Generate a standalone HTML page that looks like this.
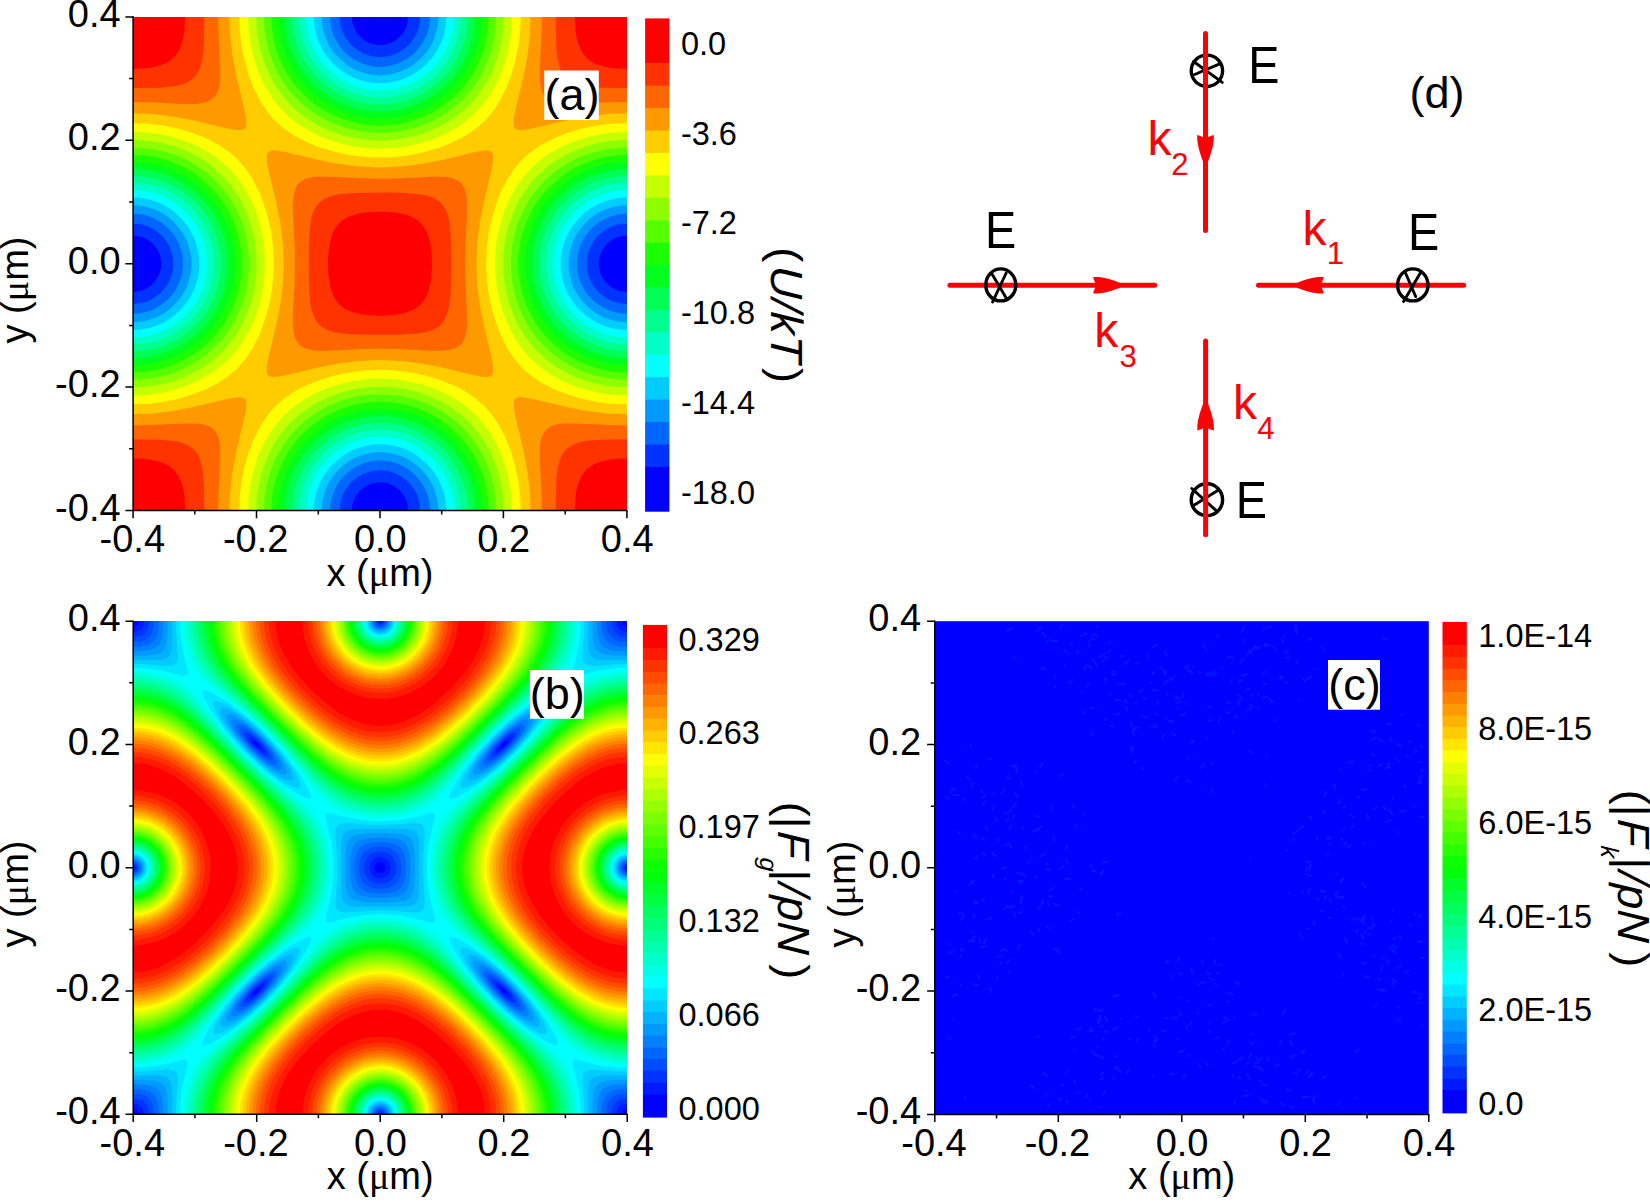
<!DOCTYPE html>
<html lang="en"><head><meta charset="utf-8"><title>Optical lattice potential and forces</title>
<style>html,body{margin:0;padding:0;background:#fff;overflow:hidden}svg{display:block}</style></head>
<body>
<svg width="1650" height="1204" viewBox="0 0 1650 1204" font-family="'Liberation Sans',sans-serif" fill="#000">
<rect width="1650" height="1204" fill="#fff"/>
<defs>
<clipPath id="ca"><rect x="133.0" y="17.0" width="494.0" height="494.0"/></clipPath>
<clipPath id="cb"><rect x="133.0" y="621.0" width="494.0" height="494.0"/></clipPath>
</defs>
<g clip-path="url(#ca)"><rect x="133" y="17" width="494" height="494" fill="#0000ff"/>
<path fill="#0033ff" d="M132.1 15.9l219.8 0 0.4 6.2 1.1 4.1 3.1 6.2 3.4 4.2 5 4.1 4.8 2.4 6.2 1.7 4.1 0.3 4.1-0.3 6.2-1.7 4.8-2.4 5-4.1 3.4-4.2 3.1-6.2 1.1-4.1 0.4-6.2 219.8 0 0 219.7 -6.2 0.4 -4.1 1.1 -6.2 3.1 -4.2 3.4 -4.1 5.1 -2.4 4.7 -1.7 6.2 -0.3 4.1 0.3 4.1 1.7 6.2 2.4 4.7 4.1 5.1 4.2 3.4 6.2 3.1 4.1 1.1 6.2 0.4 0 219.7 -219.8 0 -0.4-6.2 -1.1-4.1 -3.1-6.2 -3.4-4.2 -5-4.1 -4.8-2.4 -6.2-1.7 -4.1-0.3 -4.1 0.3 -6.2 1.7 -4.8 2.4 -5 4.1 -3.4 4.2 -3.1 6.2 -1.1 4.1 -0.4 6.2 -219.8 0 0-219.7 6.2-0.4 4.1-1.1 6.2-3.1 4.2-3.4 4.1-5.1 2.4-4.7 1.7-6.2 0.3-4.1 -0.3-4.1 -1.7-6.2 -2.4-4.7 -4.1-5.1 -4.2-3.4 -6.2-3.1 -4.1-1.1 -6.2-0.4z"/>
<path fill="#0066ff" d="M132.1 15.9l207.6 0 0.6 8.3 2.5 8.2 3.3 6.2 5 6.3 6.2 5.2 6.2 3.5 8.2 2.7 8.3 0.9 8.3-0.9 8.2-2.7 6.2-3.5 6.2-5.2 5-6.3 3.3-6.2 2.5-8.2 0.6-8.3 207.6 0 0 207.5 -8.3 0.7 -8.2 2.4 -6.2 3.3 -6.3 5 -5.3 6.2 -3.4 6.2 -2.8 8.2 -0.8 8.3 0.8 8.3 2.8 8.2 3.4 6.2 5.3 6.2 6.3 5 6.2 3.3 8.2 2.4 8.3 0.7 0 207.5 -207.6 0 -0.6-8.3 -2.5-8.2 -3.3-6.2 -5-6.3 -6.2-5.2 -6.2-3.5 -8.2-2.7 -8.3-0.9 -8.3 0.9 -8.2 2.7 -6.2 3.5 -6.2 5.2 -5 6.3 -3.3 6.2 -2.5 8.2 -0.6 8.3 -207.6 0 0-207.5 8.3-0.7 8.2-2.4 6.2-3.3 6.3-5 5.3-6.2 3.4-6.2 2.8-8.2 0.8-8.3 -0.8-8.3 -2.8-8.2 -3.4-6.2 -5.3-6.2 -6.3-5 -6.2-3.3 -8.2-2.4 -8.3-0.7z"/>
<path fill="#0099ff" d="M132.1 15.9l197.9 0 0.3 6.2 0.6 4.1 1.6 6.2 1.6 4.2 4.5 8.2 6.3 7.6 4.1 3.6 4.1 3 8.3 4.3 8.3 2.5 4.1 0.7 6.2 0.4 6.2-0.4 4.1-0.7 8.3-2.5 8.3-4.3 4.1-3 4.1-3.6 6.3-7.6 4.5-8.2 1.6-4.2 1.6-6.2 0.6-4.1 0.3-6.2 197.9 0 0 197.8 -6.2 0.3 -4.1 0.6 -6.2 1.6 -4.2 1.6 -8.2 4.5 -7.6 6.3 -3.6 4.1 -3 4.2 -4.3 8.2 -2.5 8.3 -0.7 4.1 -0.4 6.2 0.4 6.2 0.7 4.1 2.5 8.3 4.3 8.2 3 4.2 3.6 4.1 7.6 6.3 8.2 4.5 4.2 1.6 6.2 1.6 4.1 0.6 6.2 0.3 0 197.8 -197.9 0 -0.3-6.2 -0.6-4.1 -1.6-6.2 -1.6-4.2 -4.5-8.2 -6.3-7.6 -4.1-3.6 -4.1-3 -8.3-4.3 -8.3-2.5 -4.1-0.7 -6.2-0.4 -6.2 0.4 -4.1 0.7 -8.3 2.5 -8.3 4.3 -4.1 3 -4.1 3.6 -6.3 7.6 -4.5 8.2 -1.6 4.2 -1.6 6.2 -0.6 4.1 -0.3 6.2 -197.9 0 0-197.8 6.2-0.3 4.1-0.6 6.2-1.6 4.2-1.6 8.2-4.5 7.6-6.3 3.6-4.1 3-4.2 4.3-8.2 2.5-8.3 0.7-4.1 0.4-6.2 -0.4-6.2 -0.7-4.1 -2.5-8.3 -4.3-8.2 -3-4.2 -3.6-4.1 -7.6-6.3 -8.2-4.5 -4.2-1.6 -6.2-1.6 -4.1-0.6 -6.2-0.3z"/>
<path fill="#00ccff" d="M132.1 15.9l189.4 0 0.3 6.2 0.9 6.2 3.1 10.3 2.6 5.6 2.8 4.7 3.4 4.6 4.1 4.6 8.2 6.9 4.2 2.6 6.2 3.1 10.3 3.3 6.2 1 6.2 0.4 6.2-0.4 6.2-1 10.3-3.3 6.2-3.1 4.2-2.6 8.2-6.9 4.1-4.6 3.4-4.6 2.8-4.7 2.6-5.6 3.1-10.3 0.9-6.2 0.3-6.2 189.4 0 0 189.3 -6.2 0.3 -6.2 0.9 -10.3 3.1 -5.6 2.6 -4.8 2.8 -4.5 3.4 -4.6 4.1 -6.9 8.3 -2.6 4.1 -3.1 6.2 -3.3 10.3 -1 6.2 -0.4 6.2 0.4 6.2 1 6.2 3.3 10.3 3.1 6.2 2.6 4.1 6.9 8.3 4.6 4.1 4.5 3.4 4.8 2.8 5.6 2.6 10.3 3.1 6.2 0.9 6.2 0.3 0 189.3 -189.4 0 -0.3-6.2 -0.9-6.2 -3.1-10.3 -2.6-5.6 -2.8-4.7 -3.4-4.6 -4.1-4.6 -8.2-6.9 -4.2-2.6 -6.2-3.1 -10.3-3.3 -6.2-1 -6.2-0.4 -6.2 0.4 -6.2 1 -10.3 3.3 -6.2 3.1 -4.2 2.6 -8.2 6.9 -4.1 4.6 -3.4 4.6 -2.8 4.7 -2.6 5.6 -3.1 10.3 -0.9 6.2 -0.3 6.2 -189.4 0 0-189.3 6.2-0.3 6.2-0.9 10.3-3.1 5.6-2.6 4.8-2.8 4.5-3.4 4.6-4.1 6.9-8.3 2.6-4.1 3.1-6.2 3.3-10.3 1-6.2 0.4-6.2 -0.4-6.2 -1-6.2 -3.3-10.3 -3.1-6.2 -2.6-4.1 -6.9-8.3 -4.6-4.1 -4.5-3.4 -4.8-2.8 -5.6-2.6 -10.3-3.1 -6.2-0.9 -6.2-0.3z"/>
<path fill="#00ffff" d="M132.1 15.9l181.6 0 0.2 6.2 0.8 6.2 1.4 6.2 2.1 6.2 2.8 6.2 3.6 6.2 3.8 5.1 4.6 5.2 4.5 4.1 5.4 4.2 6.1 3.7 6.2 2.9 6.2 2.2 6.2 1.5 6.2 0.9 6.2 0.3 6.2-0.3 6.2-0.9 6.2-1.5 6.2-2.2 6.2-2.9 6.1-3.7 5.4-4.2 4.5-4.1 4.6-5.2 3.8-5.1 3.6-6.2 2.8-6.2 2.1-6.2 1.4-6.2 0.8-6.2 0.2-6.2 181.6 0 0 181.5 -6.2 0.2 -6.2 0.8 -6.2 1.5 -6.2 2 -6.2 2.8 -6.2 3.6 -5.1 3.8 -5.2 4.6 -4.1 4.5 -4.2 5.4 -3.7 6.1 -2.9 6.2 -2.2 6.2 -1.5 6.2 -0.9 6.2 -0.3 6.2 0.3 6.2 0.9 6.2 1.5 6.2 2.2 6.2 2.9 6.2 3.7 6.1 4.2 5.4 4.1 4.5 5.2 4.6 5.1 3.8 6.2 3.6 6.2 2.8 6.2 2 6.2 1.5 6.2 0.8 6.2 0.2 0 181.5 -181.6 0 -0.2-6.2 -0.8-6.2 -1.4-6.2 -2.1-6.2 -2.8-6.2 -3.6-6.2 -3.8-5.1 -4.6-5.2 -4.5-4.1 -5.4-4.2 -6.1-3.7 -6.2-2.9 -6.2-2.2 -6.2-1.5 -6.2-0.9 -6.2-0.3 -6.2 0.3 -6.2 0.9 -6.2 1.5 -6.2 2.2 -6.2 2.9 -6.1 3.7 -5.4 4.2 -4.5 4.1 -4.6 5.2 -3.8 5.1 -3.6 6.2 -2.8 6.2 -2.1 6.2 -1.4 6.2 -0.8 6.2 -0.2 6.2 -181.6 0 0-181.5 6.2-0.2 6.2-0.8 6.2-1.5 6.2-2 6.2-2.8 6.2-3.6 5.1-3.8 5.2-4.6 4.1-4.5 4.2-5.4 3.7-6.1 2.9-6.2 2.2-6.2 1.5-6.2 0.9-6.2 0.3-6.2 -0.3-6.2 -0.9-6.2 -1.5-6.2 -2.2-6.2 -2.9-6.2 -3.7-6.1 -4.2-5.4 -4.1-4.5 -5.2-4.6 -5.1-3.8 -6.2-3.6 -6.2-2.8 -6.2-2 -6.2-1.5 -6.2-0.8 -6.2-0.2z"/>
<path fill="#00ffc6" d="M132.1 15.9l174.2 0 0.4 8.3 0.9 6.2 2.1 8.2 2.2 6.2 3 6.2 3.6 6.2 4.6 6.2 5.3 5.8 6.2 5.4 6.1 4.4 6.2 3.6 6.2 2.8 6.2 2.1 6.2 1.6 6.2 1 8.3 0.4 8.3-0.4 6.2-1 6.2-1.6 6.2-2.1 6.2-2.8 6.2-3.6 6.1-4.4 6.2-5.4 5.3-5.8 4.6-6.2 3.6-6.2 3-6.2 2.2-6.2 2.1-8.2 0.9-6.2 0.4-8.3 174.2 0 0 174.2 -8.3 0.3 -6.2 0.9 -8.2 2.1 -6.2 2.3 -6.2 2.9 -6.2 3.7 -6.2 4.5 -5.8 5.3 -5.5 6.2 -4.4 6.2 -3.5 6.2 -2.8 6.2 -2.1 6.1 -1.6 6.2 -1 6.2 -0.5 8.3 0.5 8.3 1 6.2 1.6 6.2 2.1 6.1 2.8 6.2 3.5 6.2 4.4 6.2 5.5 6.2 5.8 5.3 6.2 4.5 6.2 3.7 6.2 2.9 6.2 2.3 8.2 2.1 6.2 0.9 8.3 0.3 0 174.2 -174.2 0 -0.4-8.3 -0.9-6.2 -2.1-8.2 -2.2-6.2 -3-6.2 -3.6-6.2 -4.6-6.2 -5.3-5.8 -6.2-5.4 -6.1-4.4 -6.2-3.6 -6.2-2.8 -6.2-2.1 -6.2-1.6 -6.2-1 -8.3-0.4 -8.3 0.4 -6.2 1 -6.2 1.6 -6.2 2.1 -6.2 2.8 -6.2 3.6 -6.1 4.4 -6.2 5.4 -5.3 5.8 -4.6 6.2 -3.6 6.2 -3 6.2 -2.2 6.2 -2.1 8.2 -0.9 6.2 -0.4 8.3 -174.2 0 0-174.2 8.3-0.3 6.2-0.9 8.2-2.1 6.2-2.3 6.2-2.9 6.2-3.7 6.2-4.5 5.8-5.3 5.5-6.2 4.4-6.2 3.5-6.2 2.8-6.2 2.1-6.1 1.6-6.2 1-6.2 0.5-8.3 -0.5-8.3 -1-6.2 -1.6-6.2 -2.1-6.1 -2.8-6.2 -3.5-6.2 -4.4-6.2 -5.5-6.2 -5.8-5.3 -6.2-4.5 -6.2-3.7 -6.2-2.9 -6.2-2.3 -8.2-2.1 -6.2-0.9 -8.3-0.3z"/>
<path fill="#00ff8e" d="M132.1 15.9l167.1 0 0.4 8.3 1.2 8.2 2.1 8.3 2.2 6.2 3.9 8.2 3.7 6.2 4.6 6.2 5.6 6.2 5.5 5.1 6.2 4.7 7.7 4.7 6.7 3.2 6.2 2.3 8.3 2.2 8.2 1.3 8.3 0.4 8.3-0.4 8.2-1.3 8.3-2.2 6.2-2.3 6.7-3.2 7.7-4.7 6.2-4.7 5.5-5.1 5.6-6.2 4.6-6.2 3.7-6.2 3.9-8.2 2.2-6.2 2.1-8.3 1.2-8.2 0.4-8.3 167.1 0 0 167.1 -8.3 0.3 -8.2 1.2 -8.3 2.1 -6.2 2.2 -8.3 3.9 -6.1 3.8 -6.2 4.5 -6.2 5.6 -5.1 5.5 -4.7 6.2 -4.7 7.7 -3.2 6.7 -2.3 6.2 -2.2 8.3 -1.3 8.2 -0.5 8.3 0.5 8.3 1.3 8.2 2.2 8.3 2.3 6.2 3.2 6.7 4.7 7.7 4.7 6.2 5.1 5.5 6.2 5.6 6.2 4.5 6.1 3.8 8.3 3.9 6.2 2.2 8.3 2.1 8.2 1.2 8.3 0.3 0 167.1 -167.1 0 -0.4-8.3 -1.2-8.2 -2.1-8.3 -2.2-6.2 -3.9-8.2 -3.7-6.2 -4.6-6.2 -5.6-6.2 -5.5-5.1 -6.2-4.7 -7.7-4.7 -6.7-3.2 -6.2-2.3 -8.3-2.2 -8.2-1.3 -8.3-0.4 -8.3 0.4 -8.2 1.3 -8.3 2.2 -6.2 2.3 -6.7 3.2 -7.7 4.7 -6.2 4.7 -5.5 5.1 -5.6 6.2 -4.6 6.2 -3.7 6.2 -3.9 8.2 -2.2 6.2 -2.1 8.3 -1.2 8.2 -0.4 8.3 -167.1 0 0-167.1 8.3-0.3 8.2-1.2 8.3-2.1 6.2-2.2 8.3-3.9 6.1-3.8 6.2-4.5 6.2-5.6 5.1-5.5 4.7-6.2 3.8-6.2 4.1-8.2 2.3-6.2 2.2-8.3 1.3-8.2 0.5-8.3 -0.5-8.3 -1.3-8.2 -2.2-8.3 -2.3-6.2 -4.1-8.2 -3.8-6.2 -4.7-6.2 -5.1-5.5 -6.2-5.6 -6.2-4.5 -6.1-3.8 -8.3-3.9 -6.2-2.2 -8.3-2.1 -8.2-1.2 -8.3-0.3z"/>
<path fill="#00ff55" d="M132.1 15.9l160.1 0 0.3 8.3 1.1 8.2 2 8.3 2.8 8.2 3.8 8.3 4.9 8.3 4.7 6.4 6.2 6.9 6.2 5.6 7.9 5.8 7 4.2 7.8 3.7 8.3 2.9 8.3 2 8.2 1.2 8.3 0.4 8.3-0.4 8.2-1.2 8.3-2 8.3-2.9 7.8-3.7 7-4.2 7.9-5.8 6.2-5.6 6.2-6.9 4.7-6.4 4.9-8.3 3.8-8.3 2.8-8.2 2-8.3 1.1-8.2 0.3-8.3 160.1 0 0 160.1 -8.3 0.3 -8.2 1.1 -8.3 1.9 -8.3 2.8 -8.2 3.8 -8.3 4.9 -6.4 4.8 -6.9 6.2 -5.7 6.1 -5.8 7.9 -4.1 7 -3.7 7.9 -2.9 8.2 -2.1 8.3 -1.2 8.2 -0.4 8.3 0.4 8.3 1.2 8.2 2.1 8.3 2.9 8.2 3.7 7.9 4.1 7 5.8 7.9 5.7 6.1 6.9 6.2 6.4 4.8 8.3 4.9 8.2 3.8 8.3 2.8 8.3 1.9 8.2 1.1 8.3 0.3 0 160.1 -160.1 0 -0.3-8.3 -1.1-8.2 -2-8.3 -2.8-8.2 -3.8-8.3 -4.9-8.3 -4.7-6.4 -6.2-6.9 -6.2-5.6 -7.9-5.8 -7-4.2 -7.8-3.7 -8.3-2.9 -8.3-2 -8.2-1.2 -8.3-0.4 -8.3 0.4 -8.2 1.2 -8.3 2 -8.3 2.9 -7.8 3.7 -7 4.2 -7.9 5.8 -6.2 5.6 -6.2 6.9 -4.7 6.4 -4.9 8.3 -3.8 8.3 -2.8 8.2 -2 8.3 -1.1 8.2 -0.3 8.3 -160.1 0 0-160.1 8.3-0.3 8.2-1.1 8.3-1.9 8.3-2.8 8.2-3.8 8.3-4.9 6.4-4.8 6.9-6.2 5.7-6.1 5.8-7.9 4.1-7 3.7-7.9 2.9-8.2 2.1-8.3 1.2-8.2 0.4-8.3 -0.4-8.3 -1.2-8.2 -2.1-8.3 -2.9-8.2 -3.7-7.9 -4.1-7 -5.8-7.9 -5.7-6.1 -6.9-6.2 -6.4-4.8 -8.3-4.9 -8.2-3.8 -8.3-2.8 -8.3-1.9 -8.2-1.1 -8.3-0.3z"/>
<path fill="#00ff1c" d="M132.1 15.9l153.2 0 0.5 10.3 1.2 8.3 2.5 10.3 3 8.3 4 8.2 4.9 8.3 6.3 8.2 5.7 6.2 6.9 6.2 8.1 5.9 8.2 4.9 8.1 3.7 8.4 2.9 8.3 2.1 8.3 1.3 10.3 0.6 10.3-0.6 8.3-1.3 8.3-2.1 8.4-2.9 8.1-3.7 8.2-4.9 8.1-5.9 6.9-6.2 5.7-6.2 6.3-8.2 4.9-8.3 4-8.2 3-8.3 2.5-10.3 1.2-8.3 0.5-10.3 153.2 0 0 153.1 -10.3 0.5 -8.3 1.2 -10.3 2.6 -8.3 3 -8.2 3.9 -8.3 5 -8.3 6.2 -6.2 5.7 -6.2 6.9 -5.9 8.1 -4.8 8.2 -3.7 8.2 -3 8.4 -2 8.2 -1.3 8.3 -0.6 10.3 0.6 10.3 1.3 8.3 2 8.2 3 8.4 3.7 8.2 4.8 8.2 5.9 8.1 6.2 6.9 6.2 5.7 8.3 6.2 8.3 5 8.2 3.9 8.3 3 10.3 2.6 8.3 1.2 10.3 0.5 0 153.1 -153.2 0 -0.5-10.3 -1.2-8.3 -2.5-10.3 -3-8.3 -4-8.2 -4.9-8.3 -6.3-8.2 -5.7-6.2 -6.9-6.2 -8.1-5.9 -8.2-4.9 -8.1-3.7 -8.4-2.9 -8.3-2.1 -8.3-1.3 -10.3-0.6 -10.3 0.6 -8.3 1.3 -8.3 2.1 -8.4 2.9 -8.1 3.7 -8.2 4.9 -8.1 5.9 -6.9 6.2 -5.7 6.2 -6.3 8.2 -4.9 8.3 -4 8.2 -3 8.3 -2.5 10.3 -1.2 8.3 -0.5 10.3 -153.2 0 0-153.1 10.3-0.5 8.3-1.2 10.3-2.6 8.3-3 8.2-3.9 8.3-5 8.3-6.2 6.2-5.7 6.2-6.9 5.9-8.1 4.8-8.2 3.7-8.2 3-8.4 2-8.2 1.3-8.3 0.6-10.3 -0.6-10.3 -1.3-8.3 -2-8.2 -3-8.4 -3.7-8.2 -4.8-8.2 -5.9-8.1 -6.2-6.9 -6.2-5.7 -8.3-6.2 -8.3-5 -8.2-3.9 -8.3-3 -10.3-2.6 -8.3-1.2 -10.3-0.5z"/>
<path fill="#1cff00" d="M132.1 15.9l146.2 0 0.4 10.3 1.5 10.4 2.6 10.3 3 8.2 3.8 8.3 5.7 9.8 6.2 8.4 6.2 6.8 6.4 6 8.1 6.2 8.2 5.1 10.3 5 8.3 3 10.3 2.7 10.4 1.6 10.3 0.5 10.3-0.5 10.4-1.6 10.3-2.7 8.3-3 10.3-5 8.2-5.1 8.1-6.2 6.4-6 6.2-6.8 6.2-8.4 5.7-9.8 3.8-8.3 3-8.2 2.6-10.3 1.5-10.4 0.4-10.3 146.2 0 0 146.2 -10.3 0.4 -10.4 1.5 -10.3 2.6 -8.3 2.9 -8.2 3.8 -9.8 5.7 -8.4 6.2 -6.9 6.2 -5.9 6.4 -6.2 8.1 -5.1 8.2 -5 10.4 -3 8.2 -2.8 10.3 -1.6 10.4 -0.5 10.3 0.5 10.3 1.6 10.4 2.8 10.3 3 8.2 5 10.4 5.1 8.2 6.2 8.1 5.9 6.4 6.9 6.2 8.4 6.2 9.8 5.7 8.2 3.8 8.3 2.9 10.3 2.6 10.4 1.5 10.3 0.4 0 146.2 -146.2 0 -0.4-10.3 -1.5-10.4 -2.6-10.3 -3-8.2 -3.8-8.3 -5.7-9.8 -6.2-8.4 -6.2-6.8 -6.4-6 -8.1-6.2 -8.2-5.1 -10.3-5 -8.3-3 -10.3-2.7 -10.4-1.6 -10.3-0.5 -10.3 0.5 -10.4 1.6 -10.3 2.7 -8.3 3 -10.3 5 -8.2 5.1 -8.1 6.2 -6.4 6 -6.2 6.8 -6.2 8.4 -5.7 9.8 -3.8 8.3 -3 8.2 -2.6 10.3 -1.5 10.4 -0.4 10.3 -146.2 0 0-146.2 10.3-0.4 10.4-1.5 10.3-2.6 8.3-2.9 8.2-3.8 9.8-5.7 8.4-6.2 6.9-6.2 5.9-6.4 6.2-8.1 5.1-8.2 5-10.4 3-8.2 2.8-10.3 1.6-10.4 0.5-10.3 -0.5-10.3 -1.6-10.4 -2.8-10.3 -3-8.2 -5-10.4 -5.1-8.2 -6.2-8.1 -5.9-6.4 -6.9-6.2 -8.4-6.2 -9.8-5.7 -8.2-3.8 -8.3-2.9 -10.3-2.6 -10.4-1.5 -10.3-0.4z"/>
<path fill="#55ff00" d="M132.1 15.9l139.1 0 0.6 12.4 1.6 10.3 2.6 10.3 3.7 10.4 4.9 10.3 5 8.2 6.1 8.3 7.5 8.3 8.6 7.6 8.3 6 8.5 5 10.1 4.6 10.3 3.6 10.3 2.5 10.4 1.5 10.3 0.5 10.3-0.5 10.4-1.5 10.3-2.5 10.3-3.6 10.1-4.6 8.5-5 8.3-6 8.6-7.6 7.5-8.3 6.1-8.3 5-8.2 4.9-10.3 3.7-10.4 2.6-10.3 1.6-10.3 0.6-12.4 139.1 0 0 139.1 -12.4 0.5 -10.3 1.6 -10.4 2.6 -10.3 3.7 -10.3 4.9 -8.3 5 -8.2 6.1 -8.3 7.5 -7.7 8.7 -5.9 8.2 -5 8.5 -4.7 10.1 -3.6 10.3 -2.4 10.3 -1.5 10.4 -0.5 10.3 0.5 10.3 1.5 10.4 2.4 10.3 3.6 10.3 4.7 10.1 5 8.5 5.9 8.2 7.7 8.7 8.3 7.5 8.2 6.1 8.3 5 10.3 4.9 10.3 3.7 10.4 2.6 10.3 1.6 12.4 0.5 0 139.1 -139.1 0 -0.6-12.4 -1.6-10.3 -2.6-10.3 -3.7-10.4 -4.9-10.3 -5-8.2 -6.1-8.3 -7.5-8.3 -8.6-7.6 -8.3-6 -8.5-5 -10.1-4.6 -10.3-3.6 -10.3-2.5 -10.4-1.5 -10.3-0.5 -10.3 0.5 -10.4 1.5 -10.3 2.5 -10.3 3.6 -10.1 4.6 -8.5 5 -8.3 6 -8.6 7.6 -7.5 8.3 -6.1 8.3 -5 8.2 -4.9 10.3 -3.7 10.4 -2.6 10.3 -1.6 10.3 -0.6 12.4 -139.1 0 0-139.1 12.4-0.5 10.3-1.6 10.4-2.6 10.3-3.7 10.3-4.9 8.3-5 8.2-6.1 8.3-7.5 7.7-8.7 5.9-8.2 5-8.5 4.7-10.1 3.6-10.3 2.4-10.3 1.5-10.4 0.5-10.3 -0.5-10.3 -1.5-10.4 -2.4-10.3 -3.6-10.3 -4.7-10.1 -5-8.5 -5.9-8.2 -7.7-8.7 -8.3-7.5 -8.2-6.1 -8.3-5 -10.3-4.9 -10.3-3.7 -10.4-2.6 -10.3-1.6 -12.4-0.5z"/>
<path fill="#8eff00" d="M132.1 15.9l131.8 0 0.5 12.4 1.4 10.3 3 12.4 3.6 10.3 4.6 10.4 6.1 10.3 6 8.3 8.3 9.3 7.9 7.2 8.6 6.3 10.3 6.2 10.4 4.8 10.3 3.7 12.4 3 10.3 1.5 12.4 0.7 12.4-0.7 10.3-1.5 12.4-3 10.3-3.7 10.4-4.8 10.3-6.2 8.6-6.3 7.9-7.2 8.3-9.3 6-8.3 6.1-10.3 4.6-10.4 3.6-10.3 3-12.4 1.4-10.3 0.5-12.4 131.8 0 0 131.7 -12.4 0.6 -10.3 1.4 -12.4 2.9 -10.3 3.6 -10.4 4.7 -10.3 6 -8.4 6 -9.2 8.3 -7.2 7.9 -6.4 8.6 -6.1 10.3 -4.8 10.4 -3.7 10.3 -3.1 12.4 -1.5 10.3 -0.6 12.4 0.6 12.4 1.5 10.3 3.1 12.4 3.7 10.3 4.8 10.4 6.1 10.3 6.4 8.6 7.2 7.9 9.2 8.3 8.4 6 10.3 6 10.4 4.7 10.3 3.6 12.4 2.9 10.3 1.4 12.4 0.6 0 131.7 -131.8 0 -0.5-12.4 -1.4-10.3 -3-12.4 -3.6-10.3 -4.6-10.4 -6.1-10.3 -6-8.3 -8.3-9.3 -7.9-7.2 -8.6-6.3 -10.3-6.2 -10.4-4.8 -10.3-3.7 -12.4-3 -10.3-1.5 -12.4-0.7 -12.4 0.7 -10.3 1.5 -12.4 3 -10.3 3.7 -10.4 4.8 -10.3 6.2 -8.6 6.3 -7.9 7.2 -8.3 9.3 -6 8.3 -6.1 10.3 -4.6 10.4 -3.6 10.3 -3 12.4 -1.4 10.3 -0.5 12.4 -131.8 0 0-131.7 12.4-0.6 10.3-1.4 12.4-2.9 10.3-3.6 10.4-4.7 10.3-6 8.4-6 9.2-8.3 7.2-7.9 6.4-8.6 6.1-10.3 4.8-10.4 3.7-10.3 3.1-12.4 1.5-10.3 0.6-12.4 -0.6-12.4 -1.5-10.3 -3.1-12.4 -3.7-10.3 -4.8-10.4 -6.1-10.3 -6.4-8.6 -7.2-7.9 -9.2-8.3 -8.4-6 -10.3-6 -10.4-4.7 -10.3-3.6 -12.4-2.9 -10.3-1.4 -12.4-0.6z"/>
<path fill="#c6ff00" d="M132.1 15.9l124.1 0 0.5 12.4 1.6 12.4 2.9 12.4 4.2 12.4 5.1 11.4 6.2 10.7 6.4 8.8 8.1 9.1 8.2 7.5 10.4 7.5 10.3 5.9 10.3 4.7 12.4 4.3 12.4 2.9 12.4 1.8 12.4 0.6 12.4-0.6 12.4-1.8 12.4-2.9 12.4-4.3 10.3-4.7 10.3-5.9 10.4-7.5 8.2-7.5 8.1-9.1 6.4-8.8 6.2-10.7 5.1-11.4 4.2-12.4 2.9-12.4 1.6-12.4 0.5-12.4 124.1 0 0 124.1 -12.4 0.4 -12.4 1.7 -12.4 2.8 -12.4 4.2 -11.4 5.2 -10.7 6.1 -8.9 6.4 -9 8.1 -7.5 8.3 -7.5 10.3 -5.9 10.3 -4.7 10.3 -4.3 12.4 -3 12.4 -1.7 12.4 -0.6 12.4 0.6 12.4 1.7 12.4 3 12.4 4.3 12.4 4.7 10.3 5.9 10.3 7.5 10.3 7.5 8.3 9 8.1 8.9 6.4 10.7 6.1 11.4 5.2 12.4 4.2 12.4 2.8 12.4 1.7 12.4 0.4 0 124.1 -124.1 0 -0.5-12.4 -1.6-12.4 -2.9-12.4 -4.2-12.4 -5.1-11.4 -6.2-10.7 -6.4-8.8 -8.1-9.1 -8.2-7.5 -10.4-7.5 -10.3-5.9 -10.3-4.7 -12.4-4.3 -12.4-2.9 -12.4-1.8 -12.4-0.6 -12.4 0.6 -12.4 1.8 -12.4 2.9 -12.4 4.3 -10.3 4.7 -10.3 5.9 -10.4 7.5 -8.2 7.5 -8.1 9.1 -6.4 8.8 -6.2 10.7 -5.1 11.4 -4.2 12.4 -2.9 12.4 -1.6 12.4 -0.5 12.4 -124.1 0 0-124.1 12.4-0.4 12.4-1.7 12.4-2.8 12.4-4.2 11.4-5.2 10.7-6.1 8.9-6.4 9-8.1 7.5-8.3 7.5-10.3 5.9-10.3 4.7-10.3 4.3-12.4 3-12.4 1.7-12.4 0.6-12.4 -0.6-12.4 -1.7-12.4 -3-12.4 -4.3-12.4 -4.7-10.3 -5.9-10.3 -7.5-10.3 -7.5-8.3 -9-8.1 -8.9-6.4 -10.7-6.1 -11.4-5.2 -12.4-4.2 -12.4-2.8 -12.4-1.7 -12.4-0.4z"/>
<path fill="#ffff00" d="M132.1 15.9l116 0 0.5 14.5 1.7 12.3 3.2 14.5 4 12.4 5.3 12.4 7 12.4 6.9 9.6 8.1 9 8.4 7.4 10.4 7.3 10.5 5.9 12.2 5.4 12.4 4.1 14.4 3.3 14.5 1.9 12.4 0.5 12.4-0.5 14.5-1.9 14.4-3.3 12.4-4.1 12.2-5.4 10.5-5.9 10.4-7.3 8.4-7.4 8.1-9 6.9-9.6 7-12.4 5.3-12.4 4-12.4 3.2-14.5 1.7-12.3 0.5-14.5 116 0 0 115.9 -14.5 0.6 -12.4 1.6 -14.4 3.3 -12.4 4 -12.4 5.3 -12.4 7 -9.6 6.8 -9 8.2 -7.5 8.4 -7.3 10.3 -5.9 10.5 -5.3 12.2 -4.1 12.4 -3.4 14.5 -1.8 14.4 -0.5 12.4 0.5 12.4 1.8 14.4 3.4 14.5 4.1 12.4 5.3 12.2 5.9 10.5 7.3 10.3 7.5 8.4 9 8.2 9.6 6.8 12.4 7 12.4 5.3 12.4 4 14.4 3.3 12.4 1.6 14.5 0.6 0 115.9 -116 0 -0.5-14.5 -1.7-12.3 -3.2-14.5 -4-12.4 -5.3-12.4 -7-12.4 -6.9-9.6 -8.1-9 -8.4-7.4 -10.4-7.3 -10.5-5.9 -12.2-5.4 -12.4-4.1 -14.4-3.3 -14.5-1.9 -12.4-0.5 -12.4 0.5 -14.5 1.9 -14.4 3.3 -12.4 4.1 -12.2 5.4 -10.5 5.9 -10.4 7.3 -8.4 7.4 -8.1 9 -6.9 9.6 -7 12.4 -5.3 12.4 -4 12.4 -3.2 14.5 -1.7 12.3 -0.5 14.5 -116 0 0-115.9 14.5-0.6 12.4-1.6 14.4-3.3 12.4-4 12.4-5.3 12.4-7 9.6-6.8 9-8.2 7.5-8.4 7.3-10.3 5.9-10.5 5.3-12.2 4.1-12.4 3.4-14.5 1.8-14.4 0.5-12.4 -0.5-12.4 -1.8-14.4 -3.4-14.5 -4.1-12.4 -5.3-12.2 -5.9-10.5 -7.3-10.3 -7.5-8.4 -9-8.2 -9.6-6.8 -12.4-7 -12.4-5.3 -12.4-4 -14.4-3.3 -12.4-1.6 -14.5-0.6z"/>
<path fill="#ffcc00" d="M132.1 15.9l107.1 0 0.7 16.5 1.8 14.5 3.1 14.4 4.2 14.5 5.7 14.4 6.5 12.4 7 10.4 7.2 8.2 9.6 8.3 10.3 6.8 12.4 6.3 12.4 4.9 14.5 4.3 14.4 3.1 16.5 2.1 14.5 0.6 14.5-0.6 16.5-2.1 14.4-3.1 14.5-4.3 12.4-4.9 12.4-6.3 10.3-6.8 9.6-8.3 7.2-8.2 7-10.4 6.5-12.4 5.7-14.4 4.2-14.5 3.1-14.4 1.8-14.5 0.7-16.5 107.1 0 0 107.1 -16.5 0.7 -14.5 1.8 -14.4 3 -14.5 4.3 -14.5 5.7 -12.4 6.4 -10.3 7 -8.3 7.3 -8.2 9.5 -6.8 10.3 -6.3 12.4 -4.9 12.4 -4.4 14.5 -3.1 14.4 -2.1 16.5 -0.6 14.5 0.6 14.5 2.1 16.5 3.1 14.4 4.4 14.5 4.9 12.4 6.3 12.4 6.8 10.3 8.2 9.5 8.3 7.3 10.3 7 12.4 6.4 14.5 5.7 14.5 4.3 14.4 3 14.5 1.8 16.5 0.7 0 107.1 -107.1 0 -0.7-16.5 -1.8-14.5 -3.1-14.4 -4.2-14.5 -5.7-14.4 -6.5-12.4 -7-10.4 -7.2-8.2 -9.6-8.3 -10.3-6.8 -12.4-6.3 -12.4-4.9 -14.5-4.3 -14.4-3.1 -16.5-2.1 -14.5-0.6 -14.5 0.6 -16.5 2.1 -14.4 3.1 -14.5 4.3 -12.4 4.9 -12.4 6.3 -10.3 6.8 -9.6 8.3 -7.2 8.2 -7 10.4 -6.5 12.4 -5.7 14.4 -4.2 14.5 -3.1 14.4 -1.8 14.5 -0.7 16.5 -107.1 0 0-107.1 16.5-0.7 14.5-1.8 14.4-3 14.5-4.3 14.5-5.7 12.4-6.4 10.3-7 8.3-7.3 8.2-9.5 6.8-10.3 6.3-12.4 4.9-12.4 4.4-14.5 3.1-14.4 2.1-16.5 0.6-14.5 -0.6-14.5 -2.1-16.5 -3.1-14.4 -4.4-14.5 -4.9-12.4 -6.3-12.4 -6.8-10.3 -8.2-9.5 -8.3-7.3 -10.3-7 -12.4-6.4 -14.5-5.7 -14.5-4.3 -14.4-3 -14.5-1.8 -16.5-0.7z"/>
<path fill="#ff9900" d="M132.1 15.9l97.3 0 0.7 18.6 2 18.6 4.2 22.7 9.2 39.2 1 8.3 -0.8 4.3 -1.9 1.9 -2.2 0.6 -6.2-0.1 -10.3-2.1 -33.1-7.8 -18.6-3.6 -20.6-2.5 -20.7-0.8zM530.6 15.9l97.3 0 0 97.3 -18.6 0.6 -18.6 2.1 -22.7 4.2 -39.3 9.2 -8.2 1 -4.3-0.8 -1.9-1.9 -0.7-2.3 0.2-6.1 2-10.4 7.9-33 3.5-18.6 2.6-20.6zM268 152.2l2.5-1.5 2.1-0.3 4.1 0.1 10.3 1.9 35.2 8.4 16.5 3.1 20.6 2.6 20.7 0.9 20.7-0.9 20.6-2.6 20.7-4 31-7.5 8.2-1.6 6.2-0.4 2.1 0.3 2.1 1 1.5 2.6 0.3 2 -0.2 4.1 -1.9 10.4 -8.3 35.1 -3.2 16.5 -2.6 20.6 -0.9 20.7 0.9 20.7 2.6 20.6 4.1 20.6 7.4 31 1.6 8.3 0.5 6.2 -0.3 2 -1.1 2.1 -2.5 1.5 -2.1 0.3 -4.1-0.1 -10.3-1.9 -35.2-8.4 -16.5-3.1 -20.6-2.6 -20.7-0.9 -20.7 0.9 -20.6 2.6 -20.7 4 -31 7.5 -8.2 1.6 -6.2 0.4 -2.1-0.3 -2.1-1 -1.5-2.6 -0.3-2 0.2-4.1 1.9-10.4 8.3-35.1 3.2-16.5 2.6-20.6 0.9-20.7 -0.9-20.7 -2.6-20.6 -4.1-20.6 -7.4-31 -1.6-8.3 -0.5-6.2 0.3-2zM245.7 399.8l0.8 4.3 -1 8.3 -9.2 39.2 -4.2 22.7 -2 18.6 -0.7 18.6 -97.3 0 0-97.3 20.7-0.8 20.6-2.5 18.6-3.6 33.1-7.8 10.3-2.1 6.2-0.1 2.2 0.6zM514.3 399.8l1.9-1.9 2.2-0.6 6.2 0.1 10.3 2.1 33.1 7.8 18.6 3.6 20.6 2.5 20.7 0.8 0 97.3 -97.3 0 -0.7-18.6 -2-18.6 -4.2-22.7 -9.2-39.2 -1-8.3z"/>
<path fill="#ff6600" d="M132.1 15.9l86 0 0.4 18.6 1.7 33 0 10.3 -0.5 6.2 -0.8 4.4 -2.1 5.4 -2.1 3 -4.1 3.5 -4.1 1.8 -4.2 1 -6.2 0.8 -12.4 0.1 -33-1.7 -18.6-0.4zM541.9 15.9l86 0 0 86 -18.6 0.4 -33 1.7 -10.4 0 -6.2-0.5 -4.3-0.9 -5.4-2 -3.1-2.1 -3.4-4.1 -1.8-4.2 -1.1-4.1 -0.7-6.2 -0.1-12.4 1.7-33zM299.4 182.7l4.2-2.9 4.1-1.6 4.1-0.9 6.2-0.6 12.4 0 31 1.6 18.6 0.4 16.5-0.3 41.3-1.9 8.3 0.5 6.2 1.2 4.1 1.6 2.3 1.3 2.4 2.1 2.9 4.1 1.5 4.1 1 4.2 0.6 6.2 0 12.3 -1.7 31 -0.4 18.6 0.3 16.5 1.9 41.3 -0.5 8.3 -1.2 6.2 -1.5 4.1 -1.4 2.3 -2 2.3 -4.2 2.9 -4.1 1.6 -4.1 0.9 -6.2 0.6 -12.4 0 -31-1.6 -18.6-0.4 -16.5 0.3 -41.3 1.9 -8.3-0.5 -6.2-1.2 -4.1-1.6 -2.3-1.3 -2.4-2.1 -2.9-4.1 -1.5-4.1 -1-4.2 -0.6-6.2 0-12.3 1.7-31 0.4-18.6 -0.3-16.5 -1.9-41.3 0.5-8.3 1.2-6.2 1.5-4.1 1.4-2.3zM132.1 425.5l18.6-0.4 33-1.7 10.4 0 6.2 0.5 4.3 0.9 5.4 2 3.1 2.1 3.4 4.1 1.8 4.2 1.1 4.1 0.7 6.2 0.1 12.4 -1.7 33 -0.4 18.6 -86 0zM545.3 430.6l4.1-3.5 4.1-1.8 4.2-1 6.2-0.8 12.4-0.1 33 1.7 18.6 0.4 0 86 -86 0 -0.4-18.6 -1.7-33 0-10.3 0.5-6.2 0.8-4.4 2.1-5.4z"/>
<path fill="#ff3300" d="M132.1 15.9l72.2 0 -0.4 26.8 -0.5 8.3 -1.1 8.1 -1.5 6.4 -1.4 4.1 -2.2 4.1 -3.1 3.9 -4.2 3.4 -4.1 2.1 -4.1 1.5 -6.4 1.5 -8.1 1 -8.2 0.6 -26.9 0.4zM555.7 15.9l72.2 0 0 72.2 -26.9-0.4 -8.2-0.6 -8.1-1 -6.4-1.5 -4.1-1.5 -4.1-2.1 -4.2-3.4 -3.1-3.9 -2.2-4.1 -1.4-4.1 -1.5-6.4 -1.1-8.1 -0.5-8.3zM320.1 202l4.1-3 4.2-2 6.2-1.8 8.2-1.4 18.6-1.1 33.1-0.1 18.6 0.8 12.3 1.8 6.2 1.8 4.2 2 3.9 2.8 2.1 2 2.9 4.1 2 4.2 1.9 6.2 1.4 8.2 1 18.6 0.1 33.1 -0.7 18.5 -1.8 12.4 -1.9 6.2 -2 4.2 -2.7 3.9 -2.1 2 -4.1 3 -4.2 2 -6.2 1.8 -8.2 1.4 -18.6 1.1 -33.1 0.1 -18.6-0.8 -12.3-1.8 -6.2-1.8 -4.2-2 -3.9-2.8 -2.1-2 -2.9-4.1 -2-4.2 -1.9-6.2 -1.4-8.2 -1-18.6 -0.1-33.1 0.7-18.5 1.8-12.4 1.9-6.2 2-4.2 2.7-3.9zM132.1 439.3l26.9 0.4 8.2 0.6 8.1 1 6.4 1.5 4.1 1.5 4.1 2.1 4 3.2 3.3 4.1 2.2 4.1 1.4 4.1 1.5 6.4 1.1 8.1 0.5 8.3 0.4 26.8 -72.2 0zM565.9 449.8l4.2-3.4 4.1-2.1 4.1-1.5 6.4-1.5 8.1-1 8.2-0.6 26.9-0.4 0 72.2 -72.2 0 0.4-26.8 0.5-8.3 1.1-8.1 1.5-6.4 1.4-4.1 2.2-4.1z"/>
<path fill="#ff0000" d="M132.1 15.9l53.1 0 -0.7 14.5 -1.9 10.3 -3 8.5 -2.2 3.9 -3.3 4.1 -2.7 2.5 -4.2 2.7 -8.2 3.4 -6.2 1.5 -6.2 1 -14.5 0.7zM574.8 15.9l53.1 0 0 53.1 -14.5-0.7 -10.3-1.9 -8.5-3 -3.9-2.2 -4.1-3.3 -2.5-2.8 -2.7-4.1 -3.5-8.3 -1.5-6.1 -0.9-6.2zM342.5 220.3l3.2-2 4.3-2.1 9.3-2.7 12.4-1.6 14.5-0.2 10.3 1 10.4 2.4 4.1 1.5 4.1 2.2 2.4 1.5 3.8 3.5 2.3 2.7 2.5 4.2 1.8 4.1 1.7 5.3 1.9 11.2 0.6 14.5 -1.1 14.4 -2.3 10.3 -1.6 4.2 -2.1 4.1 -1.6 2.4 -3.4 3.8 -2.8 2.3 -4.1 2.5 -4.2 1.8 -5.2 1.7 -11.3 1.9 -14.5 0.6 -14.4-1.1 -10.4-2.4 -4.1-1.5 -4.1-2.2 -2.4-1.5 -3.8-3.5 -2.3-2.7 -2.5-4.2 -1.8-4.1 -1.9-6.2 -1.9-12.4 -0.4-8.2 0.1-8.3 1.3-12.4 2.8-10.3 1.8-4.1 2.5-4.2 2.3-2.7zM132.1 458.4l14.5 0.7 10.3 1.9 8.5 3 3.9 2.2 4.1 3.3 2.5 2.8 2.7 4.1 3.5 8.3 1.5 6.1 0.9 6.2 0.7 14.5 -53.1 0zM627.9 458.4l0 53.1 -53.1 0 0.7-14.5 0.9-6.2 1.5-6.1 3.5-8.3 2.7-4.1 2.5-2.8 4.1-3.3 3.9-2.2 8.5-3 10.3-1.9z"/>
</g>
<path d="M133.1 16.1V510.5H627.6" fill="none" stroke="#000" stroke-width="1.5"/>
<path d="M133.1 510.5v7.7M133.1 510.5h-7.7M194.8 510.5v4.0M133.1 448.8h-4.0M256.5 510.5v7.7M133.1 387.1h-7.7M318.3 510.5v4.0M133.1 325.4h-4.0M380.0 510.5v7.7M133.1 263.7h-7.7M441.7 510.5v4.0M133.1 202.0h-4.0M503.4 510.5v7.7M133.1 140.3h-7.7M565.2 510.5v4.0M133.1 78.6h-4.0M626.9 510.5v7.7M133.1 16.9h-7.7" stroke="#000" stroke-width="1.5" fill="none"/>
<text x="132.3" y="552.1" text-anchor="middle" font-size="38">-0.4</text>
<text x="120.6" y="520.5" text-anchor="end" font-size="38">-0.4</text>
<text x="255.7" y="552.1" text-anchor="middle" font-size="38">-0.2</text>
<text x="120.6" y="397.1" text-anchor="end" font-size="38">-0.2</text>
<text x="380.3" y="552.1" text-anchor="middle" font-size="38">0.0</text>
<text x="120.6" y="273.7" text-anchor="end" font-size="38">0.0</text>
<text x="503.7" y="552.1" text-anchor="middle" font-size="38">0.2</text>
<text x="120.6" y="150.3" text-anchor="end" font-size="38">0.2</text>
<text x="627.2" y="552.1" text-anchor="middle" font-size="38">0.4</text>
<text x="120.6" y="26.9" text-anchor="end" font-size="38">0.4</text>
<text x="380.0" y="585.5" text-anchor="middle" font-size="38">x (<tspan font-family="'Liberation Serif','DejaVu Serif',serif">μ</tspan>m)</text>
<text transform="translate(27.7 290.0) rotate(-90)" text-anchor="middle" font-size="38">y (<tspan font-family="'Liberation Serif','DejaVu Serif',serif">μ</tspan>m)</text>
<rect x="645.1" y="18.40" width="24.3" height="45.35" fill="#ff0000"/>
<rect x="645.1" y="63.25" width="24.3" height="22.92" fill="#ff3300"/>
<rect x="645.1" y="85.67" width="24.3" height="22.92" fill="#ff6600"/>
<rect x="645.1" y="108.09" width="24.3" height="22.92" fill="#ff9900"/>
<rect x="645.1" y="130.51" width="24.3" height="22.92" fill="#ffcc00"/>
<rect x="645.1" y="152.94" width="24.3" height="22.92" fill="#ffff00"/>
<rect x="645.1" y="175.36" width="24.3" height="22.92" fill="#c6ff00"/>
<rect x="645.1" y="197.78" width="24.3" height="22.92" fill="#8eff00"/>
<rect x="645.1" y="220.20" width="24.3" height="22.92" fill="#55ff00"/>
<rect x="645.1" y="242.63" width="24.3" height="22.92" fill="#1cff00"/>
<rect x="645.1" y="265.05" width="24.3" height="22.92" fill="#00ff1c"/>
<rect x="645.1" y="287.47" width="24.3" height="22.92" fill="#00ff55"/>
<rect x="645.1" y="309.90" width="24.3" height="22.92" fill="#00ff8e"/>
<rect x="645.1" y="332.32" width="24.3" height="22.92" fill="#00ffc6"/>
<rect x="645.1" y="354.74" width="24.3" height="22.92" fill="#00ffff"/>
<rect x="645.1" y="377.16" width="24.3" height="22.92" fill="#00ccff"/>
<rect x="645.1" y="399.59" width="24.3" height="22.92" fill="#0099ff"/>
<rect x="645.1" y="422.01" width="24.3" height="22.92" fill="#0066ff"/>
<rect x="645.1" y="444.43" width="24.3" height="22.92" fill="#0033ff"/>
<rect x="645.1" y="466.85" width="24.3" height="44.85" fill="#0000ff"/>
<text x="680.9" y="503.5" font-size="32.5">-18.0</text>
<text x="680.9" y="413.8" font-size="32.5">-14.4</text>
<text x="680.9" y="324.1" font-size="32.5">-10.8</text>
<text x="680.9" y="234.4" font-size="32.5">-7.2</text>
<text x="680.9" y="144.7" font-size="32.5">-3.6</text>
<text x="680.9" y="55.0" font-size="32.5">0.0</text>
<g clip-path="url(#cb)"><rect x="133" y="621" width="494" height="494" fill="#0000ff"/>
<path fill="#001aff" d="M138.5 620.2l241 0 0.1 2.1 0.6 0.3 0.5-0.3 0.1-2.1 241 0 0.2 2.4 0.8 1.7 1.3 1.3 2 0.9 2.1 0 0 240.6 -2.1 0.1 -0.3 0.6 0.3 0.5 2.1 0.1 0 240.6 -2.1 0 -2 0.9 -1.3 1.3 -0.8 1.7 -0.2 2.4 -241 0 -0.1-2.1 -0.5-0.3 -0.6 0.3 -0.1 2.1 -241 0 -0.1-2.4 -0.8-1.7 -1.3-1.3 -2.1-0.9 -2 0 0-240.6 2-0.1 0.4-0.5 -0.4-0.6 -2-0.1 0-240.6 2 0 2.1-0.9 1.3-1.3 0.8-1.7zM254.1 741l-1 0.9 1.2 2.1 3.9 3.5 2.1 0.8 -0.6-2.3 -1.6-2 -1.9-1.8zM378.1 862.7l-1.4 0.9 -1.6 2.1 -0.4 2.1 0.4 2 1.6 2.1 1.4 0.9 2.1 0.4 2-0.4 1.5-0.9 1.5-2.1 0.4-2 -0.4-2.1 -1.5-2.1 -1.5-0.9 -2-0.4zM506.3 741l-2.1 1.2 -2 1.8 -1.6 2 -0.5 2.3 2-0.8 3.9-3.5 1.2-2.1zM260.3 987.2l-2.1 0.8 -3.9 3.5 -1.2 2.1 1 0.9 2.1-1.2 1.9-1.8 1.6-2zM500.1 987.2l0.5 2.3 1.6 2 2 1.8 2.1 1.2 0.9-0.9 -1.2-2.1 -3.9-3.5z"/>
<path fill="#0033ff" d="M143.9 620.2l233.7 0 0 2.1 0.5 0.7 2.1 1 2-1 0.6-0.7 0-2.1 233.6 0 0.4 4.1 0.8 2.1 2.3 3 2.1 1.4 2.1 0.8 4.1 0.3 0 233.2 -2.1 0.1 -0.7 0.5 -1 2.1 1 2 0.7 0.5 2.1 0.1 0 233.2 -4.1 0.3 -2.1 0.8 -2.1 1.4 -2.3 3 -0.8 2.1 -0.4 4.1 -233.6 0 0-2.1 -0.6-0.7 -2-1 -2.1 1 -0.5 0.7 0 2.1 -233.7 0 -0.4-4.1 -0.7-2.1 -2.4-3 -2-1.4 -2.1-0.8 -4.1-0.3 0-233.2 2-0.1 0.7-0.5 1.1-2 -1.1-2.1 -0.7-0.5 -2-0.1 0-233.2 4.1-0.3 2.1-0.8 2-1.4 2.4-3 0.7-2.1zM248.9 737.8l0.6 2 1.3 2.1 5.4 6 4.1 3.1 2.1 1.1 2 0.1 -0.1-2 -1.1-2.1 -5.2-6.2 -6-4.6 -2-0.6zM378.1 857.1l-4.1 1.6 -2.8 2.9 -1.7 4.1 0 4.1 1.7 4.1 2.8 2.9 4.1 1.6 4.1 0 4.2-1.6 2.8-2.9 1.6-4.1 0-4.1 -1.6-4.1 -2.8-2.9 -4.2-1.6zM511.5 737.8l-1.1-1.1 -2.1 0.6 -6 4.6 -5.2 6.2 -1.1 2.1 -0.1 2 2.1-0.1 2.1-1.1 4.1-3.1 5.4-6 1.3-2.1zM264.4 983.3l-2 0.1 -2.1 1.1 -4.1 3.1 -5.4 6 -1.3 2.1 -0.6 2 1.1 1.1 2-0.6 6-4.6 5.2-6.2 1.1-2.1zM495.9 983.3l0.1 2 1.1 2.1 5.2 6.2 6 4.6 2.1 0.6 1.1-1.1 -0.6-2 -1.3-2.1 -5.4-6 -4.1-3.1 -2.1-1.1z"/>
<path fill="#004cff" d="M149.1 620.2l227 0 0 2.1 1.3 2 2.8 1.1 2.7-1.1 1.3-2 0.1-2.1 226.9 0 0.6 6.2 1.8 4.1 1.5 2.1 2.5 2 2.3 1.2 4.2 1.1 4.1 0.3 0 226.5 -2.1 0 -2 1.3 -1.1 2.8 1.1 2.7 2 1.3 2.1 0 0 226.5 -4.1 0.3 -4.2 1.1 -2.3 1.2 -2.5 2 -1.5 2.1 -1.8 4.1 -0.6 6.2 -226.9 0 -0.1-2.1 -1.3-2 -2.7-1.1 -2.8 1.1 -1.3 2 0 2.1 -227 0 -0.2-4.1 -1.1-4.2 -1.2-2.3 -2-2.4 -2.1-1.6 -4.1-1.7 -6.2-0.7 0-226.5 2 0 2.1-1.3 1.1-2.7 -1.1-2.8 -2.1-1.3 -2 0 0-226.5 6.2-0.7 4.1-1.7 2.1-1.6 2-2.4 1.2-2.3 1.1-4.2zM245.8 732.6l-1.1 1.1 0.3 2 1 2.1 2.8 4.1 3.5 4.1 8 7.1 4.1 2.6 2.1 0.8 1-0.1 1.1-1.1 0.1-1 -0.8-2.1 -2.5-4.1 -3.4-4.1 -5.8-5.7 -4.2-3.2 -4.1-2.2zM369.8 854.8l-2 1.9 -1.8 2.8 -0.9 2.1 -0.8 4.1 0 4.1 0.8 4.1 0.9 2.1 1.8 2.8 2 1.9 2.1 1.2 2.1 0.9 4.1 0.8 4.1 0 4.2-0.8 2-0.9 2.8-1.8 1.9-2 1.3-2.1 0.8-2.1 0.9-4.1 0-4.1 -0.9-4.1 -0.8-2.1 -1.8-2.8 -2.1-1.9 -2.1-1.2 -2-0.9 -4.2-0.8 -6.2 0.3 -3.5 1.1zM514.5 732.6l-2 0.3 -4.2 2.2 -4.1 3.2 -5.8 5.7 -3.4 4.1 -2.5 4.1 -0.8 2.1 0.1 1 1 1.1 1.1 0.1 2-0.8 4.2-2.6 7.9-7.1 3.6-4.1 2.8-4.1 0.9-2.1 0.3-2zM267.5 979.1l-1-0.1 -2.1 0.8 -4.1 2.6 -8 7.1 -3.5 4.1 -2.8 4.1 -1 2.1 -0.3 2 1.1 1.1 2.1-0.3 4.1-2.2 4.2-3.2 5.8-5.7 3.4-4.1 2.5-4.1 0.8-2.1 -0.1-1zM492.8 979.1l-1 1.1 -0.1 1 0.8 2.1 2.5 4.1 3.4 4.1 5.8 5.7 4.1 3.2 4.2 2.2 2 0.3 1.1-1.1 -0.3-2 -0.9-2.1 -2.8-4.1 -3.6-4.1 -7.9-7.1 -4.2-2.6 -2-0.8z"/>
<path fill="#0066ff" d="M154.1 620.2l220.5 0 0.1 2.1 1.3 2.6 2.1 1.5 2.1 0.4 2-0.4 2.1-1.5 1.4-2.6 0-2.1 220.5 0 0.4 6.2 0.9 4.1 1.9 4.1 2.3 2.7 2 1.6 4.2 1.9 4.1 1 6.2 0.4 0 220 -2.1 0 -2.6 1.4 -1.5 2.1 -0.4 2.1 0.4 2 1.5 2.1 2.6 1.4 2.1 0 0 220 -6.2 0.4 -4.1 1 -4.2 1.9 -2.7 2.2 -1.6 2.1 -1.9 4.1 -0.9 4.1 -0.4 6.2 -220.5 0 0-2.1 -1.4-2.6 -2.1-1.5 -2-0.4 -2.1 0.4 -2.1 1.5 -1.3 2.6 -0.1 2.1 -220.5 0 -0.3-6.2 -1-4.1 -1.9-4.1 -1.6-2.1 -2.7-2.2 -4.1-1.9 -4.1-1 -6.2-0.4 0-220 2 0 2.7-1.4 1.5-2.1 0.4-2 -0.4-2.1 -1.5-2.1 -2.7-1.4 -2 0 0-220 6.2-0.4 4.1-1 4.1-1.9 2.1-1.6 2.2-2.7 1.9-4.1 1-4.1zM241.7 728.4l-1.2 1.1 0.1 2.1 0.8 2.1 3.8 6.1 5.2 6.2 5.8 5.7 6.2 5 6.2 3.5 2 0.5 1.4-0.2 0.7-0.8 0.2-1.3 -1.5-4.1 -4-6.2 -5.4-6.2 -5.8-5.6 -6.2-4.7 -4.2-2.4 -2-0.7zM365.7 850.7l-2.6 2.6 -2.3 4.1 -1.1 4.2 -0.5 4.1 0.2 6.2 0.8 4.1 1.6 4.1 1.8 2.7 2.1 2 4.1 2.2 4.2 1.2 4.1 0.5 6.2-0.2 4.1-0.8 4.2-1.6 2.7-1.8 1.9-2.1 2.3-4.1 1.1-4.2 0.5-4.1 -0.1-6.2 -0.8-4.1 -1.6-4.1 -1.9-2.7 -2.1-2 -4.1-2.2 -4.1-1.2 -4.2-0.5 -6.2 0.2 -4.1 0.8 -3.7 1.4zM518.7 728.4l-2.1 0.1 -2.1 0.7 -4.1 2.4 -6.2 4.7 -5.9 5.6 -5.3 6.2 -4.1 6.2 -1.5 4.1 0.3 1.3 0.7 0.8 1.3 0.2 2.1-0.5 6.2-3.5 6.2-5 5.8-5.7 5.2-6.2 3.8-6.1 0.7-2.1 0.1-2.1zM272 975l-1.4-0.2 -2 0.5 -6.2 3.5 -6.2 5 -5.8 5.7 -5.2 6.2 -3.8 6.1 -0.8 2.1 -0.1 2.1 1.2 1.1 2.1-0.1 2-0.7 4.2-2.4 6.2-4.7 5.8-5.6 5.4-6.2 4-6.2 1.5-4.1 -0.2-1.3zM488.4 975l-0.7 0.8 -0.3 1.3 1.5 4.1 4.1 6.2 5.3 6.2 5.9 5.6 6.2 4.7 4.1 2.4 2.1 0.7 2.1 0.1 1.1-1.1 -0.1-2.1 -0.7-2.1 -3.8-6.1 -5.2-6.2 -5.8-5.7 -6.2-5 -6.2-3.5 -2.1-0.5z"/>
<path fill="#0080ff" d="M158.9 620.2l214.3 0 0 2.1 0.7 2 1.6 2.1 2.6 1.5 2.1 0.3 2-0.3 2.7-1.5 1.6-2.1 0.6-2 0-2.1 214.3 0 0.4 8.3 1.3 6.1 1.9 4.2 2.5 3 4.2 2.6 4.1 1.4 6.2 0.9 6.2 0.2 0 213.9 -2.1 0 -2 0.7 -2.1 1.6 -1.5 2.6 -0.3 2.1 0.3 2 1.5 2.6 2.1 1.6 2 0.7 2.1 0 0 213.9 -6.2 0.2 -6.2 0.9 -4.1 1.4 -4.2 2.6 -2.5 3 -1.9 4.2 -1.3 6.1 -0.4 8.3 -214.3 0 0-2.1 -0.6-2 -1.6-2.1 -2.7-1.5 -2-0.3 -2.1 0.3 -2.6 1.5 -1.6 2.1 -0.7 2 0 2.1 -214.3 0 -0.4-8.3 -1.3-6.1 -1.9-4.2 -2.5-3 -4.1-2.6 -4.1-1.4 -6.2-0.9 -6.2-0.2 0-213.9 2 0 2.1-0.7 2.1-1.6 1.5-2.6 0.3-2 -0.3-2.1 -1.5-2.6 -2.1-1.6 -2.1-0.7 -2 0 0-213.9 6.2-0.2 6.2-0.9 4.1-1.4 4.1-2.6 2.5-3 1.9-4.2 1.3-6.1zM236.1 725.4l0 2.1 0.7 2 3.4 6.2 6.4 8.3 7.5 7.8 8.3 7 6.2 4 4.1 1.9 2.1 0.4 2-0.5 0.5-2.1 -0.3-2 -3.2-6.2 -6.1-8.3 -7.4-7.8 -8.3-7.2 -8.2-5.4 -4.2-1.6 -2-0.1zM360.6 847.1l-1.9 2.1 -2.2 4.1 -1.6 6.2 -0.5 6.2 0.1 6.2 0.9 6.5 2 5.9 2.1 3 2.1 1.9 4.1 2.2 6.2 1.5 6.2 0.6 6.2-0.1 6.5-0.9 5.9-2 3.1-2.1 1.9-2.1 2.2-4.1 1.5-6.2 0.5-6.2 -0.1-6.2 -0.8-6.5 -2-5.9 -2.2-3 -2-1.9 -4.2-2.2 -6.2-1.5 -6.2-0.6 -6.2 0.1 -6.5 0.9 -5.9 2zM524.3 725.4l-1.5-1.5 -2.1 0.1 -4.1 1.6 -8.3 5.4 -8.2 7.2 -7.4 7.8 -6.2 8.3 -3.1 6.2 -0.4 2 0.5 2.1 2.1 0.5 2.1-0.4 4.1-1.9 6.2-4 8.3-7 7.5-7.8 6.4-8.3 3.4-6.2 0.6-2zM276.8 970.9l-2-0.5 -2.1 0.4 -4.1 1.9 -6.2 4 -8.3 7 -7.5 7.8 -6.4 8.3 -3.4 6.2 -0.7 2 0 2.1 1.5 1.5 2-0.1 4.2-1.6 8.2-5.4 8.3-7.2 7.4-7.8 6.1-8.3 3.2-6.2 0.3-2zM483.5 970.9l-0.5 2.1 0.4 2 3.1 6.2 6.2 8.3 7.4 7.8 8.2 7.2 8.3 5.4 4.1 1.6 2.1 0.1 1.5-1.5 -0.1-2.1 -0.6-2 -3.4-6.2 -6.4-8.3 -7.5-7.8 -8.3-7 -6.2-4 -4.1-1.9 -2.1-0.4z"/>
<path fill="#0099ff" d="M163.5 620.2l208.3 0 0 2.1 0.5 2 1.7 2.6 2 1.7 2.1 0.8 2.1 0.2 2-0.2 2.1-0.8 2.1-1.7 1.6-2.6 0.6-2 0-2.1 208.3 0 0.3 10.3 1.4 8.3 1.6 4.1 1.4 2.1 1.8 1.8 4.1 2.3 4.2 1.2 6.2 0.8 10.3 0.4 0 207.9 -2.1 0 -2 0.5 -2.6 1.7 -1.7 2 -0.8 2.1 -0.3 2.1 0.3 2 0.8 2.1 1.7 2 2.6 1.7 2 0.5 2.1 0 0 207.9 -10.3 0.4 -6.2 0.8 -4.2 1.2 -4.1 2.3 -1.8 1.8 -1.4 2.1 -1.6 4.1 -1.4 8.3 -0.3 10.3 -208.3 0 0-2.1 -0.6-2 -1.6-2.6 -2.1-1.7 -2.1-0.8 -2-0.2 -2.1 0.2 -2.1 0.8 -2 1.7 -1.7 2.6 -0.5 2 0 2.1 -208.3 0 -0.4-10.3 -1.3-8.3 -1.7-4.1 -1.3-2.1 -1.8-1.8 -4.1-2.3 -4.2-1.2 -6.3-0.8 -10.2-0.4 0-207.9 2 0 2.1-0.5 2.6-1.7 1.6-2 0.8-2.1 0.3-2 -0.3-2.1 -0.8-2.1 -1.6-2 -2.6-1.7 -2.1-0.5 -2 0 0-207.9 10.2-0.4 6.3-0.8 4.2-1.2 4.1-2.3 1.8-1.8 1.3-2.1 1.7-4.1 1.3-8.3zM233.1 719.2l-1.7 1.8 0 2.3 2.6 6.2 5.5 8.3 8.9 10.3 9.8 9.3 10.4 7.8 4.1 2.4 4.1 1.8 2.1 0.4 2.1-0.4 0.6-0.7 0.4-2 -0.4-2.1 -2.9-6.2 -5.7-8.2 -8.6-9.9 -10.3-9.6 -8.3-6.3 -4.1-2.5 -4.1-2 -2.1-0.6zM355.5 843l-2.8 4.1 -1.4 4.1 -1 6.2 -0.5 10.4 0.5 10.3 1 6.2 1.4 4.1 2.8 4.1 4 2.7 4.2 1.4 6.1 1 10.4 0.4 10.3-0.4 6.2-1 4.1-1.4 4.2-2.8 2.7-4 1.4-4.2 1-6.1 0.4-10.3 -0.4-10.4 -1-6.1 -1.4-4.2 -2.7-4 -4.2-2.8 -4.1-1.4 -6.2-1 -10.3-0.4 -10.4 0.4 -6.1 1 -4.2 1.4zM527.2 719.2l-2.3 0.1 -2.1 0.6 -4.1 2 -4.2 2.5 -8.2 6.3 -10.4 9.6 -8.6 9.9 -5.7 8.2 -2.9 6.2 -0.4 2.1 0.4 2 0.7 0.7 2.1 0.4 2-0.4 4.2-1.8 4.1-2.4 10.3-7.8 9.8-9.3 8.9-10.3 5.5-8.3 2.6-6.2 0.1-2.3zM281 966.1l-2.1-0.4 -2.1 0.4 -4.1 1.8 -4.1 2.4 -10.4 7.8 -9.8 9.3 -8.9 10.3 -5.5 8.3 -2.6 6.2 0 2.3 1.7 1.8 2.4-0.1 2.1-0.6 4.1-2 4.1-2.5 8.3-6.3 10.3-9.6 8.6-9.9 5.7-8.2 2.9-6.2 0.4-2.1 -0.4-2zM479.4 966.1l-0.7 0.7 -0.4 2 0.4 2.1 2.9 6.2 5.7 8.2 8.6 9.9 10.4 9.6 8.2 6.3 4.2 2.5 4.1 2 2.1 0.6 2.3 0.1 1.8-1.8 -0.1-2.3 -2.6-6.2 -5.5-8.3 -8.9-10.3 -9.8-9.3 -10.3-7.8 -4.1-2.4 -4.2-1.8 -2-0.4z"/>
<path fill="#00b2ff" d="M167.8 620.2l202.6 0 0.4 4.1 1 2.1 1.7 2.1 2.5 1.6 4.2 1 4.1-1 2.5-1.6 1.8-2.1 0.9-2.1 0.5-4.1 202.5 0 0.2 12.4 0.6 8.2 1.6 6.2 1.1 2.1 1.7 2 3.6 2.4 6.2 1.5 8.3 0.7 12.4 0.1 0 202.1 -4.1 0.5 -2.1 1 -2.1 1.7 -1.7 2.5 -0.9 4.2 0.9 4.1 1.7 2.5 2.1 1.7 2.1 1 4.1 0.5 0 202.1 -12.4 0.1 -8.3 0.7 -6.2 1.5 -3.6 2.4 -1.7 2 -1.1 2.1 -1.6 6.2 -0.6 8.2 -0.2 12.4 -202.5 0 -0.5-4.1 -0.9-2.1 -1.8-2.1 -2.5-1.6 -4.1-1 -4.2 1 -2.5 1.6 -1.7 2.1 -1 2.1 -0.4 4.1 -202.6 0 -0.1-12.4 -0.7-8.2 -1.5-6.2 -1.1-2.1 -1.7-2 -3.7-2.4 -6.2-1.5 -8.2-0.7 -12.4-0.1 0-202.1 4.1-0.5 2.1-1 2-1.7 1.7-2.5 0.9-4.1 -0.9-4.2 -1.7-2.5 -2-1.7 -2.1-1 -4.1-0.5 0-202.1 12.4-0.1 8.2-0.7 6.2-1.5 3.7-2.4 1.7-2 1.1-2.1 1.5-6.2 0.7-8.2zM227.2 714.6l-0.5 0.5 -0.5 2.1 0.3 2 2.6 6.2 6.8 10.3 10.5 12.4 11.8 11.3 10.4 8.1 6.2 3.9 4.1 2.1 4.1 1.3 2.1 0.1 2-2 0-2.1 -1.3-4.1 -2.1-4.2 -7-10.3 -10.8-12.4 -11.8-11.1 -6.2-5 -6.2-4.3 -8.3-4.4 -4.1-0.9zM351.2 837.3l-2 2.2 -2.1 4.6 -0.9 5.1 -0.6 8.2 0 18.6 0.6 10.3 1.2 6.2 2.3 4.1 2.2 2.1 4.6 2.1 5.1 0.9 8.2 0.5 18.6 0.1 10.4-0.6 6.2-1.3 4.1-2.2 2.1-2.2 2-4.6 1-5.1 0.5-8.2 0.1-18.6 -0.6-10.3 -1.3-6.2 -2.2-4.1 -2.2-2.1 -4.6-2.1 -5.1-0.9 -8.3-0.5 -18.6-0.1 -10.3 0.6 -6.2 1.3zM533.1 714.6l-2-0.5 -4.2 0.9 -8.2 4.4 -6.2 4.3 -6.2 5 -11.9 11.1 -10.7 12.4 -7 10.3 -2.1 4.2 -1.3 4.1 -0.1 2.1 2.1 2 2-0.1 4.2-1.3 4.1-2.1 6.2-3.9 10.3-8.1 11.8-11.3 10.6-12.4 6.8-10.3 2.6-6.2 0.3-2 -0.6-2.1zM285.1 960.6l-2.1 0.1 -4.1 1.3 -4.1 2.1 -6.2 3.9 -10.4 8.1 -11.8 11.3 -10.5 12.4 -6.8 10.3 -2.6 6.2 -0.3 2 0.5 2.1 0.5 0.5 2.1 0.5 4.1-0.9 8.3-4.4 6.2-4.3 6.2-5 11.8-11.1 10.8-12.4 7-10.3 2.1-4.2 1.3-4.1 0-2.1zM475.3 960.6l-2.1 2 0.1 2.1 1.3 4.1 2.1 4.2 7 10.3 10.7 12.4 11.9 11.1 6.2 5 6.2 4.3 8.2 4.4 4.2 0.9 2-0.5 0.5-0.5 0.6-2.1 -0.3-2 -2.6-6.2 -6.8-10.3 -10.6-12.4 -11.8-11.3 -10.3-8.1 -6.2-3.9 -4.1-2.1 -4.2-1.3z"/>
<path fill="#00ccff" d="M171.9 620.2l197 0 0.4 4.1 0.8 2.1 1.8 2.5 2.1 1.7 2 1.1 4.2 0.8 4.1-0.8 2.1-1.1 2-1.7 1.8-2.5 0.8-2.1 0.4-4.1 197 0 -0.2 20.6 0.4 8.3 1 4.1 1 2.1 1.9 2 2.6 1.5 2.1 0.6 4.1 0.6 26.9-0.1 0 196.6 -4.1 0.4 -2.1 0.8 -2.5 1.8 -1.7 2.1 -1.1 2 -0.8 4.2 0.8 4.1 1.1 2 1.7 2.1 2.5 1.8 2.1 0.8 4.1 0.4 0 196.6 -26.9-0.1 -4.1 0.6 -2.1 0.6 -2.6 1.5 -1.9 2 -1 2.1 -1 4.1 -0.4 8.3 0.2 20.6 -197 0 -0.4-4.1 -0.8-2.1 -1.8-2.5 -2-1.7 -2.1-1.1 -4.1-0.8 -4.2 0.8 -2 1.1 -2.1 1.7 -1.8 2.5 -0.8 2.1 -0.4 4.1 -197 0 0.3-20.6 -0.4-8.3 -1-4.1 -1.1-2.1 -1.9-2 -2.6-1.5 -2-0.6 -4.2-0.6 -26.8 0.1 0-196.6 4.1-0.4 2.1-0.8 2.4-1.8 1.8-2.1 1.1-2 0.8-4.1 -0.8-4.2 -1.1-2 -1.8-2.1 -2.4-1.8 -2.1-0.8 -4.1-0.4 0-196.6 26.8 0.1 4.2-0.6 2-0.6 2.6-1.5 1.9-2 1.1-2.1 1-4.1 0.4-8.3zM221.4 708.9l-1 2.1 0.2 2 1.3 4.2 3.2 6.1 8.7 12.4 12.6 14.5 13.9 13 12.4 9.5 6.2 3.9 6.2 3 4.1 1 2.1-0.2 1.3-1.4 0.3-2 -0.4-2.1 -1.5-4.1 -3.4-6.2 -8.8-12.4 -12.9-14.4 -13.9-12.8 -12.4-9.4 -6.2-3.8 -6.2-2.8 -4.1-0.7zM345 832l-2 2.7 -0.8 2.1 -0.8 4.1 -0.3 6.2 0.2 45.4 0.9 6.2 0.8 2.1 1.3 2 2.8 2.1 2.1 0.8 4.1 0.7 6.2 0.3 45.5-0.1 6.2-0.9 2.1-0.8 2-1.4 2.1-2.7 0.8-2.1 0.7-4.1 0.3-6.2 -0.1-45.4 -0.9-6.2 -0.8-2.1 -1.4-2 -2.7-2.1 -2.1-0.8 -4.2-0.7 -6.2-0.3 -45.4 0.1 -6.2 0.9 -2.1 0.8zM538.9 708.9l-1.6-0.6 -4.2 0.7 -6.2 2.8 -6.2 3.8 -12.4 9.4 -13.9 12.8 -12.8 14.4 -8.8 12.4 -3.4 6.2 -1.6 4.1 -0.3 2.1 0.2 2 1.4 1.4 2 0.2 4.2-1 6.2-3 6.2-3.9 12.4-9.5 13.8-13 12.7-14.5 8.6-12.4 3.2-6.1 1.4-4.2 0.1-2zM291.3 955.1l-2.1-0.2 -4.1 1 -6.2 3 -6.2 3.9 -12.4 9.5 -13.9 13 -12.6 14.5 -8.7 12.4 -3.2 6.1 -1.3 4.2 -0.2 2 1 2.1 1.7 0.6 4.1-0.7 6.2-2.8 6.2-3.8 12.4-9.4 13.9-12.8 12.9-14.4 8.8-12.4 3.4-6.2 1.5-4.1 0.4-2.1 -0.3-2zM469.1 955.1l-1.4 1.4 -0.2 2 0.3 2.1 1.6 4.1 3.4 6.2 8.8 12.4 12.8 14.4 13.9 12.8 12.4 9.4 6.2 3.8 6.2 2.8 4.2 0.7 1.6-0.6 1-2.1 -0.1-2 -1.4-4.2 -3.2-6.1 -8.6-12.4 -12.7-14.5 -13.8-13 -12.4-9.5 -6.2-3.9 -6.2-3 -4.2-1z"/>
<path fill="#00e6ff" d="M175.9 620.2l191.6 0 0.3 4.1 0.8 2.1 1.1 2.1 1.8 2 2.5 1.8 2 0.9 4.2 0.7 4.1-0.7 2.1-0.9 2.4-1.8 1.8-2 1.2-2.1 0.7-2.1 0.4-4.1 191.6 0 -0.4 12.4 -1.6 22.7 0.2 4.3 0.5 1.9 1.6 2.3 2.1 1.3 1.8 0.5 4.4 0.3 22.7-1.7 12.4-0.4 0 191.3 -4.1 0.3 -2.1 0.8 -2.1 1.1 -2 1.8 -1.8 2.5 -0.9 2 -0.7 4.2 0.7 4.1 0.9 2 1.8 2.5 2 1.8 2.1 1.1 2.1 0.8 4.1 0.3 0 191.3 -12.4-0.4 -22.7-1.7 -4.4 0.3 -1.8 0.5 -2.1 1.3 -1.6 2.3 -0.5 1.9 -0.2 4.3 1.6 22.7 0.4 12.4 -191.6 0 -0.4-4.1 -0.7-2.1 -1.2-2.1 -1.8-2 -2.4-1.8 -2.1-0.9 -4.1-0.7 -4.2 0.7 -2 0.9 -2.5 1.8 -1.8 2 -1.1 2.1 -0.8 2.1 -0.3 4.1 -191.6 0 0.3-12.4 1.7-22.7 -0.3-4.3 -0.5-1.9 -1.5-2.3 -2.1-1.3 -1.9-0.5 -4.3-0.3 -22.7 1.7 -12.4 0.4 0-191.3 4.1-0.3 2.1-0.8 2-1.1 2.1-1.8 1.8-2.5 0.9-2 0.7-4.1 -0.7-4.2 -0.9-2 -1.8-2.5 -2.1-1.8 -2-1.1 -2.1-0.8 -4.1-0.3 0-191.3 12.4 0.4 22.7 1.7 4.3-0.3 1.9-0.5 2.1-1.3 1.5-2.3 0.5-1.9 0.3-4.3 -1.7-22.7zM214.8 701.6l-1.1 1.1 -0.3 2.1 0.4 2 2.5 6.2 3.5 6.2 5.5 8.3 6.3 8.2 7.1 8.3 7.1 7.6 14.5 13.6 8.3 6.7 8.2 6.1 8.3 5.2 6.2 3 4.1 1.3 2.1 0.2 1.1-0.4 1-1 0.3-1.1 -0.6-4.1 -1.7-4.1 -4.7-8.3 -10.4-14.4 -6.9-8.3 -7.7-8.2 -7.6-7.5 -8.3-7.4 -8.2-6.7 -8.3-5.9 -6.2-3.9 -6.2-3.2 -4.1-1.5 -2.1-0.4zM338.7 824.4l-2 2.1 -0.8 2.1 -0.5 4.1 2 30.9 -0.2 14.5 -1.7 22.7 0.1 4.1 1.2 4.3 2 2 2.1 0.7 4.1 0.5 31-2 14.5 0.3 22.7 1.7 4.2-0.1 4.3-1.2 2-2.1 0.7-2.1 0.5-4.1 -2-30.9 0.3-14.5 1.7-22.7 -0.1-4.1 -1.2-4.3 -2.1-2 -2.1-0.7 -4.1-0.5 -31 2 -14.5-0.3 -22.7-1.7 -4.1 0.1zM545.5 701.6l-2-0.3 -2.1 0.4 -4.1 1.5 -6.2 3.2 -6.2 3.9 -8.3 5.9 -8.3 6.7 -8.2 7.4 -7.7 7.5 -7.7 8.2 -6.9 8.3 -10.4 14.4 -4.6 8.3 -1.7 4.1 -0.7 4.1 0.4 1.1 0.9 1 1.1 0.4 2.1-0.2 4.2-1.3 6.2-3 8.2-5.2 8.3-6.1 8.3-6.7 14.4-13.6 7.2-7.6 7-8.3 6.3-8.2 5.6-8.3 3.5-6.2 2.5-6.2 0.3-2 -0.2-2.1zM298.6 948.2l-1.1-0.4 -2.1 0.2 -4.1 1.3 -6.2 3 -8.3 5.2 -8.2 6.1 -8.3 6.7 -14.5 13.6 -7.1 7.6 -7.1 8.3 -6.3 8.2 -5.5 8.3 -3.5 6.2 -2.5 6.2 -0.4 2 0.3 2.1 1.1 1.1 2.1 0.3 2.1-0.4 4.1-1.5 6.2-3.2 6.2-3.9 8.3-5.9 8.2-6.7 8.3-7.4 7.6-7.5 7.7-8.2 6.9-8.3 10.4-14.4 4.7-8.3 1.7-4.1 0.6-4.1 -0.3-1.1zM461.7 948.2l-0.9 1 -0.4 1.1 0.7 4.1 1.7 4.1 4.6 8.3 10.4 14.4 6.9 8.3 7.7 8.2 7.7 7.5 8.2 7.4 8.3 6.7 8.3 5.9 6.2 3.9 6.2 3.2 4.1 1.5 2.1 0.4 2-0.3 1.2-1.1 0.2-2.1 -0.3-2 -2.5-6.2 -3.5-6.2 -5.6-8.3 -6.3-8.2 -7-8.3 -7.2-7.6 -14.4-13.6 -8.3-6.7 -8.3-6.1 -8.2-5.2 -6.2-3 -4.2-1.3 -2.1-0.2z"/>
<path fill="#00ffff" d="M179.6 620.2l186.4 0 0.3 4.1 0.7 2.1 2.8 4.5 4.2 3 2 0.8 4.2 0.7 4.1-0.7 2.1-0.8 4.1-3 2.9-4.5 0.6-2.1 0.3-4.1 186.4 0 -0.5 12.4 -1.2 10.3 -2 10.3 -4.5 18.6 -0.1 2.1 2 2 4.2-0.5 16.5-4.1 10.4-2 10.3-1.2 12.4-0.5 0 186 -4.1 0.3 -2.1 0.7 -4.5 2.8 -3 4.2 -0.9 2 -0.6 4.2 0.6 4.1 0.9 2 3 4.2 4.5 2.8 2.1 0.7 4.1 0.3 0 186 -12.4-0.5 -10.3-1.2 -10.4-2 -16.5-4.1 -4.2-0.5 -2 2 0.1 2.1 4.5 18.6 2 10.3 1.2 10.3 0.5 12.4 -186.4 0 -0.3-4.1 -0.6-2.1 -2.9-4.5 -4.1-3 -2.1-0.8 -4.1-0.7 -4.2 0.7 -2 0.8 -4.2 3 -2.8 4.5 -0.7 2.1 -0.3 4.1 -186.4 0 0.5-12.4 1.3-10.3 2-10.3 4.5-18.6 0.1-2.1 -2.1-2 -4.1 0.5 -16.6 4.1 -10.3 2 -10.3 1.2 -12.4 0.5 0-186 4.1-0.3 2.1-0.7 4.4-2.8 3.1-4.2 0.8-2 0.6-4.1 -0.6-4.2 -0.8-2 -3.1-4.2 -4.4-2.8 -2.1-0.7 -4.1-0.3 0-186 12.4 0.5 10.3 1.2 10.3 2 16.6 4.1 4.1 0.5 2.1-2 -0.1-2.1 -4.5-18.6 -2-10.3 -1.3-10.3zM202.6 690.3l-0.5 2.1 2.3 6.2 5.7 10.3 6.8 10.3 7.6 10.3 6.7 8.3 7.3 8.2 9.4 9.7 8.3 7.9 10.3 8.9 10.3 8 10.4 7.2 10.3 6.3 8.3 4 4.1 0.8 1.2-1.2 -0.8-4.1 -2.9-6.2 -4.8-8.3 -6.8-10.3 -7.8-10.3 -6.8-8.2 -15.3-16.5 -9.7-9.2 -8.3-7.1 -8.3-6.6 -10.3-7.5 -10.3-6.6 -8.3-4.4 -6.2-2.2zM326.4 813.4l-0.6 0.7 -0.4 2.1 0.3 2 4 16.5 2.1 10.4 1.5 12.3 0.4 10.4 -0.4 10.3 -1.2 10.3 -2.4 12.4 -4 16.5 -0.3 2 0.4 2.1 0.6 0.7 2.1 0.3 2.1-0.2 16.5-4.1 10.3-2.1 12.4-1.5 10.4-0.4 10.3 0.4 10.3 1.2 12.4 2.4 16.6 4.1 2 0.2 2.1-0.3 0.7-0.7 0.3-2.1 -0.2-2 -4.1-16.5 -2-10.4 -1.5-12.3 -0.4-10.3 0.4-10.4 1.1-10.3 2.4-12.4 4.1-16.5 0.2-2 -0.3-2.1 -0.7-0.7 -2.1-0.3 -2 0.2 -16.6 4.1 -10.3 2.1 -12.4 1.5 -10.3 0.4 -10.4-0.4 -10.3-1.2 -12.4-2.4 -16.5-4.1 -2.1-0.2zM557.8 690.3l-1.9-0.2 -6.2 2.2 -8.3 4.4 -10.3 6.6 -10.4 7.5 -8.2 6.6 -8.3 7.1 -9.7 9.2 -15.4 16.5 -6.8 8.2 -7.7 10.3 -6.9 10.3 -4.8 8.3 -2.9 6.2 -0.8 4.1 1.2 1.2 4.2-0.8 8.2-4 10.4-6.3 10.3-7.2 10.4-8 10.3-8.9 8.3-7.9 9.3-9.7 7.3-8.2 6.7-8.3 7.7-10.3 6.8-10.3 5.7-10.3 2.2-6.2zM311.1 937.9l-1.2-1.2 -4.1 0.8 -8.3 4 -10.3 6.3 -10.4 7.2 -10.3 8 -10.3 8.9 -8.3 7.9 -9.4 9.7 -7.3 8.2 -6.7 8.3 -7.6 10.3 -6.8 10.3 -5.7 10.3 -2.3 6.2 0.3 1.9 2.1 0.4 6.2-2.2 8.3-4.4 10.3-6.6 10.3-7.5 8.3-6.6 8.3-7.1 9.7-9.2 15.3-16.5 6.8-8.2 7.8-10.3 6.8-10.3 4.8-8.3 2.9-6.2zM449.2 937.9l0.8 4.1 2.9 6.2 4.8 8.3 6.9 10.3 7.7 10.3 6.8 8.2 15.4 16.5 9.7 9.2 8.3 7.1 8.2 6.6 10.4 7.5 10.3 6.6 8.3 4.4 6.2 2.2 2-0.4 0.3-1.9 -2.2-6.2 -5.7-10.3 -6.8-10.3 -7.7-10.3 -6.7-8.3 -7.3-8.2 -9.3-9.7 -8.3-7.9 -10.3-8.9 -10.4-8 -10.3-7.2 -10.4-6.3 -8.2-4 -4.2-0.8z"/>
<path fill="#00ffe4" d="M183.2 620.2l181.4 0 0.2 4.1 0.6 2.1 2.2 4.1 1.9 2.1 4.5 2.9 2 0.8 4.2 0.5 4.1-0.5 2.1-0.8 4.5-2.9 1.8-2.1 2.2-4.1 0.6-2.1 0.3-4.1 181.3 0 -0.4 10.3 -1 8.3 -1.7 8.2 -1.7 6.2 -2.3 6.2 -2.8 6.2 -3.6 6.2 -3.1 4.1 -3.8 4.1 -7 6.2 -24.8 18.9 -12.4 10.1 -10.4 9.1 -9.7 9.4 -9.9 10.3 -10.8 12.4 -25.4 32.8 -8.3 9.3 -4.1 3.5 -6.2 4.2 -6.2 3.2 -8.3 3.2 -8.2 2.3 -8.3 1.6 -8.3 0.9 -8.2 0.4 -8.3-0.4 -8.3-0.9 -8.2-1.6 -6.2-1.6 -6.2-2.2 -6.2-2.7 -6.2-3.5 -4.2-2.9 -4.1-3.5 -4.1-4.3 -29.6-37.8 -10.8-12.4 -11.3-11.8 -10.3-9.7 -10.4-9 -12.4-10 -20.2-15.2 -9.6-8.3 -3.7-4.1 -4.4-6.2 -4.3-8.2 -2.4-6.2 -2.5-8.3 -1.6-8.2 -1.2-10.3zM132.1 671.2l8.2 0.2 10.4 1.2 8.2 1.7 8.3 2.4 6.2 2.4 8.3 4.3 6.2 4.4 4.1 3.7 8.3 9.6 15.2 20.2 10 12.4 9 10.3 9.8 10.3 11.8 11.3 12.4 10.8 37.8 29.5 4.3 4.1 3.6 4.1 2.9 4.1 3.5 6.2 2.7 6.2 2.2 6.2 1.6 6.2 1.6 8.2 1 8.3 0.3 8.3 -0.3 8.2 -1 8.3 -1.6 8.2 -2.3 8.3 -3.2 8.2 -3.2 6.2 -4.2 6.2 -3.6 4.1 -9.2 8.3 -32.9 25.3 -12.4 10.8 -10.4 9.9 -9.3 9.7 -9.2 10.3 -10.1 12.4 -18.9 24.8 -6.2 7 -4.1 3.7 -4.2 3.1 -6.2 3.6 -6.2 2.8 -6.2 2.3 -6.2 1.7 -8.2 1.7 -8.3 1 -10.3 0.4 0-181 4.1-0.3 2.1-0.5 4.1-2.2 2.1-1.9 2.9-4.5 0.7-2 0.6-4.1 -0.6-4.2 -0.7-2 -2.9-4.5 -2.1-1.9 -4.1-2.2 -2.1-0.5 -4.1-0.3zM628.2 671.2l0 181 -4.1 0.3 -2.1 0.5 -4.1 2.2 -2.1 1.9 -3 4.5 -0.7 2 -0.5 4.2 0.5 4.1 0.7 2 3 4.5 2.1 1.9 4.1 2.2 2.1 0.5 4.1 0.3 0 181 -8.3-0.2 -10.3-1.2 -8.3-1.7 -8.2-2.4 -6.2-2.4 -8.3-4.3 -6.2-4.4 -4.1-3.7 -8.3-9.6 -15.3-20.2 -9.9-12.4 -9-10.3 -9.8-10.3 -11.8-11.3 -12.4-10.8 -37.9-29.5 -4.3-4.1 -3.5-4.1 -3-4.1 -3.5-6.2 -2.7-6.2 -2.1-6.2 -1.7-6.2 -1.6-8.2 -0.9-8.3 -0.3-8.2 0.3-8.3 0.9-8.3 1.6-8.2 2.3-8.3 3.2-8.2 3.2-6.2 4.3-6.2 3.5-4.1 9.3-8.3 32.9-25.3 12.4-10.8 10.3-9.9 9.4-9.7 9.1-10.3 10.1-12.4 19-24.8 6.2-7 4.1-3.7 4.1-3.1 6.2-3.6 6.2-2.8 6.2-2.3 6.2-1.7 8.3-1.7 8.3-1zM183.6 1105l1.1-8.3 1.6-8.2 1.8-6.2 2.2-6.2 2.8-6.2 3.7-6.2 3.1-4.1 3.7-4.1 7-6.2 24.9-18.9 12.4-10.1 10.3-9.1 9.7-9.4 9.9-10.3 10.8-12.4 25.4-32.8 8.3-9.3 4.1-3.5 6.2-4.2 6.2-3.2 8.3-3.2 8.3-2.3 8.2-1.6 8.3-0.9 8.3-0.4 8.2 0.4 8.3 0.9 8.3 1.6 6.2 1.6 6.2 2.2 6.2 2.7 6.2 3.5 4.1 2.9 4.1 3.5 4.2 4.3 29.5 37.8 10.8 12.4 11.4 11.8 10.3 9.7 10.3 9 12.4 10 20.3 15.2 9.5 8.3 3.8 4.1 4.4 6.2 4.3 8.2 2.4 6.2 2.4 8.3 1.7 8.2 1.2 10.3 0.2 8.3 -181.3 0 -0.3-4.1 -0.6-2.1 -2.2-4.1 -1.8-2.1 -4.5-2.9 -2.1-0.8 -4.1-0.5 -4.2 0.5 -2 0.8 -4.5 2.9 -1.9 2.1 -2.2 4.1 -0.6 2.1 -0.2 4.1 -181.4 0z"/>
<path fill="#00ffc9" d="M186.7 620.2l176.4 0 0.3 4.1 0.5 2.1 1.8 3.9 2.1 2.6 2 1.9 4.2 2.3 2 0.7 4.2 0.5 4.1-0.5 2.1-0.7 4.1-2.3 2.1-1.9 2-2.6 1.9-3.9 0.5-2.1 0.3-4.1 176.3 0 -0.4 10.3 -0.8 6.2 -1.2 6.2 -2.4 8.2 -2.4 6.2 -3.1 6.2 -3.8 6.2 -3.1 4.1 -5.5 6.2 -6.5 6.2 -34 28.6 -20.1 18.9 -17.3 18.5 -24.6 29.4 -8.3 9 -6.2 5.7 -6.2 4.6 -6.2 3.7 -8.3 3.7 -8.2 2.7 -8.3 1.9 -8.3 1 -8.2 0.4 -8.3-0.4 -6.2-0.7 -8.3-1.6 -6.2-1.8 -6.2-2.3 -6.2-2.9 -6.2-3.7 -4.1-3 -6.2-5.3 -6.2-6.3 -28.8-34.1 -19.4-20.6 -17.9-16.8 -31.7-26.5 -8.9-8.3 -5.5-6.2 -4.4-6.2 -3.6-6.1 -3.6-8.3 -2.6-8.2 -1.7-8.3 -1-8.2zM132.1 674.7l8.2 0.2 8.3 1 8.3 1.7 8.2 2.6 8.3 3.6 6.2 3.6 6.2 4.4 6.2 5.5 8.3 8.9 26.6 31.6 16.8 17.9 20.6 19.4 34.2 28.7 6.3 6.2 5.3 6.2 3 4.1 3.7 6.2 2.9 6.2 2.3 6.2 1.8 6.2 1.6 8.2 0.8 6.2 0.3 8.3 -0.3 8.2 -1.1 8.3 -1.8 8.2 -2.7 8.3 -3.8 8.2 -3.7 6.2 -4.6 6.2 -5.7 6.2 -9 8.2 -29.5 24.6 -18.6 17.3 -18.8 20 -28.7 34 -6.2 6.5 -6.2 5.5 -4.1 3 -6.2 3.9 -6.2 3 -6.2 2.4 -8.3 2.4 -6.2 1.2 -6.2 0.8 -10.3 0.4 0-176 4.1-0.3 2.1-0.5 3.9-1.8 2.6-2.1 1.9-2 2.3-4.2 0.7-2 0.5-4.1 -0.5-4.2 -0.7-2 -2.3-4.2 -1.9-2 -2.6-2.1 -3.9-1.8 -2.1-0.5 -4.1-0.3zM628.2 674.7l0 176 -4.1 0.3 -2.1 0.5 -3.9 1.8 -2.7 2.1 -1.8 2 -2.3 4.2 -0.7 2 -0.5 4.2 0.5 4.1 0.7 2 2.3 4.2 1.8 2 2.7 2.1 3.9 1.8 2.1 0.5 4.1 0.3 0 176 -8.3-0.2 -8.2-1 -8.3-1.7 -8.3-2.6 -8.2-3.6 -6.2-3.6 -6.2-4.4 -6.2-5.5 -8.3-8.9 -26.6-31.6 -16.8-17.9 -20.7-19.4 -34.1-28.7 -6.4-6.2 -5.3-6.2 -3-4.1 -3.6-6.2 -3-6.2 -2.3-6.2 -1.7-6.2 -1.7-8.2 -0.7-6.2 -0.4-8.2 0.4-8.3 1.1-8.3 1.8-8.2 2.7-8.3 3.8-8.2 3.6-6.2 4.7-6.2 5.6-6.2 9.1-8.2 29.4-24.6 18.6-17.3 18.9-20 28.7-34 6.2-6.5 6.2-5.5 4.1-3 6.2-3.9 6.2-3 6.2-2.4 8.3-2.4 6.2-1.2 6.2-0.8zM187.2 1105l0.8-6.2 1.2-6.2 2.4-8.2 2.4-6.2 3-6.2 3.8-6.2 3.1-4.1 5.5-6.2 6.5-6.2 34.1-28.6 20-18.9 17.3-18.5 24.7-29.4 8.2-9 6.2-5.7 6.2-4.6 6.2-3.7 8.3-3.7 8.3-2.7 8.2-1.9 8.3-1 8.3-0.4 8.2 0.4 6.2 0.7 8.3 1.6 6.2 1.8 6.2 2.3 6.2 2.9 6.2 3.7 4.1 3 6.2 5.3 6.2 6.3 28.8 34.1 19.4 20.6 18 16.8 31.7 26.5 8.8 8.3 5.5 6.2 4.5 6.2 3.5 6.1 3.7 8.3 2.5 8.2 1.8 8.3 1 8.2 0.2 8.3 -176.3 0 -0.3-4.1 -0.5-2.1 -1.9-3.9 -2-2.6 -2.1-1.9 -4.1-2.3 -2.1-0.7 -4.1-0.5 -4.2 0.5 -2 0.7 -4.2 2.3 -2 1.9 -2.1 2.6 -1.8 3.9 -0.5 2.1 -0.3 4.1 -176.4 0z"/>
<path fill="#00ffae" d="M190.1 620.2l171.5 0 0.2 4.1 1.3 4.2 2.4 4.1 1.9 2 2.6 2.1 4 2 6.2 1.1 6.2-1.1 4-2 2.6-2.1 1.8-2 2.5-4.1 1.2-4.2 0.2-4.1 171.6 0 -0.5 10.3 -0.9 6.2 -1.9 8.3 -2 6.1 -2.6 6.2 -3.3 6.2 -7.2 10.3 -5.4 6.2 -6.2 6.2 -34 30.2 -16.6 15.8 -15.1 15.9 -24.2 27.3 -8.2 8.8 -6.2 5.9 -8.3 6.4 -6.2 3.9 -8.3 4.1 -8.2 2.9 -8.3 2 -8.3 1.2 -8.2 0.3 -8.3-0.3 -6.2-0.8 -12.4-3 -6.2-2.3 -6.2-3 -6.2-3.6 -6.2-4.4 -6.2-5.3 -8.3-8.3 -28.2-31.8 -17.2-18 -14.5-13.7 -29.6-26.1 -8.7-8.2 -5.7-6.2 -4.8-6.2 -4.1-6.2 -4.2-8.2 -3.1-8.3 -2.1-8.2 -1.2-8.3zM132.1 678l10.3 0.5 8.3 1.3 8.2 2.1 8.3 3 8.3 4.2 6.2 4.1 6.2 4.8 6.2 5.7 8.2 8.7 26.1 29.5 13.8 14.5 18 17.1 31.9 28.2 8.3 8.3 5.3 6.2 4.4 6.2 3.6 6.2 3 6.1 2.3 6.2 3 12.4 0.8 6.2 0.4 8.3 -0.4 8.2 -1.2 8.3 -2 8.2 -2.9 8.3 -4.1 8.2 -3.9 6.2 -6.5 8.2 -5.8 6.2 -8.8 8.3 -27.4 24.1 -15.9 15.1 -15.9 16.5 -30.2 34 -6.2 6.2 -6.2 5.4 -10.3 7.2 -6.2 3.2 -6.2 2.6 -6.2 2 -8.3 1.9 -6.2 0.9 -10.3 0.5 0-171.2 4.1-0.3 4.1-1.2 4.2-2.4 2-1.9 2.1-2.6 2-4 1.1-6.1 -1.1-6.2 -2-4 -2.1-2.6 -2-1.9 -4.2-2.4 -4.1-1.2 -4.1-0.3zM628.2 678l0 171.2 -4.1 0.3 -4.2 1.2 -4.1 2.4 -2.1 1.9 -2 2.6 -2 4 -1.1 6.2 1.1 6.1 2 4 2 2.6 2.1 1.9 4.1 2.4 4.2 1.2 4.1 0.3 0 171.2 -10.3-0.5 -8.3-1.3 -8.3-2.1 -8.2-3 -8.3-4.2 -6.2-4.1 -6.2-4.8 -6.2-5.7 -8.3-8.7 -26.1-29.5 -13.7-14.5 -18-17.1 -31.9-28.2 -8.3-8.3 -5.3-6.2 -4.5-6.2 -3.6-6.2 -2.9-6.1 -2.3-6.2 -3-12.4 -0.8-6.2 -0.4-8.2 0.4-8.3 1.1-8.3 2-8.2 3-8.3 4-8.2 3.9-6.2 6.5-8.2 5.9-6.2 8.8-8.3 27.4-24.1 15.9-15.1 15.8-16.5 30.3-34 6.2-6.2 6.2-5.4 10.3-7.2 6.2-3.2 6.2-2.6 6.2-2 8.3-1.9 6.2-0.9zM190.6 1105l0.8-6.2 1.9-8.3 2-6.1 2.7-6.2 3.2-6.2 7.2-10.3 5.4-6.2 6.3-6.2 34-30.2 16.5-15.8 15.2-15.9 24.1-27.3 8.3-8.8 6.2-5.9 8.2-6.4 6.2-3.9 8.3-4.1 8.3-2.9 8.2-2 8.3-1.2 8.3-0.3 8.2 0.3 6.2 0.8 12.4 3 6.2 2.3 6.2 3 6.2 3.6 6.2 4.4 6.2 5.3 8.3 8.3 28.3 31.8 17.2 18 14.5 13.7 29.5 26.1 8.7 8.2 5.7 6.2 4.9 6.2 4 6.2 4.2 8.2 3.1 8.3 2.1 8.2 1.3 8.3 0.5 10.3 -171.6 0 -0.2-4.1 -1.2-4.2 -2.5-4.1 -1.8-2 -2.6-2.1 -4-2 -6.2-1.1 -6.2 1.1 -4 2 -2.6 2.1 -1.9 2 -2.4 4.1 -1.3 4.2 -0.2 4.1 -171.5 0z"/>
<path fill="#00ff94" d="M193.3 620.2l166.8 0 0.2 4.1 1.2 4.2 2.1 4.1 2.1 2.5 2.1 1.8 4.1 2.6 4.1 1.3 4.2 0.5 4.1-0.5 4.1-1.3 4.2-2.6 2-1.8 2.1-2.5 2.2-4.1 1.1-4.2 0.2-4.1 166.8 0 -0.5 10.3 -0.9 6.2 -1.4 6.2 -2 6.2 -2.5 6.2 -3.2 6.2 -3.8 6.1 -4.6 6.2 -5.4 6.2 -8.1 8.3 -30.4 27.8 -16.5 16.1 -11.5 11.8 -32 34.5 -8.2 7.7 -8.3 6.5 -6.2 4 -8.3 4.2 -8.2 3 -8.3 2.2 -8.3 1.2 -8.2 0.4 -8.3-0.4 -6.2-0.8 -6.2-1.4 -6.2-1.8 -6.2-2.4 -6.2-3.1 -6.2-3.7 -6.2-4.5 -6.2-5.2 -8.3-8 -29.9-32.4 -15.5-16 -47-43.8 -7.6-8.3 -6.3-8.3 -3.9-6.1 -4.1-8.3 -2.9-8.2 -2-8.3 -1.2-8.2zM132.1 681.3l8.2 0.3 8.3 1.1 8.3 2 8.2 3 8.3 4 6.2 3.9 8.3 6.3 8.2 7.6 44 46.9 16 15.5 32.5 29.8 8 8.3 5.2 6.2 4.5 6.2 3.7 6.2 3.1 6.1 2.4 6.2 1.8 6.2 1.4 6.2 0.8 6.2 0.4 8.3 -0.4 8.2 -1.2 8.3 -2.2 8.2 -3 8.3 -4.3 8.2 -3.9 6.2 -6.5 8.2 -7.7 8.3 -34.6 31.9 -11.9 11.4 -16 16.5 -27.9 30.4 -8.3 8.1 -6.2 5.3 -6.2 4.6 -6.2 3.9 -6.2 3.1 -6.2 2.5 -6.2 2 -6.2 1.4 -8.3 1.1 -8.2 0.3 0-166.4 4.1-0.2 4.1-1.2 4.1-2.1 2.5-2.1 1.9-2.1 2.5-4.1 1.4-4.1 0.4-4.1 -0.4-4.2 -1.4-4.1 -2.5-4.1 -1.9-2.1 -2.5-2.1 -4.1-2.1 -4.1-1.2 -4.1-0.2zM628.2 681.3l0 166.4 -4.1 0.2 -4.2 1.2 -4.1 2.1 -2.5 2.1 -1.9 2.1 -2.5 4.1 -1.4 4.1 -0.4 4.2 0.4 4.1 1.4 4.1 2.5 4.1 1.9 2.1 2.5 2.1 4.1 2.1 4.2 1.2 4.1 0.2 0 166.4 -8.3-0.3 -8.2-1.1 -8.3-2 -8.3-3 -8.2-4 -6.2-3.9 -8.3-6.3 -8.3-7.6 -43.9-46.9 -16-15.5 -32.5-29.8 -8-8.3 -5.2-6.2 -4.5-6.2 -3.8-6.2 -3-6.1 -2.4-6.2 -1.9-6.2 -1.3-6.2 -0.9-6.2 -0.4-8.2 0.4-8.3 1.3-8.3 2.1-8.2 3.1-8.3 4.2-8.2 4-6.2 6.5-8.2 7.7-8.3 34.6-31.9 11.8-11.4 16.1-16.5 27.9-30.4 8.3-8.1 6.2-5.3 6.2-4.6 6.2-3.9 6.2-3.1 6.2-2.5 6.2-2 6.2-1.4 6.2-0.9zM193.6 1107l1.2-8.2 1.4-6.2 1.9-6.2 2.6-6.2 3.1-6.2 3.9-6.1 4.6-6.2 5.3-6.2 8.2-8.3 30.4-27.8 16.5-16.1 11.4-11.8 32-34.5 8.3-7.7 8.2-6.5 6.2-4 8.3-4.2 8.3-3 8.2-2.2 8.3-1.2 8.3-0.4 8.2 0.4 6.2 0.8 6.2 1.4 6.2 1.8 6.2 2.4 6.2 3.1 6.2 3.7 6.2 4.5 6.2 5.2 8.3 8 29.9 32.4 15.6 16 47 43.8 7.6 8.3 6.3 8.3 3.8 6.1 4.1 8.3 3 8.2 2 8.3 1.1 8.2 0.3 8.3 -166.8 0 -0.2-4.1 -1.1-4.2 -2.2-4.1 -2.1-2.5 -2-1.8 -4.2-2.6 -4.1-1.3 -4.1-0.5 -4.2 0.5 -4.1 1.3 -4.1 2.6 -2.1 1.8 -2.1 2.5 -2.1 4.1 -1.2 4.2 -0.2 4.1 -166.8 0z"/>
<path fill="#00ff79" d="M196.5 620.2l162.1 0 0.2 4.1 1 4.2 2.1 4.1 3.3 4.1 2.6 2.1 4.1 2.3 4.1 1.3 4.2 0.4 4.1-0.4 4.1-1.3 4.2-2.3 2.5-2.1 3.4-4.1 2-4.1 1.1-4.2 0.2-4.1 162.1 0 -0.6 10.3 -0.9 6.2 -1.5 6.2 -2 6.2 -2.6 6.2 -3.3 6.2 -3.9 6.1 -4.5 6.2 -5.3 6.2 -7.9 8.3 -31.3 29.6 -14.5 14.2 -39.3 41.1 -8.3 7.8 -8.2 6.7 -6.2 4.2 -8.3 4.6 -8.3 3.4 -8.2 2.5 -8.3 1.5 -10.3 0.7 -8.3-0.5 -6.2-0.9 -6.2-1.3 -6.2-2 -6.2-2.5 -6.2-3.1 -6.2-3.7 -6.2-4.5 -6.2-5.1 -8.3-7.8 -41.8-43.7 -43.3-41.2 -7.8-8.3 -6.9-8.2 -5.7-8.3 -4.4-8.2 -3.4-8.3 -2.3-8.2 -1.4-8.3zM132.1 684.4l10.3 0.5 8.3 1.4 8.2 2.4 8.3 3.3 8.3 4.4 8.2 5.7 8.3 6.8 8.3 7.9 41.3 43.2 43.8 41.7 7.7 8.3 5.2 6.2 4.4 6.2 3.8 6.2 3.1 6.1 2.5 6.2 2 6.2 1.3 6.2 0.9 6.2 0.5 8.3 -0.7 10.3 -1.5 8.2 -2.5 8.3 -3.4 8.2 -4.6 8.3 -4.3 6.2 -6.7 8.2 -7.7 8.3 -41.2 39.2 -14.3 14.4 -29.6 31.3 -8.3 7.9 -6.2 5.2 -6.2 4.6 -6.2 3.9 -6.2 3.2 -6.2 2.6 -6.2 2 -6.2 1.5 -6.2 1 -10.3 0.5 0-161.8 4.1-0.2 4.1-1.1 4.2-2 4.1-3.3 2.1-2.6 2.3-4.1 1.3-4.1 0.4-4.1 -0.4-4.2 -1.3-4.1 -2.3-4.1 -2.1-2.6 -4.1-3.3 -4.2-2 -4.1-1.1 -4.1-0.2zM628.2 684.4l0 161.8 -4.1 0.2 -4.2 1.1 -4.1 2 -4.1 3.3 -2.2 2.6 -2.2 4.1 -1.3 4.1 -0.4 4.2 0.4 4.1 1.3 4.1 2.2 4.1 2.2 2.6 4.1 3.3 4.1 2 4.2 1.1 4.1 0.2 0 161.8 -10.3-0.5 -8.3-1.4 -8.3-2.4 -8.2-3.3 -8.3-4.4 -8.3-5.7 -8.2-6.8 -8.3-7.9 -41.3-43.2 -43.8-41.7 -7.8-8.3 -5.1-6.2 -4.5-6.2 -3.8-6.2 -3.1-6.1 -2.5-6.2 -1.9-6.2 -1.4-6.2 -0.9-6.2 -0.4-8.2 0.7-10.4 1.5-8.2 2.4-8.3 3.5-8.2 4.6-8.3 4.2-6.2 6.7-8.2 7.8-8.3 41.2-39.2 14.2-14.4 29.7-31.3 8.3-7.9 6.2-5.2 6.2-4.6 6.2-3.9 6.2-3.2 6.2-2.6 6.2-2 6.2-1.5 6.2-1zM197 1105l1-6.2 1.5-6.2 2-6.2 2.6-6.2 3.2-6.2 3.9-6.1 4.6-6.2 5.3-6.2 7.8-8.3 31.4-29.6 14.5-14.2 39.2-41.1 8.3-7.8 8.3-6.7 6.2-4.2 8.2-4.6 8.3-3.4 8.3-2.5 8.2-1.5 10.4-0.7 8.2 0.5 6.2 0.9 6.2 1.3 6.2 2 6.2 2.5 6.2 3.1 6.2 3.7 6.2 4.5 6.2 5.1 8.3 7.8 41.8 43.7 43.3 41.2 7.9 8.3 6.9 8.2 5.6 8.3 4.5 8.2 3.3 8.3 2.3 8.2 1.4 8.3 0.6 10.3 -162.1 0 -0.2-4.1 -1.1-4.2 -2-4.1 -3.4-4.1 -2.5-2.1 -4.2-2.3 -4.1-1.3 -4.1-0.4 -4.2 0.4 -4.1 1.3 -4.1 2.3 -2.6 2.1 -3.3 4.1 -2.1 4.1 -1 4.2 -0.2 4.1 -162.1 0z"/>
<path fill="#00ff5e" d="M199.6 620.2l157.5 0 0.2 4.1 0.9 4.2 1.9 4.1 3.5 4.7 4.2 3.4 4.1 2.1 4.1 1.1 4.2 0.4 4.1-0.4 4.1-1.1 4.2-2.1 4.1-3.4 3.6-4.7 1.8-4.1 1-4.2 0.2-4.1 157.5 0 -1.2 14.4 -1.3 6.2 -1.9 6.2 -2.4 6.2 -3.1 6.2 -3.7 6.2 -4.3 6.2 -6.8 8.2 -7.7 8.3 -40.7 39.6 -37.3 38.3 -10.3 9.8 -8.3 6.8 -8.2 5.8 -8.3 4.6 -8.3 3.5 -8.2 2.5 -8.3 1.6 -10.3 0.7 -8.3-0.5 -6.2-0.9 -6.2-1.4 -6.2-2 -6.2-2.5 -6.2-3.1 -6.2-3.8 -6.2-4.5 -8.3-6.8 -8.2-7.8 -39.3-40.3 -38.8-37.6 -9.7-10.3 -6.7-8.2 -5.7-8.3 -4.5-8.2 -3.4-8.3 -2.4-8.2 -1.4-8.3zM132.1 687.5l10.3 0.5 8.3 1.5 8.2 2.3 8.3 3.4 8.3 4.5 8.2 5.7 8.3 6.7 10.3 9.7 37.6 38.7 40.4 39.2 7.8 8.2 6.9 8.3 4.4 6.2 3.8 6.2 3.2 6.1 2.5 6.2 2 6.2 1.4 6.2 0.9 6.2 0.5 8.3 -0.7 10.3 -1.6 8.2 -2.5 8.3 -3.5 8.2 -4.6 8.3 -5.8 8.2 -6.9 8.3 -9.8 10.3 -38.4 37.1 -39.6 40.7 -8.3 7.7 -8.3 6.7 -6.2 4.4 -6.2 3.7 -6.2 3 -6.2 2.5 -6.2 1.8 -6.2 1.4 -14.4 1.1 0-157.2 4.1-0.2 4.1-0.9 4.2-1.9 4.7-3.5 3.3-4.2 2.1-4.1 1.2-4.1 0.4-4.1 -0.4-4.2 -1.2-4.1 -2.1-4.1 -3.3-4.2 -4.7-3.5 -4.2-1.9 -4.1-0.9 -4.1-0.2zM628.2 687.5l0 157.2 -4.1 0.2 -4.2 0.9 -4.1 1.9 -4.7 3.5 -3.4 4.2 -2.1 4.1 -1.2 4.1 -0.3 4.2 0.3 4.1 1.2 4.1 2.1 4.1 3.4 4.2 4.7 3.5 4.1 1.9 4.2 0.9 4.1 0.2 0 157.2 -10.3-0.5 -8.3-1.5 -8.3-2.3 -8.2-3.4 -8.3-4.5 -8.3-5.7 -8.2-6.7 -10.4-9.7 -37.6-38.7 -40.4-39.2 -7.8-8.2 -6.8-8.3 -4.5-6.2 -3.8-6.2 -3.1-6.1 -2.6-6.2 -2-6.2 -1.4-6.2 -0.9-6.2 -0.4-8.2 0.7-10.4 1.5-8.2 2.5-8.3 3.5-8.2 4.7-8.3 5.8-8.2 6.8-8.3 9.9-10.3 38.3-37.1 39.7-40.7 8.3-7.7 8.2-6.7 6.2-4.4 6.2-3.7 6.2-3 6.2-2.5 6.2-1.8 6.2-1.4zM200.7 1100.9l1.4-6.2 1.8-6.2 2.5-6.2 3-6.2 3.7-6.2 4.4-6.2 6.7-8.2 7.7-8.3 40.8-39.6 37.2-38.3 10.3-9.8 8.3-6.8 8.3-5.8 8.2-4.6 8.3-3.5 8.3-2.5 8.2-1.6 10.4-0.7 8.2 0.5 6.2 0.9 6.2 1.4 6.2 2 6.2 2.5 6.2 3.1 6.2 3.8 6.2 4.5 8.3 6.8 8.3 7.8 39.3 40.3 38.7 37.6 9.7 10.3 6.8 8.2 5.6 8.3 4.5 8.2 3.4 8.3 2.4 8.2 1.4 8.3 0.6 10.3 -157.5 0 -0.2-4.1 -1-4.2 -1.8-4.1 -3.6-4.7 -4.1-3.4 -4.2-2.1 -4.1-1.1 -4.1-0.4 -4.2 0.4 -4.1 1.1 -4.1 2.1 -4.2 3.4 -3.5 4.7 -1.9 4.1 -0.9 4.2 -0.2 4.1 -157.5 0z"/>
<path fill="#00ff43" d="M202.6 620.2l152.9 0 0.5 6.2 1.3 4.1 2.2 4.1 3.4 4.2 4.9 3.7 4.1 1.9 4.1 1.1 4.2 0.3 4.1-0.3 4.1-1.1 4.2-1.9 4.8-3.7 3.4-4.2 2.2-4.1 1.3-4.1 0.5-6.2 153 0 -0.4 8.3 -0.8 6.1 -1.4 6.2 -1.9 6.2 -2.5 6.2 -3 6.2 -3.7 6.2 -4.3 6.2 -6.7 8.2 -9.5 10.3 -37.7 37.2 -33.4 33.9 -10.3 9.7 -8.3 7 -8.3 6 -8.2 4.9 -8.3 3.9 -10.3 3.3 -8.3 1.6 -10.3 0.7 -8.3-0.5 -6.2-0.9 -6.2-1.4 -6.2-2 -6.2-2.6 -6.2-3.2 -6.2-3.8 -6.2-4.4 -8.3-6.7 -10.3-9.6 -35.4-35.9 -33.7-33 -9.9-10.3 -8.7-10.4 -5.9-8.2 -4.8-8.3 -3.7-8.2 -3.2-10.3 -1.5-8.3zM132.1 690.5l10.3 0.5 8.3 1.5 10.3 3.2 8.3 3.7 8.2 4.8 8.3 5.8 10.3 8.8 10.4 9.8 33 33.7 36 35.3 9.6 10.3 6.8 8.3 4.4 6.2 3.8 6.2 3.2 6.1 2.5 6.2 2 6.2 1.5 6.2 0.9 6.2 0.5 8.3 -0.7 10.3 -1.6 8.2 -3.4 10.3 -3.8 8.3 -4.9 8.2 -6 8.3 -7 8.2 -9.8 10.4 -34 33.2 -37.2 37.7 -10.3 9.5 -8.3 6.6 -6.2 4.3 -6.2 3.7 -6.2 3.1 -6.2 2.5 -6.2 1.9 -6.2 1.3 -6.2 0.9 -8.2 0.3 0-152.6 6.2-0.6 4.1-1.3 4.1-2.1 4.2-3.4 3.7-4.9 1.9-4.1 1.1-4.1 0.3-4.1 -0.3-4.2 -1.1-4.1 -1.9-4.1 -3.7-4.9 -4.2-3.4 -4.1-2.1 -4.1-1.3 -6.2-0.6zM628.2 690.5l0 152.6 -6.2 0.6 -4.1 1.3 -4.2 2.1 -4.1 3.4 -3.7 4.9 -1.9 4.1 -1.1 4.1 -0.4 4.2 0.4 4.1 1.1 4.1 1.9 4.1 3.7 4.9 4.1 3.4 4.2 2.1 4.1 1.3 6.2 0.6 0 152.6 -10.3-0.5 -8.3-1.5 -10.3-3.2 -8.3-3.7 -8.3-4.8 -8.2-5.8 -10.4-8.8 -10.3-9.8 -33.1-33.7 -36-35.3 -9.6-10.3 -6.7-8.3 -4.4-6.2 -3.8-6.2 -3.2-6.1 -2.6-6.2 -2-6.2 -1.4-6.2 -1-6.2 -0.4-8.2 0.7-10.4 1.6-8.2 3.3-10.3 3.8-8.3 5-8.2 6-8.3 7-8.2 9.8-10.4 33.9-33.2 37.2-37.7 10.4-9.5 8.2-6.6 6.2-4.3 6.2-3.7 6.2-3.1 6.2-2.5 6.2-1.9 6.2-1.3 6.2-0.9zM202.9 1107l0.8-6.1 1.4-6.2 1.9-6.2 2.5-6.2 3.1-6.2 3.7-6.2 4.3-6.2 6.6-8.2 9.5-10.3 37.8-37.2 33.3-33.9 10.4-9.7 8.2-7 8.3-6 8.3-4.9 8.2-3.9 10.4-3.3 8.2-1.6 10.4-0.7 8.2 0.5 6.2 0.9 6.2 1.4 6.2 2 6.2 2.6 6.2 3.2 6.2 3.8 6.2 4.4 8.3 6.7 10.3 9.6 35.5 35.9 33.7 33 9.8 10.3 8.8 10.4 5.9 8.2 4.8 8.3 3.7 8.2 3.1 10.3 1.5 8.3 0.6 10.3 -153 0 -0.5-6.2 -1.3-4.1 -2.2-4.1 -3.4-4.2 -4.8-3.7 -4.2-1.9 -4.1-1.1 -4.1-0.3 -4.2 0.3 -4.1 1.1 -4.1 1.9 -4.9 3.7 -3.4 4.2 -2.2 4.1 -1.3 4.1 -0.5 6.2 -152.9 0z"/>
<path fill="#00ff28" d="M205.5 620.2l148.4 0 0.5 6.2 1.3 4.1 2 4.1 3.9 5 4.1 3.4 4.1 2.3 4.2 1.4 6.2 0.7 6.2-0.7 4.1-1.4 4.1-2.3 4.2-3.4 3.9-5 2-4.1 1.2-4.1 0.5-6.2 148.4 0 -0.3 8.3 -0.9 6.1 -1.4 6.2 -1.9 6.2 -2.5 6.2 -3.1 6.2 -7.9 12.4 -8.4 10.3 -9.5 10.3 -62.3 62.3 -10.3 9.9 -10.3 8.9 -8.3 6.2 -10.3 6.3 -8.3 3.9 -10.3 3.3 -8.3 1.6 -10.3 0.7 -6.2-0.2 -6.2-0.8 -6.2-1.3 -6.2-1.8 -6.2-2.4 -6.2-3 -6.2-3.6 -6.2-4.1 -10.4-8.2 -10.3-9.4 -62.4-62.1 -10-10.3 -9.1-10.3 -7.7-10.4 -5.1-8.2 -4-8.3 -3.5-10.3 -2-10.3zM132.1 693.4l10.3 0.6 10.3 2 10.4 3.5 8.2 4 8.3 5 10.3 7.8 10.4 9.1 10.3 9.9 62.2 62.3 9.4 10.3 8.2 10.3 4.2 6.2 3.6 6.2 3 6.2 2.4 6.2 1.8 6.2 1.3 6.2 0.8 6.2 0.2 6.2 -0.7 10.3 -1.6 8.2 -3.4 10.3 -3.8 8.3 -6.3 10.3 -6.2 8.2 -9 10.4 -9.9 10.3 -62.4 62.1 -10.3 9.5 -10.4 8.3 -12.4 8 -6.2 3.1 -6.2 2.5 -6.2 1.9 -6.2 1.4 -6.2 0.8 -8.2 0.4 0-148.2 6.2-0.5 4.1-1.2 4.1-2 5-3.9 3.4-4.1 2.3-4.1 1.4-4.2 0.7-6.1 -0.7-6.2 -1.4-4.2 -2.3-4.1 -3.4-4.1 -5-3.9 -4.1-2 -4.1-1.2 -6.2-0.5zM628.2 693.4l0 148.2 -6.2 0.5 -4.1 1.2 -4.2 2 -4.9 3.9 -3.5 4.1 -2.2 4.1 -1.4 4.2 -0.8 6.2 0.8 6.1 1.4 4.2 2.2 4.1 3.5 4.1 4.9 3.9 4.2 2 4.1 1.2 6.2 0.5 0 148.2 -10.3-0.6 -10.4-2 -10.3-3.5 -8.3-4 -8.2-5 -10.4-7.8 -10.3-9.1 -10.3-9.9 -62.3-62.3 -9.4-10.3 -8.2-10.3 -4.1-6.2 -3.6-6.2 -3-6.2 -2.4-6.2 -1.8-6.2 -1.3-6.2 -0.8-6.2 -0.3-6.1 0.7-10.4 1.7-8.2 3.3-10.3 3.9-8.3 6.3-10.3 6.2-8.2 8.9-10.4 10-10.3 62.4-62.1 10.3-9.5 10.3-8.3 12.4-8 6.2-3.1 6.2-2.5 6.2-1.9 6.2-1.4 6.2-0.8zM205.9 1107l0.8-6.1 1.4-6.2 1.9-6.2 2.5-6.2 3.1-6.2 8-12.4 8.3-10.3 9.5-10.3 62.3-62.3 10.3-9.9 10.4-8.9 8.2-6.2 10.4-6.3 8.2-3.9 10.4-3.3 8.2-1.6 10.4-0.7 6.2 0.2 6.2 0.8 6.2 1.3 6.2 1.8 6.2 2.4 6.2 3 6.2 3.6 6.2 4.1 10.3 8.2 10.3 9.4 62.5 62.1 9.9 10.3 9.1 10.3 7.8 10.4 5 8.2 4 8.3 3.5 10.3 2.1 10.3 0.5 10.3 -148.4 0 -0.5-6.2 -1.2-4.1 -2-4.1 -3.9-5 -4.2-3.4 -4.1-2.3 -4.1-1.4 -6.2-0.7 -6.2 0.7 -4.2 1.4 -4.1 2.3 -4.1 3.4 -3.9 5 -2 4.1 -1.3 4.1 -0.5 6.2 -148.4 0z"/>
<path fill="#00ff0d" d="M208.4 620.2l143.9 0 0.5 6.2 1.2 4.1 3.1 6.2 3.4 4.1 5.2 4.1 4.1 2.1 4.2 1.3 6.2 0.7 6.2-0.7 4.1-1.3 4.1-2.1 5.2-4.1 3.4-4.1 3.2-6.2 1.1-4.1 0.5-6.2 143.9 0 -0.3 8.3 -0.9 6.1 -1.4 6.2 -1.9 6.2 -2.5 6.2 -3.1 6.2 -7.9 12.4 -8.2 10.3 -11.4 12.4 -51.5 51.6 -14.4 13.9 -10.4 9 -10.3 7.8 -8.3 5.1 -8.2 4.1 -10.4 3.7 -10.3 2.2 -10.3 0.7 -6.2-0.2 -6.2-0.8 -6.2-1.3 -6.2-1.8 -6.2-2.5 -6.2-2.9 -12.4-7.7 -10.4-8.1 -12.4-11.2 -53.7-53.4 -13.9-14.4 -9-10.3 -7.6-10.4 -5-8.2 -4.9-10.3 -2.7-8.3 -2-10.3zM132.1 696.3l10.3 0.6 10.3 2 8.3 2.7 10.3 4.9 8.3 5 10.3 7.6 10.4 8.9 14.4 13.9 53.5 53.6 11.2 12.4 8.1 10.3 7.7 12.4 3 6.2 2.4 6.2 1.9 6.2 1.3 6.2 0.8 6.2 0.2 6.2 -0.7 10.3 -2.2 10.3 -3.7 10.3 -4.1 8.2 -5.1 8.3 -7.8 10.3 -9.1 10.3 -14 14.5 -51.6 51.4 -12.4 11.3 -10.4 8.2 -12.4 7.8 -6.2 3.1 -6.2 2.5 -6.2 2 -6.2 1.4 -6.2 0.8 -8.2 0.4 0-143.7 6.2-0.4 4.1-1.2 6.2-3.1 4.1-3.5 4.1-5.1 2.1-4.1 1.3-4.2 0.7-6.1 -0.7-6.2 -1.3-4.2 -2.1-4.1 -4.1-5.1 -4.1-3.5 -6.2-3.1 -4.1-1.2 -6.2-0.4zM628.2 696.3l0 143.7 -6.2 0.4 -4.1 1.2 -6.2 3.1 -4.2 3.5 -4 5.1 -2.1 4.1 -1.4 4.2 -0.7 6.2 0.7 6.1 1.4 4.2 2.1 4.1 4 5.1 4.2 3.5 6.2 3.1 4.1 1.2 6.2 0.4 0 143.7 -10.3-0.6 -10.4-2 -8.2-2.7 -10.4-4.9 -8.2-5 -10.4-7.6 -10.3-8.9 -14.5-13.9 -53.5-53.6 -11.2-12.4 -8.1-10.3 -7.7-12.4 -3-6.2 -2.4-6.2 -1.8-6.2 -1.3-6.2 -0.8-6.2 -0.3-6.1 0.8-10.4 2.1-10.3 3.7-10.3 4.1-8.2 5.2-8.3 7.8-10.3 9-10.3 14-14.5 51.7-51.4 12.4-11.3 10.3-8.2 12.4-7.8 6.2-3.1 6.2-2.5 6.2-2 6.2-1.4 6.2-0.8zM208.8 1107l0.8-6.1 1.4-6.2 2-6.2 2.5-6.2 3.1-6.2 7.9-12.4 8.2-10.3 11.3-12.4 51.5-51.6 14.5-13.9 10.3-9 10.3-7.8 8.3-5.1 8.3-4.1 10.3-3.7 10.3-2.2 10.4-0.7 6.2 0.2 6.2 0.8 6.2 1.3 6.2 1.8 6.2 2.5 6.2 2.9 12.4 7.7 10.3 8.1 12.4 11.2 53.8 53.4 13.9 14.4 8.9 10.3 7.7 10.4 5 8.2 4.8 10.3 2.7 8.3 2.1 10.3 0.5 10.3 -143.9 0 -0.5-6.2 -1.1-4.1 -3.2-6.2 -3.4-4.1 -5.2-4.1 -4.1-2.1 -4.1-1.3 -6.2-0.7 -6.2 0.7 -4.2 1.3 -4.1 2.1 -5.2 4.1 -3.4 4.1 -3.1 6.2 -1.2 4.1 -0.5 6.2 -143.9 0z"/>
<path fill="#0dff00" d="M211.3 620.2l139.4 0 0.5 6.2 1.8 6.2 2.4 4.4 4.1 5.1 4.1 3.4 6.2 3.2 4.2 1.3 6.2 0.6 6.2-0.6 4.1-1.3 6.2-3.2 4.1-3.4 4.2-5.1 2.3-4.4 1.9-6.2 0.4-6.2 139.5 0 -0.4 8.3 -0.9 6.1 -1.4 6.2 -1.9 6.2 -4.5 10.3 -7.5 12.4 -7.8 10.3 -11 12.4 -44.6 45.1 -14.5 14.1 -12.4 11.2 -10.4 8.3 -10.3 6.8 -10.3 5.3 -10.4 3.7 -10.3 2.2 -10.3 0.7 -6.2-0.3 -6.2-0.8 -6.2-1.3 -6.2-1.8 -6.2-2.4 -6.2-3 -10.4-6.2 -12.4-9.4 -12.4-11 -45.2-44.7 -14.1-14.4 -11.1-12.4 -8.1-10.3 -6.7-10.3 -5.1-10.4 -3.6-10.3 -2-10.3zM132.1 699.2l10.3 0.6 10.3 2 10.4 3.6 10.3 5.1 10.3 6.7 10.4 8.1 12.4 11.1 14.4 14 44.8 45.1 11 12.4 9.4 12.4 6.2 10.3 3 6.2 2.4 6.2 1.9 6.2 1.3 6.2 0.8 6.2 0.3 6.2 -0.8 10.3 -2.2 10.3 -3.7 10.3 -5.3 10.3 -6.8 10.3 -8.2 10.3 -11.3 12.4 -14.1 14.5 -45.2 44.6 -12.4 10.9 -10.3 7.8 -12.4 7.5 -10.4 4.4 -6.2 2 -6.2 1.4 -6.2 0.9 -8.2 0.3 0-139.1 6.2-0.5 6.2-1.9 4.4-2.3 5.1-4.1 3.4-4.1 3.2-6.2 1.3-4.2 0.6-6.1 -0.6-6.2 -1.3-4.2 -3.2-6.2 -3.4-4.1 -5.1-4.1 -4.4-2.3 -6.2-1.9 -6.2-0.5zM628.2 699.2l0 139.1 -6.2 0.5 -6.2 1.9 -4.4 2.3 -5.1 4.1 -3.4 4.1 -3.3 6.2 -1.2 4.2 -0.7 6.2 0.7 6.1 1.2 4.2 3.3 6.2 3.4 4.1 5.1 4.1 4.4 2.3 6.2 1.9 6.2 0.5 0 139.1 -10.3-0.6 -10.4-2 -10.3-3.6 -10.3-5.1 -10.4-6.7 -10.3-8.1 -12.4-11.1 -14.5-14 -44.7-45.1 -11.1-12.4 -9.4-12.4 -6.2-10.3 -3-6.2 -2.4-6.2 -1.8-6.2 -1.4-6.2 -0.7-6.2 -0.3-6.1 0.7-10.4 2.2-10.3 3.7-10.3 5.3-10.3 6.9-10.3 8.2-10.3 11.2-12.4 14.2-14.5 45.2-44.6 12.4-10.9 10.3-7.8 12.4-7.5 10.3-4.4 6.2-2 6.2-1.4 6.2-0.9zM211.6 1107l0.9-6.1 1.4-6.2 2-6.2 4.5-10.3 7.4-12.4 7.9-10.3 10.9-12.4 44.7-45.1 14.5-14.1 12.4-11.2 10.3-8.3 10.3-6.8 10.4-5.3 10.3-3.7 10.3-2.2 10.4-0.7 6.2 0.3 6.2 0.8 6.2 1.3 6.2 1.8 6.2 2.4 6.2 3 10.3 6.2 12.4 9.4 12.4 11 45.2 44.7 14.1 14.4 11.1 12.4 8.1 10.3 6.7 10.3 5.2 10.4 3.5 10.3 2.1 10.3 0.6 10.3 -139.5 0 -0.4-6.2 -1.9-6.2 -2.3-4.4 -4.2-5.1 -4.1-3.4 -6.2-3.2 -4.1-1.3 -6.2-0.6 -6.2 0.6 -4.2 1.3 -6.2 3.2 -4.1 3.4 -4.1 5.1 -2.4 4.4 -1.8 6.2 -0.5 6.2 -139.4 0z"/>
<path fill="#28ff00" d="M214.1 620.2l135 0 0.4 6.2 1.7 6.2 3.4 6.2 3.4 4.1 5 4.1 4.8 2.7 6.2 1.9 6.2 0.7 6.2-0.7 6.2-1.9 4.7-2.7 5-4.1 3.5-4.1 3.3-6.2 1.8-6.2 0.4-6.2 134.9 0 -0.3 8.3 -0.9 6.1 -2.6 10.4 -4.2 10.3 -7.1 12.3 -7.5 10.4 -10.5 12.3 -13.7 14.5 -26.2 26.3 -16.6 16.1 -12.4 11.2 -10.3 8.4 -10.3 7 -10.4 5.6 -10.3 4 -10.3 2.5 -6.2 0.8 -6.2 0.3 -6.2-0.3 -6.2-0.8 -6.2-1.3 -6.2-1.9 -10.4-4.3 -12.4-7.2 -10.3-7.6 -12.4-10.7 -14.5-13.7 -24.3-24.1 -18.1-18.6 -11.2-12.3 -8.2-10.4 -7-10.3 -5.4-10.3 -3.9-10.3 -2.3-10.3 -0.7-6.2zM132.1 702l6.2 0.2 6.2 0.7 10.3 2.3 10.3 3.9 10.4 5.4 10.3 6.9 10.3 8.3 12.4 11.1 18.6 18.1 24.2 24.3 13.7 14.4 10.7 12.4 7.6 10.3 7.3 12.4 4.3 10.3 1.9 6.2 1.3 6.2 0.8 6.2 0.2 6.2 -0.2 6.1 -0.8 6.2 -2.5 10.3 -4.1 10.4 -5.5 10.3 -7.1 10.3 -8.4 10.3 -11.2 12.4 -16.2 16.5 -26.3 26.1 -14.5 13.7 -12.4 10.5 -10.3 7.5 -12.4 7 -10.3 4.2 -10.4 2.7 -6.2 0.8 -8.2 0.4 0-134.7 6.2-0.4 6.2-1.8 6.2-3.3 4.1-3.4 4.1-5 2.7-4.8 1.9-6.2 0.7-6.1 -0.7-6.2 -1.9-6.2 -2.7-4.8 -4.1-5 -4.1-3.4 -6.2-3.3 -6.2-1.8 -6.2-0.4zM628.2 702l0 134.7 -6.2 0.4 -6.2 1.8 -6.2 3.3 -4.1 3.4 -4.2 5 -2.6 4.8 -2 6.2 -0.6 6.2 0.6 6.1 2 6.2 2.6 4.8 4.2 5 4.1 3.4 6.2 3.3 6.2 1.8 6.2 0.4 0 134.7 -6.2-0.2 -6.2-0.7 -10.3-2.3 -10.4-3.9 -10.3-5.4 -10.3-6.9 -10.4-8.3 -12.4-11.1 -18.6-18.1 -24.1-24.3 -13.8-14.4 -10.6-12.4 -7.7-10.3 -7.2-12.4 -4.3-10.3 -1.9-6.2 -1.3-6.2 -0.8-6.2 -0.3-6.1 0.3-6.2 0.8-6.2 2.5-10.3 4-10.4 5.6-10.3 7.1-10.3 8.3-10.3 11.3-12.4 16.1-16.5 26.4-26.1 14.4-13.7 12.4-10.5 10.4-7.5 12.4-7 10.3-4.2 10.3-2.7 6.2-0.8zM214.5 1107l0.8-6.1 2.7-10.4 4.2-10.3 7-12.3 7.5-10.4 10.6-12.3 13.7-14.5 26.2-26.3 16.5-16.1 12.4-11.2 10.3-8.4 10.4-7 10.3-5.6 10.3-4 10.4-2.5 6.2-0.8 6.2-0.3 6.2 0.3 6.2 0.8 6.2 1.3 6.2 1.9 10.3 4.3 12.4 7.2 10.3 7.6 12.4 10.7 14.5 13.7 24.3 24.1 18.1 18.6 11.2 12.3 8.3 10.4 6.9 10.3 5.4 10.3 3.9 10.3 2.4 10.3 0.7 6.2 0.1 6.2 -134.9 0 -0.4-6.2 -1.8-6.2 -3.3-6.2 -3.5-4.1 -5-4.1 -4.7-2.7 -6.2-1.9 -6.2-0.7 -6.2 0.7 -6.2 1.9 -4.8 2.7 -5 4.1 -3.4 4.1 -3.4 6.2 -1.7 6.2 -0.4 6.2 -135 0z"/>
<path fill="#43ff00" d="M216.9 620.2l130.5 0 0.4 6.2 1.6 6.2 3.2 6.2 4.8 5.9 4.2 3.4 6.2 3.4 6.2 1.9 6.2 0.6 6.2-0.6 6.2-1.9 6.2-3.4 4.1-3.4 4.9-5.9 3.1-6.2 1.7-6.2 0.4-6.2 130.4 0 -0.3 8.3 -0.9 6.1 -2.7 10.4 -4.1 10.3 -7.1 12.3 -7.4 10.4 -10.4 12.3 -13.5 14.5 -21.7 21.9 -16.6 16 -12.4 11.3 -12.4 10.1 -10.3 7 -10.4 5.5 -10.3 4 -10.3 2.5 -6.2 0.8 -6.2 0.3 -6.2-0.3 -6.2-0.8 -10.4-2.5 -10.3-4 -12.4-6.8 -10.3-7.3 -12.4-10.3 -14.5-13.4 -21.9-21.6 -18.1-18.6 -11.3-12.4 -9.9-12.4 -6.9-10.3 -5.4-10.3 -3.8-10.3 -2.4-10.3 -0.7-6.2zM132.1 704.8l6.2 0.2 6.2 0.7 10.3 2.3 10.3 3.9 10.4 5.4 10.3 6.9 12.4 9.9 12.4 11.2 18.6 18 21.7 21.9 13.4 14.5 10.3 12.4 7.3 10.3 6.8 12.3 4.1 10.4 2.5 10.3 0.8 6.2 0.2 6.2 -0.2 6.1 -0.8 6.2 -2.5 10.3 -4.1 10.4 -5.5 10.3 -7 10.3 -10.1 12.4 -11.3 12.3 -16.1 16.5 -21.9 21.7 -14.5 13.5 -12.4 10.4 -10.3 7.4 -12.4 7 -10.3 4.2 -10.4 2.7 -6.2 0.8 -8.2 0.4 0-130.2 6.2-0.4 6.2-1.7 6.2-3.1 5.9-4.9 3.4-4.1 3.4-6.2 1.9-6.2 0.6-6.1 -0.6-6.2 -1.9-6.2 -3.4-6.2 -3.4-4.1 -5.9-4.9 -6.2-3.1 -6.2-1.7 -6.2-0.4zM628.2 704.8l0 130.2 -6.2 0.4 -6.2 1.7 -6.2 3.1 -5.9 4.9 -3.4 4.1 -3.4 6.2 -1.9 6.2 -0.6 6.2 0.6 6.1 1.9 6.2 3.4 6.2 3.4 4.1 5.9 4.9 6.2 3.1 6.2 1.7 6.2 0.4 0 130.2 -6.2-0.2 -6.2-0.7 -10.3-2.3 -10.4-3.9 -10.3-5.4 -10.3-6.9 -12.4-9.9 -12.4-11.2 -18.6-18 -21.7-21.9 -13.5-14.5 -10.3-12.4 -7.3-10.3 -6.8-12.3 -4-10.4 -2.5-10.3 -0.8-6.2 -0.3-6.1 0.3-6.2 0.8-6.2 2.5-10.3 4-10.4 5.6-10.3 7-10.3 10-12.4 11.3-12.3 16.1-16.5 22-21.7 14.4-13.5 12.4-10.4 10.4-7.4 12.4-7 10.3-4.2 10.3-2.7 6.2-0.8zM217.3 1107l0.8-6.1 2.7-10.4 4.2-10.3 7-12.3 7.4-10.4 10.5-12.3 13.5-14.5 21.7-21.9 16.5-16 12.4-11.3 12.4-10.1 10.4-7 10.3-5.5 10.3-4 10.4-2.5 6.2-0.8 6.2-0.3 6.2 0.3 6.2 0.8 10.3 2.5 10.3 4 12.4 6.8 10.4 7.3 12.4 10.3 14.4 13.4 22 21.6 18.1 18.6 11.2 12.4 9.9 12.4 6.9 10.3 5.4 10.3 3.9 10.3 2.4 10.3 0.7 6.2 0.1 6.2 -130.4 0 -0.4-6.2 -1.7-6.2 -3.1-6.2 -4.9-5.9 -4.1-3.4 -6.2-3.4 -6.2-1.9 -6.2-0.6 -6.2 0.6 -6.2 1.9 -6.2 3.4 -4.2 3.4 -4.8 5.9 -3.2 6.2 -1.6 6.2 -0.4 6.2 -130.5 0z"/>
<path fill="#5eff00" d="M219.7 620.2l125.9 0 0.4 6.2 1.6 6.2 3 6.2 4.8 6.2 6.2 5.1 5.9 3.1 6.5 1.9 6.2 0.6 6.2-0.6 6.4-1.9 6-3.1 6.2-5.1 4.8-6.2 2.9-6.2 1.6-6.2 0.4-6.2 125.9 0 -0.3 8.3 -0.9 6.1 -2.6 10.4 -4.2 10.3 -7 12.3 -7.4 10.4 -10.3 12.3 -13.4 14.5 -19.2 19.5 -16.6 16 -12.4 11.1 -12.4 10 -10.3 6.9 -10.4 5.5 -10.3 4 -10.3 2.5 -6.2 0.8 -6.2 0.3 -6.2-0.3 -6.2-0.8 -10.4-2.5 -10.3-4 -12.4-6.8 -10.3-7.2 -12.4-10.2 -14.5-13.3 -19.5-19.1 -16.1-16.5 -13.1-14.5 -9.8-12.4 -6.8-10.3 -5.4-10.3 -3.9-10.3 -2.3-10.3 -0.7-6.2zM132.1 707.6l6.2 0.2 6.2 0.7 10.3 2.3 10.3 3.9 10.4 5.4 10.3 6.8 12.4 9.8 14.5 13 16.5 16 19.2 19.5 13.3 14.5 10.2 12.4 7.3 10.3 6.8 12.3 4 10.4 2.5 10.3 0.8 6.2 0.2 6.2 -0.2 6.1 -0.8 6.2 -2.5 10.3 -4 10.4 -5.6 10.3 -6.9 10.3 -10 12.4 -11.2 12.3 -16 16.5 -19.5 19.3 -14.5 13.4 -12.4 10.3 -10.3 7.3 -12.4 7 -10.3 4.1 -10.4 2.7 -6.2 0.9 -8.2 0.3 0-125.7 6.2-0.4 6.2-1.6 6.2-2.9 6.2-4.8 5.1-6.2 3.1-5.9 1.9-6.5 0.6-6.1 -0.6-6.2 -1.9-6.5 -3.1-5.9 -5.1-6.2 -6.2-4.8 -6.2-2.9 -6.2-1.6 -6.2-0.4zM628.2 707.6l0 125.7 -6.2 0.4 -6.2 1.6 -6.2 2.9 -6.3 4.8 -5.1 6.2 -3.1 5.9 -1.9 6.5 -0.5 6.2 0.5 6.1 1.9 6.5 3.1 5.9 5.1 6.2 6.3 4.8 6.2 2.9 6.2 1.6 6.2 0.4 0 125.7 -6.2-0.2 -6.2-0.7 -10.3-2.3 -10.4-3.9 -10.3-5.4 -10.3-6.8 -12.4-9.8 -14.5-13 -16.5-16 -19.3-19.5 -13.3-14.5 -10.2-12.4 -7.2-10.3 -6.8-12.3 -4-10.4 -2.5-10.3 -0.8-6.2 -0.3-6.1 0.3-6.2 0.8-6.2 2.5-10.3 4-10.4 5.5-10.3 7-10.3 9.9-12.4 11.2-12.3 16-16.5 19.6-19.3 14.4-13.4 12.4-10.3 10.4-7.3 12.4-7 10.3-4.1 10.3-2.7 6.2-0.9zM220.1 1107l0.8-6.1 2.7-10.4 4.2-10.3 7-12.3 7.3-10.4 10.3-12.3 13.4-14.5 19.3-19.5 16.5-16 12.4-11.1 12.4-10 10.4-6.9 10.3-5.5 10.3-4 10.4-2.5 6.2-0.8 6.2-0.3 6.2 0.3 6.2 0.8 10.3 2.5 10.3 4 12.4 6.8 10.4 7.2 12.4 10.2 14.4 13.3 19.6 19.1 16.1 16.5 13 14.5 9.8 12.4 6.9 10.3 5.3 10.3 3.9 10.3 2.4 10.3 0.7 6.2 0.1 6.2 -125.9 0 -0.4-6.2 -1.6-6.2 -2.9-6.2 -4.8-6.2 -6.2-5.1 -6-3.1 -6.4-1.9 -6.2-0.6 -6.2 0.6 -6.5 1.9 -5.9 3.1 -6.2 5.1 -4.8 6.2 -3 6.2 -1.6 6.2 -0.4 6.2 -125.9 0z"/>
<path fill="#79ff00" d="M222.5 620.2l121.4 0 0.7 8.3 1.9 6.1 3.3 6.2 5.1 6.2 4.6 3.8 6.2 3.5 6.2 2.2 8.3 0.9 8.2-0.9 6.2-2.2 6.2-3.5 4.6-3.8 5.1-6.2 3.3-6.2 1.9-6.1 0.8-8.3 121.4 0 -0.4 8.3 -0.9 6.1 -2.6 10.4 -4.2 10.3 -5.6 10.3 -7.1 10.3 -9.9 12.4 -13.2 14.4 -18.7 19.1 -16.6 16 -12.4 11 -12.4 9.9 -10.3 6.9 -10.4 5.4 -10.3 4 -10.3 2.5 -6.2 0.8 -6.2 0.3 -6.2-0.3 -6.2-0.8 -10.4-2.5 -10.3-4 -12.4-6.7 -10.3-7.2 -12.4-10 -14.5-13.2 -17.1-16.7 -16-16.5 -13-14.5 -9.7-12.4 -6.8-10.3 -5.3-10.3 -3.9-10.3 -2.3-10.3 -0.7-6.2zM132.1 710.4l6.2 0.1 6.2 0.7 10.3 2.4 10.3 3.9 10.4 5.3 10.3 6.7 12.4 9.8 14.5 12.9 16.5 16 16.7 17 13.3 14.5 10.1 12.4 7.1 10.3 6.8 12.3 4 10.4 2.5 10.3 0.8 6.2 0.2 6.2 -0.2 6.1 -0.8 6.2 -2.5 10.3 -4 10.4 -5.5 10.3 -6.9 10.3 -9.9 12.4 -11.1 12.3 -16 16.5 -19.1 18.8 -14.4 13.1 -12.4 9.9 -10.4 7.1 -10.3 5.6 -10.3 4.1 -10.4 2.7 -6.2 0.9 -8.2 0.3 0-121.1 8.2-0.8 6.2-1.9 6.2-3.2 6.2-5.1 3.8-4.6 3.6-6.2 2.1-6.2 1-8.2 -1-8.3 -2.1-6.2 -3.6-6.2 -3.8-4.6 -6.2-5.1 -6.2-3.2 -6.2-1.9 -8.2-0.8zM628.2 710.4l0 121.1 -8.3 0.8 -6.2 1.9 -6.2 3.2 -6.2 5.1 -3.8 4.6 -3.5 6.2 -2.1 6.2 -1 8.3 1 8.2 2.1 6.2 3.5 6.2 3.8 4.6 6.2 5.1 6.2 3.2 6.2 1.9 8.3 0.8 0 121.1 -6.2-0.1 -6.2-0.7 -10.3-2.4 -10.4-3.9 -10.3-5.3 -10.3-6.7 -12.4-9.8 -14.5-12.9 -16.5-16 -16.8-17 -13.2-14.5 -10.1-12.4 -7.2-10.3 -6.7-12.3 -4-10.4 -2.5-10.3 -0.8-6.2 -0.3-6.1 0.3-6.2 0.8-6.2 2.5-10.3 4-10.4 5.5-10.3 6.9-10.3 9.8-12.4 11.1-12.3 16-16.5 19.1-18.8 14.5-13.1 12.4-9.9 10.3-7.1 10.4-5.6 10.3-4.1 10.3-2.7 6.2-0.9zM222.8 1107l0.9-6.1 2.7-10.4 4.1-10.3 5.7-10.3 7-10.3 10-12.4 13.1-14.4 18.8-19.1 16.5-16 12.4-11 12.4-9.9 10.4-6.9 10.3-5.4 10.3-4 10.4-2.5 6.2-0.8 6.2-0.3 6.2 0.3 6.2 0.8 10.3 2.5 10.3 4 12.4 6.7 10.4 7.2 12.4 10 14.4 13.2 17.1 16.7 16.1 16.5 12.9 14.5 9.7 12.4 6.8 10.3 5.4 10.3 3.8 10.3 2.4 10.3 0.7 6.2 0.2 6.2 -121.4 0 -0.8-8.3 -1.9-6.1 -3.3-6.2 -5.1-6.2 -4.6-3.8 -6.2-3.5 -6.2-2.2 -8.2-0.9 -8.3 0.9 -6.2 2.2 -6.2 3.5 -4.6 3.8 -5.1 6.2 -3.3 6.2 -1.9 6.1 -0.7 8.3 -121.4 0z"/>
<path fill="#94ff00" d="M225.3 620.2l116.8 0 0.7 8.3 1.8 6.1 3.1 6.2 2.9 4.2 2.7 2.9 6.2 5.1 6.2 3.3 6.2 2 8.3 0.9 8.2-0.9 6.2-2 6.2-3.3 6.2-5.1 2.7-2.9 3-4.2 3-6.2 1.9-6.1 0.7-8.3 116.8 0 -0.4 8.3 -0.9 6.1 -2.6 10.4 -4.2 10.3 -5.6 10.3 -7 10.3 -9.9 12.4 -13 14.4 -16.2 16.6 -16.6 15.9 -12.4 11 -12.4 9.8 -10.3 6.8 -12.4 6.4 -10.4 3.7 -10.3 2.2 -10.3 0.7 -6.2-0.2 -6.2-0.8 -10.4-2.5 -10.3-4 -12.4-6.7 -10.3-7.1 -12.4-10 -14.5-13.2 -16.5-16.1 -16-16.6 -10.9-12.4 -9.7-12.4 -6.7-10.3 -5.3-10.3 -3.9-10.3 -2.3-10.3 -0.8-6.2zM132.1 713.1l6.2 0.2 6.2 0.7 10.3 2.4 10.3 3.8 10.4 5.3 10.3 6.7 12.4 9.7 12.4 10.9 16.6 15.9 16.2 16.5 13.2 14.5 10 12.4 7.1 10.3 6.7 12.3 4 10.4 2.5 10.3 0.8 6.2 0.3 6.2 -0.8 10.3 -2.2 10.4 -3.7 10.2 -6.4 12.4 -6.8 10.3 -9.8 12.4 -11 12.3 -16 16.5 -16.6 16.2 -14.4 13.1 -12.4 9.9 -10.4 6.9 -10.3 5.6 -10.3 4.2 -10.4 2.6 -6.2 0.9 -8.2 0.4 0-116.6 8.2-0.7 6.2-1.8 6.2-3.1 4.2-3 2.9-2.6 5.1-6.2 3.3-6.2 2-6.2 1-8.2 -1-8.3 -2-6.2 -3.3-6.2 -5.1-6.2 -2.9-2.6 -4.2-3 -6.2-3.1 -6.2-1.8 -8.2-0.7zM628.2 713.1l0 116.6 -8.3 0.7 -6.2 1.8 -6.2 3.1 -4.1 3 -3 2.6 -5 6.2 -3.4 6.2 -2 6.2 -0.9 8.3 0.9 8.2 2 6.2 3.4 6.2 5 6.2 3 2.6 4.1 3 6.2 3.1 6.2 1.8 8.3 0.7 0 116.6 -6.2-0.2 -6.2-0.7 -10.3-2.4 -10.4-3.8 -10.3-5.3 -10.3-6.7 -12.4-9.7 -12.4-10.9 -16.6-15.9 -16.2-16.5 -13.2-14.5 -10-12.4 -7.1-10.3 -6.8-12.3 -4-10.4 -2.5-10.3 -0.8-6.2 -0.2-6.1 0.7-10.4 2.3-10.4 3.6-10.2 6.4-12.4 6.9-10.3 9.7-12.4 11.1-12.3 15.9-16.5 16.6-16.2 14.5-13.1 12.4-9.9 10.3-6.9 10.4-5.6 10.3-4.2 10.3-2.6 6.2-0.9zM225.6 1107l0.9-6.1 2.7-10.4 4.1-10.3 5.6-10.3 7-10.3 9.9-12.4 13.1-14.4 16.2-16.6 16.5-15.9 12.4-11 12.4-9.8 10.4-6.8 12.4-6.4 10.3-3.7 10.3-2.2 10.4-0.7 6.2 0.2 6.2 0.8 10.3 2.5 10.3 4 12.4 6.7 10.4 7.1 12.4 10 14.4 13.2 16.6 16.1 15.9 16.6 11 12.4 9.6 12.4 6.8 10.3 5.3 10.3 3.8 10.3 2.4 10.3 0.7 6.2 0.2 6.2 -116.8 0 -0.7-8.3 -1.9-6.1 -3-6.2 -3-4.2 -2.7-2.9 -6.2-5.1 -6.2-3.3 -6.2-2 -8.2-0.9 -8.3 0.9 -6.2 2 -6.2 3.3 -6.2 5.1 -2.7 2.9 -2.9 4.2 -3.1 6.2 -1.8 6.1 -0.7 8.3 -116.8 0z"/>
<path fill="#aeff00" d="M228.1 620.2l112.1 0 0.7 8.3 2.6 8.2 3.3 6.2 5.1 6.2 5.5 4.7 4.2 2.6 4.1 1.9 6.2 1.9 8.3 0.9 8.2-0.9 6.2-1.9 4.2-1.9 4.1-2.6 5.6-4.7 5-6.2 3.4-6.2 2.5-8.2 0.7-8.3 112.2 0 -0.9 12.4 -2.4 10.3 -3.8 10.3 -6.5 12.4 -7 10.3 -9.8 12.4 -13 14.4 -15.7 16.1 -14.5 13.8 -12.4 11 -12.4 9.7 -10.3 6.8 -12.4 6.3 -10.4 3.7 -10.3 2.2 -10.3 0.7 -10.4-0.7 -10.3-2.2 -10.3-3.7 -12.4-6.3 -10.4-6.8 -12.4-9.7 -14.4-12.9 -16.6-16.1 -15.4-16 -10.9-12.4 -9.6-12.4 -6.7-10.3 -5.3-10.3 -3.8-10.3 -2.4-10.3 -0.7-6.2zM132.1 715.9l6.2 0.2 6.2 0.7 10.3 2.4 10.3 3.8 10.4 5.3 10.3 6.7 12.4 9.5 12.4 10.9 16.5 15.8 15.7 16.1 12.9 14.4 9.7 12.4 6.8 10.3 6.3 12.4 3.7 10.3 2.2 10.3 0.8 10.4 -0.8 10.3 -2.2 10.3 -3.7 10.3 -6.3 12.4 -6.8 10.3 -9.7 12.4 -11 12.3 -13.9 14.5 -16.1 15.7 -14.4 12.9 -12.4 9.9 -10.4 6.9 -11.6 6.2 -10.9 4.1 -10.5 2.4 -12.4 0.9 0-112 8.2-0.7 8.3-2.5 6.2-3.4 6.2-5 4.7-5.6 2.6-4.1 1.9-4.1 1.9-6.2 0.9-8.2 -0.9-8.3 -1.9-6.2 -1.9-4.1 -2.6-4.1 -4.7-5.6 -6.2-5 -6.2-3.4 -8.3-2.5 -8.2-0.7zM628.2 715.9l0 112 -8.3 0.7 -8.2 2.5 -6.2 3.4 -6.2 5 -4.8 5.6 -2.5 4.1 -2 4.1 -1.9 6.2 -0.9 8.3 0.9 8.2 1.9 6.2 2 4.1 2.5 4.1 4.8 5.6 6.2 5 6.2 3.4 8.2 2.5 8.3 0.7 0 112 -6.2-0.2 -6.2-0.7 -10.3-2.4 -10.4-3.8 -10.3-5.3 -10.3-6.7 -12.4-9.5 -12.4-10.9 -16.1-15.4 -16.1-16.5 -12.9-14.4 -9.7-12.4 -6.8-10.3 -6.4-12.4 -3.7-10.3 -2.2-10.3 -0.7-10.3 0.7-10.4 2.2-10.3 3.7-10.3 6.4-12.4 6.8-10.3 9.7-12.4 11-12.3 13.8-14.5 16.1-15.7 14.5-12.9 12.4-9.9 10.3-6.9 11.7-6.2 10.9-4.1 10.5-2.4zM228.9 1102.9l2.4-10.3 3.8-10.3 6.6-12.4 6.9-10.3 9.9-12.4 13-14.4 15.7-16.1 14.4-13.8 12.4-11 12.4-9.7 10.4-6.8 12.4-6.3 10.3-3.7 10.3-2.2 10.4-0.7 10.3 0.7 10.3 2.2 10.4 3.7 12.4 6.3 10.3 6.8 12.4 9.7 14.5 12.9 16.1 15.6 15.8 16.5 10.9 12.4 9.6 12.4 6.7 10.3 5.3 10.3 3.8 10.3 2.4 10.3 0.7 6.2 0.2 6.2 -112.2 0 -0.7-8.3 -2.5-8.2 -3.4-6.2 -5-6.2 -5.6-4.7 -4.1-2.6 -4.2-1.9 -6.2-1.9 -8.2-0.9 -8.3 0.9 -6.2 1.9 -4.1 1.9 -4.2 2.6 -5.5 4.7 -5.1 6.2 -3.3 6.2 -2.6 8.2 -0.7 8.3 -112.1 0z"/>
<path fill="#c9ff00" d="M230.9 620.2l107.4 0 0.7 8.3 2.4 8.2 2 4.1 2.5 4.2 5.3 6.1 6.2 5 4.2 2.4 4.1 1.8 6.2 1.8 8.3 0.9 8.2-0.9 6.2-1.8 4.2-1.8 4.1-2.4 6.2-5 5.3-6.1 2.6-4.2 2-4.1 2.4-8.2 0.6-8.3 107.5 0 -0.9 12.4 -2.4 10.3 -3.8 10.3 -6.5 12.4 -6.9 10.3 -9.8 12.4 -11 12.4 -15 15.4 -14.5 13.9 -12.4 10.9 -12.4 9.6 -10.3 6.8 -10.4 5.4 -10.3 4 -10.3 2.5 -6.2 0.8 -6.2 0.2 -6.2-0.2 -6.2-0.8 -10.4-2.5 -10.3-4 -10.3-5.4 -10.4-6.8 -12.4-9.6 -14.4-12.8 -14.5-14.1 -14.8-15.4 -10.9-12.4 -9.5-12.4 -6.7-10.3 -6.1-12.4 -3.6-10.3 -2-10.3zM132.1 718.7l10.3 0.6 10.3 2.1 10.4 3.5 12.4 6.2 10.3 6.6 12.4 9.5 12.4 10.8 15.5 14.9 14 14.4 12.9 14.4 9.6 12.4 6.8 10.3 5.4 10.3 4 10.4 2.5 10.3 0.8 6.2 0.3 6.2 -0.3 6.1 -0.8 6.2 -2.5 10.3 -4 10.4 -5.4 10.3 -6.8 10.3 -9.6 12.4 -11 12.3 -13.9 14.5 -15.4 14.9 -12.4 11.1 -12.4 9.7 -10.4 6.9 -12.4 6.5 -10.3 3.8 -10.3 2.4 -12.4 0.9 0-107.3 8.2-0.6 8.3-2.4 4.1-2 4.2-2.6 6.1-5.3 5-6.2 2.4-4.1 1.9-4.1 1.8-6.2 0.8-8.2 -0.8-8.3 -1.8-6.2 -1.9-4.1 -2.4-4.1 -5-6.2 -6.1-5.3 -4.2-2.6 -4.1-2 -8.3-2.4 -8.2-0.6zM628.2 718.7l0 107.3 -8.3 0.6 -8.2 2.4 -4.2 2 -4.1 2.6 -6.2 5.3 -5 6.2 -2.4 4.1 -1.8 4.1 -1.8 6.2 -0.9 8.3 0.9 8.2 1.8 6.2 1.8 4.1 2.4 4.1 5 6.2 6.2 5.3 4.1 2.6 4.2 2 8.2 2.4 8.3 0.6 0 107.3 -10.3-0.6 -10.4-2.1 -10.3-3.5 -12.4-6.2 -10.3-6.6 -12.4-9.5 -12.4-10.8 -15.5-14.9 -14.1-14.4 -12.8-14.4 -9.7-12.4 -6.8-10.3 -5.4-10.3 -4-10.4 -2.5-10.3 -0.7-6.2 -0.3-6.1 0.3-6.2 0.7-6.2 2.5-10.3 4-10.4 5.4-10.3 6.8-10.3 9.7-12.4 10.9-12.3 13.9-14.5 15.5-14.9 12.4-11.1 12.4-9.7 10.3-6.9 12.4-6.5 10.4-3.8 10.3-2.4zM231.8 1102.9l2.3-10.3 3.8-10.3 6.5-12.4 7-10.3 9.7-12.4 11.1-12.4 15-15.4 14.4-13.9 12.4-10.9 12.4-9.6 10.4-6.8 10.3-5.4 10.3-4 10.4-2.5 6.2-0.8 6.2-0.2 6.2 0.2 6.2 0.8 10.3 2.5 10.3 4 10.4 5.4 10.3 6.8 12.4 9.6 14.5 12.8 14.5 14.1 14.8 15.4 10.8 12.4 9.6 12.4 6.6 10.3 6.2 12.4 3.5 10.3 2.1 10.3 0.6 10.3 -107.5 0 -0.6-8.3 -2.4-8.2 -2-4.1 -2.6-4.2 -5.3-6.1 -6.2-5 -4.1-2.4 -4.2-1.8 -6.2-1.8 -8.2-0.9 -8.3 0.9 -6.2 1.8 -4.1 1.8 -4.2 2.4 -6.2 5 -5.3 6.1 -2.5 4.2 -2 4.1 -2.4 8.2 -0.7 8.3 -107.4 0z"/>
<path fill="#e4ff00" d="M233.7 620.2l102.6 0 0.7 8.3 2.3 8.2 4.3 8.3 5.6 6.8 6.6 5.5 7.8 4.3 8.3 2.6 8.3 0.8 8.2-0.8 8.3-2.6 7.8-4.3 6.7-5.5 5.6-6.8 4.3-8.3 2.3-8.2 0.6-8.3 102.6 0 -0.8 12.4 -2.4 10.3 -4.7 12.3 -5.6 10.4 -6.9 10.3 -9.7 12.4 -11 12.4 -14.1 14.4 -14.8 14.1 -12.4 10.7 -12.4 9.3 -10.3 6.5 -10.3 5.1 -10.4 3.7 -10.3 2.2 -10.3 0.7 -10.4-0.7 -10.3-2.2 -10.3-3.7 -12.4-6.3 -10.4-6.7 -12.4-9.6 -12.4-10.9 -14.8-14.3 -13.8-14.4 -10.9-12.4 -9.4-12.4 -6.7-10.3 -6.1-12.4 -3.5-10.3 -2.1-10.3zM132.1 721.6l10.3 0.6 10.3 2 10.4 3.5 12.4 6.2 10.3 6.6 12.4 9.5 12.4 10.8 14.5 13.8 14.2 14.8 10.9 12.3 9.7 12.4 6.7 10.3 6 11.7 4 11 2.2 10.3 0.7 10.4 -0.7 10.3 -2.2 10.3 -3.7 10.3 -5.1 10.3 -6.5 10.3 -9.3 12.4 -10.8 12.4 -14.1 14.7 -14.4 14 -12.4 11 -12.4 9.8 -10.4 6.8 -10.3 5.6 -12.4 4.7 -10.3 2.4 -12.4 0.8 0-102.4 8.2-0.6 8.3-2.3 8.3-4.3 6.8-5.6 5.6-6.6 4.2-7.8 2.6-8.3 0.8-8.2 -0.8-8.3 -2.6-8.3 -4.2-7.8 -5.6-6.6 -6.8-5.6 -8.3-4.3 -8.3-2.3 -8.2-0.6zM628.2 721.6l0 102.4 -8.3 0.6 -8.2 2.3 -8.3 4.3 -6.9 5.6 -5.5 6.6 -4.3 7.8 -2.5 8.3 -0.9 8.3 0.9 8.2 2.5 8.3 4.3 7.8 5.5 6.6 6.9 5.6 8.3 4.3 8.2 2.3 8.3 0.6 0 102.4 -10.3-0.6 -10.4-2 -10.3-3.5 -12.4-6.2 -10.3-6.6 -12.4-9.5 -12.4-10.8 -14.5-13.8 -14.3-14.8 -10.9-12.3 -9.6-12.4 -6.8-10.3 -5.9-11.7 -4-11 -2.2-10.3 -0.8-10.3 0.8-10.4 2.2-10.3 3.6-10.3 5.2-10.3 6.4-10.3 9.4-12.4 10.7-12.4 14.1-14.7 14.5-14 12.4-11 12.4-9.8 10.3-6.8 10.4-5.6 12.4-4.7 10.3-2.4zM234.6 1102.9l2.3-10.3 4.8-12.3 5.6-10.4 6.8-10.3 9.8-12.4 11-12.4 14-14.4 14.8-14.1 12.4-10.7 12.4-9.3 10.3-6.5 10.4-5.1 10.3-3.7 10.3-2.2 10.4-0.7 10.3 0.7 10.3 2.2 10.4 3.7 12.4 6.3 10.3 6.7 12.4 9.6 12.4 10.9 14.8 14.3 13.9 14.4 10.8 12.4 9.5 12.4 6.6 10.3 6.2 12.4 3.5 10.3 2.1 10.3 0.5 10.3 -102.6 0 -0.6-8.3 -2.3-8.2 -4.3-8.3 -5.6-6.8 -6.7-5.5 -7.8-4.3 -8.3-2.6 -8.2-0.8 -8.3 0.8 -8.3 2.6 -7.8 4.3 -6.6 5.5 -5.6 6.8 -4.3 8.3 -2.3 8.2 -0.7 8.3 -102.6 0z"/>
<path fill="#ffff00" d="M236.6 620.2l97.7 0 0.1 4.1 0.9 6.2 2.6 8.3 4.6 8.2 5.2 6.2 3.5 3.2 4.2 3.1 8.2 4.3 8.3 2.4 8.3 0.8 8.2-0.8 8.3-2.4 8.3-4.3 4.1-3.1 3.5-3.2 5.2-6.2 4.6-8.2 2.7-8.3 0.9-6.2 0.1-4.1 97.7 0 -0.9 12.4 -2.4 10.3 -3.8 10.3 -5.2 10.3 -6.6 10.3 -9.5 12.4 -10.8 12.4 -13.9 14.4 -14.1 13.4 -12.4 10.7 -12.4 9.3 -10.3 6.4 -10.3 5.1 -10.4 3.7 -10.3 2.2 -10.3 0.7 -10.4-0.7 -10.3-2.2 -10.3-3.7 -12.4-6.3 -10.4-6.7 -12.4-9.5 -12.4-10.9 -14-13.5 -13.7-14.5 -10.6-12.3 -9.2-12.4 -6.2-10.1 -5.1-10.6 -3.6-10.3 -2-10.3zM132.1 724.4l10.3 0.6 10.3 2.1 10.4 3.5 10.6 5.1 10 6.2 12.4 9.2 12.4 10.6 14.5 13.7 13.5 14 10.9 12.3 9.6 12.4 6.7 10.3 6.3 12.4 3.7 10.3 2.2 10.3 0.7 10.4 -0.7 10.3 -2.2 10.3 -3.7 10.3 -5.1 10.3 -6.4 10.3 -9.4 12.4 -10.7 12.4 -13.3 14 -14.5 13.8 -12.4 10.8 -12.4 9.5 -10.3 6.6 -10.4 5.2 -10.3 3.8 -10.3 2.4 -12.4 0.9 0-97.5 4.1-0.1 6.2-0.9 8.3-2.7 8.2-4.6 6.2-5.2 3.2-3.5 3.1-4.1 4.3-8.2 2.5-8.3 0.8-8.2 -0.8-8.3 -2.5-8.3 -4.3-8.2 -3.1-4.1 -3.2-3.5 -6.2-5.2 -8.2-4.6 -8.3-2.7 -6.2-0.9 -4.1-0.1zM628.2 724.4l0 97.5 -4.1 0.1 -6.2 0.9 -8.3 2.7 -8.3 4.6 -6.2 5.2 -3.2 3.5 -3.1 4.1 -4.3 8.2 -2.4 8.3 -0.8 8.3 0.8 8.2 2.4 8.3 4.3 8.2 3.1 4.1 3.2 3.5 6.2 5.2 8.3 4.6 8.3 2.7 6.2 0.9 4.1 0.1 0 97.5 -10.3-0.6 -10.4-2.1 -10.3-3.5 -10.6-5.1 -10.1-6.2 -12.4-9.2 -12.4-10.6 -14.4-13.7 -13.6-14 -10.9-12.3 -9.6-12.4 -6.7-10.3 -6.3-12.4 -3.7-10.3 -2.2-10.3 -0.7-10.3 0.7-10.4 2.2-10.3 3.7-10.3 5.1-10.3 6.5-10.3 9.3-12.4 10.7-12.4 13.4-14 14.5-13.8 12.4-10.8 12.4-9.5 10.3-6.6 10.3-5.2 10.4-3.8 10.3-2.4zM237.5 1102.9l2.3-10.3 3.8-10.3 5.3-10.3 6.6-10.3 9.5-12.4 10.8-12.4 13.9-14.4 14-13.4 12.4-10.7 12.4-9.3 10.3-6.4 10.4-5.1 10.3-3.7 10.3-2.2 10.4-0.7 10.3 0.7 10.3 2.2 10.4 3.7 12.4 6.3 10.3 6.7 12.4 9.5 12.4 10.9 14 13.5 13.8 14.5 10.6 12.3 9.2 12.4 6.2 10.1 5.1 10.6 3.5 10.3 2.1 10.3 0.6 10.3 -97.7 0 -0.1-4.1 -0.9-6.2 -2.7-8.3 -4.6-8.2 -5.2-6.2 -3.5-3.2 -4.1-3.1 -8.3-4.3 -8.3-2.4 -8.2-0.8 -8.3 0.8 -8.3 2.4 -8.2 4.3 -4.2 3.1 -3.5 3.2 -5.2 6.2 -4.6 8.2 -2.6 8.3 -0.9 6.2 -0.1 4.1 -97.7 0z"/>
<path fill="#ffe500" d="M239.5 620.2l92.6 0 0.1 4.1 0.9 6.2 2.5 8.3 4.4 8.2 3 4.1 3.8 4.2 6.5 5.3 8.3 4.6 8.2 2.8 4.2 0.7 6.2 0.5 6.2-0.5 4.1-0.7 8.3-2.8 8.2-4.6 6.5-5.3 3.8-4.2 3.1-4.1 4.3-8.2 2.6-8.3 0.8-6.2 0.1-4.1 92.6 0 -0.9 12.4 -2.3 10.3 -3.8 10.3 -5.3 10.3 -6.6 10.3 -9.4 12.4 -10.8 12.4 -12.6 13.1 -12.5 11.8 -12.4 10.7 -12.4 9.3 -10.3 6.4 -10.3 5.1 -10.4 3.7 -10.3 2.2 -10.3 0.7 -10.4-0.7 -10.3-2.2 -10.3-3.7 -10.4-5.1 -10.3-6.4 -12.4-9.3 -12.4-10.7 -14.5-13.9 -12.4-13.1 -10.6-12.3 -9.2-12.4 -6.3-10.3 -5-10.4 -3.5-10.3 -2.1-10.3zM132.1 727.4l10.3 0.6 10.3 2 10.4 3.5 10.3 5 10.3 6.3 12.4 9.2 12.4 10.6 13.1 12.4 13.9 14.4 10.7 12.4 9.4 12.4 6.4 10.3 5.1 10.3 3.7 10.3 2.2 10.3 0.7 10.4 -0.7 10.3 -2.2 10.3 -3.7 10.3 -5.1 10.3 -6.4 10.3 -9.4 12.4 -10.7 12.4 -11.8 12.4 -13.1 12.6 -12.4 10.8 -12.4 9.4 -10.3 6.6 -10.4 5.2 -10.3 3.8 -10.3 2.3 -12.4 0.9 0-92.4 4.1-0.1 6.2-0.9 8.3-2.5 8.2-4.4 4.2-3 4.1-3.8 5.3-6.4 4.7-8.3 2.7-8.2 0.8-4.2 0.4-6.1 -0.4-6.2 -0.8-4.2 -2.7-8.2 -4.7-8.3 -5.3-6.4 -4.1-3.8 -4.2-3 -8.2-4.4 -8.3-2.5 -6.2-0.9 -4.1-0.1zM628.2 727.4l0 92.4 -4.1 0.1 -6.2 0.9 -8.3 2.5 -8.3 4.4 -4.1 3 -4.1 3.8 -5.4 6.4 -4.6 8.3 -2.8 8.2 -0.7 4.2 -0.5 6.2 0.5 6.1 0.7 4.2 2.8 8.2 4.6 8.3 5.4 6.4 4.1 3.8 4.1 3 8.3 4.4 8.3 2.5 6.2 0.9 4.1 0.1 0 92.4 -10.3-0.6 -10.4-2 -10.3-3.5 -10.3-5 -10.4-6.3 -12.4-9.2 -12.4-10.6 -13.1-12.4 -13.9-14.4 -10.7-12.4 -9.3-12.4 -6.5-10.3 -5.1-10.3 -3.6-10.3 -2.2-10.3 -0.8-10.3 0.8-10.4 2.2-10.3 3.6-10.3 5.1-10.3 6.5-10.3 9.3-12.4 10.7-12.4 11.9-12.4 13.1-12.6 12.4-10.8 12.4-9.4 10.3-6.6 10.3-5.2 10.4-3.8 10.3-2.3zM240.4 1102.9l2.4-10.3 3.8-10.3 5.2-10.3 6.6-10.3 9.5-12.4 10.8-12.4 12.6-13.1 12.4-11.8 12.4-10.7 12.4-9.3 10.3-6.4 10.4-5.1 10.3-3.7 10.3-2.2 10.4-0.7 10.3 0.7 10.3 2.2 10.4 3.7 10.3 5.1 10.3 6.4 12.4 9.3 12.4 10.7 14.5 13.9 12.5 13.1 10.6 12.3 9.2 12.4 6.3 10.3 5 10.4 3.5 10.3 2 10.3 0.6 10.3 -92.6 0 -0.1-4.1 -0.8-6.2 -2.6-8.3 -4.3-8.2 -3.1-4.1 -3.8-4.2 -6.5-5.3 -8.2-4.6 -8.3-2.8 -4.1-0.7 -6.2-0.5 -6.2 0.5 -4.2 0.7 -8.2 2.8 -8.3 4.6 -6.5 5.3 -3.8 4.2 -3 4.1 -4.4 8.2 -2.5 8.3 -0.9 6.2 -0.1 4.1 -92.6 0z"/>
<path fill="#ffcc00" d="M242.5 620.2l87.4 0 0.1 4.1 0.8 6.2 2.4 8.3 3 6.2 2.5 4.1 6.3 7.5 4.2 3.7 4.1 3 8.3 4.3 8.2 2.7 4.2 0.7 6.2 0.4 6.2-0.4 4.1-0.7 8.3-2.7 8.2-4.3 4.2-3 4.1-3.7 6.3-7.5 2.6-4.1 2.9-6.2 2.4-8.3 0.9-6.2 0.1-4.1 87.3 0 -0.9 12.4 -2.3 10.3 -3.8 10.3 -5.3 10.3 -6.6 10.3 -9.4 12.4 -10.9 12.4 -11.6 12 -12.4 11.7 -12.4 10.5 -10.4 7.7 -10.3 6.4 -10.3 5.1 -10.4 3.7 -10.3 2.2 -10.3 0.7 -10.4-0.7 -10.3-2.2 -10.3-3.7 -10.4-5.1 -10.3-6.4 -12.4-9.3 -12.4-10.7 -12.4-11.9 -11.5-12.1 -10.6-12.3 -9.2-12.4 -6.3-10.3 -5-10.4 -3.5-10.3 -2.1-10.3zM132.1 730.4l10.3 0.6 10.3 2 10.4 3.5 10.3 5 10.3 6.3 12.4 9.2 12.4 10.6 12.1 11.4 11.9 12.4 10.7 12.4 9.4 12.4 6.4 10.3 5.1 10.3 3.7 10.3 2.2 10.3 0.7 10.4 -0.7 10.3 -2.2 10.3 -3.7 10.3 -5.1 10.3 -6.4 10.3 -7.7 10.3 -10.5 12.4 -11.7 12.4 -12.1 11.6 -12.4 10.9 -12.4 9.4 -10.3 6.6 -10.4 5.2 -10.3 3.8 -10.3 2.3 -12.4 0.9 0-87.2 4.1-0.1 6.2-0.8 8.3-2.4 6.2-2.9 4.1-2.6 7.5-6.3 3.7-4.1 3-4.1 4.4-8.3 2.6-8.2 0.7-4.2 0.4-6.1 -0.4-6.2 -0.7-4.2 -2.6-8.2 -4.4-8.3 -3-4.1 -3.7-4.1 -7.5-6.3 -4.1-2.6 -6.2-2.9 -8.3-2.4 -6.2-0.8 -4.1-0.1zM628.2 730.4l0 87.2 -4.1 0.1 -6.2 0.8 -8.3 2.4 -6.2 2.9 -4.1 2.6 -7.6 6.3 -3.7 4.1 -3 4.1 -4.3 8.3 -2.7 8.2 -0.7 4.2 -0.4 6.2 0.4 6.1 0.7 4.2 2.7 8.2 4.3 8.3 3 4.1 3.7 4.1 7.6 6.3 4.1 2.6 6.2 2.9 8.3 2.4 6.2 0.8 4.1 0.1 0 87.2 -10.3-0.6 -10.4-2 -10.3-3.5 -10.3-5 -10.4-6.3 -12.4-9.2 -12.4-10.6 -12-11.4 -11.9-12.4 -10.8-12.4 -9.3-12.4 -6.5-10.3 -5.1-10.3 -3.6-10.3 -2.2-10.3 -0.8-10.3 0.8-10.4 2.2-10.3 3.6-10.3 5.1-10.3 6.5-10.3 7.7-10.3 10.5-12.4 11.7-12.4 12.1-11.6 12.4-10.9 12.4-9.4 10.3-6.6 10.3-5.2 10.4-3.8 10.3-2.3zM243.4 1102.9l2.4-10.3 3.8-10.3 5.2-10.3 6.6-10.3 9.5-12.4 10.8-12.4 11.7-12 12.4-11.7 12.4-10.5 10.3-7.7 10.3-6.4 10.4-5.1 10.3-3.7 10.3-2.2 10.4-0.7 10.3 0.7 10.3 2.2 10.4 3.7 10.3 5.1 10.3 6.4 12.4 9.3 12.4 10.7 12.5 11.9 11.4 12.1 10.7 12.3 9.2 12.4 6.3 10.3 4.9 10.4 3.6 10.3 2 10.3 0.6 10.3 -87.3 0 -0.1-4.1 -0.9-6.2 -2.4-8.3 -2.9-6.2 -2.6-4.1 -6.3-7.5 -4.1-3.7 -4.2-3 -8.2-4.3 -8.3-2.7 -4.1-0.7 -6.2-0.4 -6.2 0.4 -4.2 0.7 -8.2 2.7 -8.3 4.3 -4.1 3 -4.2 3.7 -6.3 7.5 -2.5 4.1 -3 6.2 -2.4 8.3 -0.8 6.2 -0.1 4.1 -87.4 0z"/>
<path fill="#ffb300" d="M245.6 620.2l81.9 0 0.3 6.2 1.6 8.2 2.2 6.2 4.3 8.3 3 4.1 4.1 4.6 4.1 3.8 4.1 3.1 8.3 4.6 4.1 1.6 6.2 1.8 4.2 0.7 6.2 0.3 6.2-0.3 4.1-0.7 6.2-1.8 4.1-1.6 8.3-4.6 4.1-3.1 4.2-3.8 4-4.6 3-4.1 4.4-8.3 2.2-6.2 1.6-8.2 0.2-6.2 81.9 0 -0.9 12.4 -2.3 10.3 -3.8 10.3 -5.3 10.3 -6.6 10.3 -8.1 10.8 -10.3 11.9 -12 12.4 -10.9 10.3 -12.3 10.5 -10.4 7.7 -10.6 6.6 -10 4.9 -10.4 3.7 -10.3 2.2 -10.3 0.7 -10.4-0.7 -10.3-2.2 -10.3-3.7 -10.4-5.1 -10.3-6.4 -10.6-7.9 -12.1-10.3 -13-12.4 -11.7-12.3 -10.4-12.4 -7.6-10.3 -6.3-10.3 -5-10.4 -3.5-10.3 -2.1-10.3zM132.1 733.5l10.3 0.6 10.3 2 10.4 3.5 10.3 5 10.3 6.3 10.4 7.5 12.4 10.5 12.4 11.7 12.3 12.9 10.4 12.1 7.8 10.6 6.5 10.3 5.1 10.3 3.7 10.3 2.2 10.3 0.7 10.4 -0.7 10.3 -2.2 10.3 -3.7 10.3 -4.9 10 -6.7 10.6 -7.6 10.3 -10.5 12.4 -10.4 10.9 -12.4 11.9 -11.9 10.2 -10.8 8.2 -10.3 6.6 -10.4 5.2 -10.3 3.8 -10.3 2.3 -12.4 0.9 0-81.7 6.2-0.3 8.2-1.6 6.2-2.1 8.3-4.4 4.1-3 4.6-4 3.8-4.1 3.1-4.2 4.6-8.2 1.7-4.1 1.7-6.2 0.7-4.2 0.4-6.1 -0.4-6.2 -0.7-4.2 -1.7-6.2 -1.7-4.1 -4.6-8.2 -3.1-4.2 -3.8-4.1 -4.6-4 -4.1-3 -8.3-4.4 -6.2-2.1 -8.2-1.6 -6.2-0.3zM628.2 733.5l0 81.7 -6.2 0.3 -8.3 1.6 -6.2 2.1 -8.2 4.4 -4.2 3 -4.6 4 -3.8 4.1 -3.1 4.2 -4.6 8.2 -1.6 4.1 -1.8 6.2 -0.7 4.2 -0.3 6.2 0.3 6.1 0.7 4.2 1.8 6.2 1.6 4.1 4.6 8.2 3.1 4.2 3.8 4.1 4.6 4 4.2 3 8.2 4.4 6.2 2.1 8.3 1.6 6.2 0.3 0 81.7 -10.3-0.6 -10.4-2 -10.3-3.5 -10.3-5 -10.4-6.3 -10.3-7.5 -12.4-10.5 -12.4-11.7 -12.4-12.9 -10.3-12.1 -7.9-10.6 -6.4-10.3 -5.1-10.3 -3.7-10.3 -2.2-10.3 -0.8-10.3 0.8-10.4 2.2-10.3 3.7-10.3 4.9-10 6.6-10.6 7.7-10.3 10.5-12.4 10.3-10.9 12.4-11.9 11.9-10.2 10.9-8.2 10.3-6.6 10.3-5.2 10.4-3.8 10.3-2.3zM246.5 1102.9l2.4-10.3 3.8-10.3 5.2-10.3 6.6-10.3 8.2-10.8 10.3-11.9 11.9-12.4 10.9-10.3 12.4-10.5 10.3-7.7 10.6-6.6 10.1-4.9 10.3-3.7 10.3-2.2 10.4-0.7 10.3 0.7 10.3 2.2 10.4 3.7 10.3 5.1 10.3 6.4 10.6 7.9 12.2 10.3 12.9 12.4 11.7 12.3 10.5 12.4 7.5 10.3 6.4 10.3 4.9 10.4 3.6 10.3 2 10.3 0.6 10.3 -81.9 0 -0.2-6.2 -1.6-8.2 -2.2-6.2 -4.4-8.3 -3-4.1 -4-4.6 -4.2-3.8 -4.1-3.1 -8.3-4.6 -4.1-1.6 -6.2-1.8 -4.1-0.7 -6.2-0.3 -6.2 0.3 -4.2 0.7 -6.2 1.8 -4.1 1.6 -8.3 4.6 -4.1 3.1 -4.1 3.8 -4.1 4.6 -3 4.1 -4.3 8.3 -2.2 6.2 -1.6 8.2 -0.3 6.2 -81.9 0z"/>
<path fill="#ff9900" d="M248.8 620.2l76.2 0 0.3 6.2 0.6 4.1 1.5 6.2 1.5 4.1 2.9 6.2 2.6 4.1 6.7 8.3 8.1 6.8 4.1 2.7 6.2 3.1 4.1 1.5 6.2 1.7 10.4 1 10.3-1 6.2-1.7 4.1-1.5 6.2-3.1 4.2-2.7 8-6.8 6.8-8.3 2.5-4.1 3-6.2 1.5-4.1 1.5-6.2 0.6-4.1 0.2-6.2 76.2 0 -0.9 12.4 -2.3 10.1 -3.9 10.5 -4.3 8.7 -6.1 9.9 -8.4 11.3 -9.7 11.4 -11.9 12.3 -11.5 10.9 -12.4 10.4 -10.3 7.4 -10.4 6.2 -10.3 4.8 -10.3 3.4 -10.4 1.9 -8.2 0.5 -10.4-0.8 -10.3-2.2 -10.3-3.6 -10.4-5.1 -10.3-6.5 -10.3-7.7 -12.4-10.6 -11.6-11 -11.2-11.9 -9.1-10.8 -7.5-10.3 -6.4-10.3 -4.9-10.4 -3.6-10.3 -2.1-10.3zM132.1 736.7l10.3 0.6 10.3 2 10.4 3.6 10.3 4.9 10.3 6.4 10.4 7.5 10.8 9.1 11.9 11.2 11.1 11.5 10.6 12.4 7.7 10.3 6.4 10.3 5.2 10.3 3.6 10.3 2.2 10.3 0.8 10.4 -0.5 8.2 -1.9 10.3 -3.4 10.3 -4.8 10.3 -6.2 10.4 -7.5 10.3 -10.4 12.4 -10.8 11.5 -12.4 11.8 -11.4 9.7 -11.4 8.3 -9.8 6.1 -8.8 4.4 -10.6 3.9 -10 2.2 -12.4 0.9 0-76 6.2-0.3 4.1-0.5 6.2-1.6 4.1-1.4 6.2-3 4.2-2.5 8.2-6.8 6.9-8 2.6-4.1 3.1-6.2 1.6-4.1 1.7-6.2 1-10.3 -1-10.4 -1.7-6.2 -1.6-4.1 -3.1-6.2 -2.6-4.1 -6.9-8 -8.2-6.8 -4.2-2.5 -6.2-3 -4.1-1.4 -6.2-1.6 -4.1-0.5 -6.2-0.3zM628.2 736.7l0 76 -6.2 0.3 -4.1 0.5 -6.2 1.6 -4.2 1.4 -6.2 3 -4.1 2.5 -8.3 6.8 -6.8 8 -2.7 4.1 -3.1 6.2 -1.5 4.1 -1.7 6.2 -1.1 10.4 1.1 10.3 1.7 6.2 1.5 4.1 3.1 6.2 2.7 4.1 6.8 8 8.3 6.8 4.1 2.5 6.2 3 4.2 1.4 6.2 1.6 4.1 0.5 6.2 0.3 0 76 -10.3-0.6 -10.4-2 -10.3-3.6 -10.3-4.9 -10.4-6.4 -10.3-7.5 -10.8-9.1 -11.9-11.2 -11.1-11.5 -10.6-12.4 -7.7-10.3 -6.5-10.3 -5.1-10.3 -3.7-10.3 -2.2-10.3 -0.7-10.3 0.4-8.3 2-10.3 3.3-10.3 4.9-10.3 6.2-10.4 7.4-10.3 10.4-12.4 10.9-11.5 12.4-11.8 11.4-9.7 11.3-8.3 9.9-6.1 8.7-4.4 10.6-3.9 10.1-2.2zM249.7 1102.9l2.3-10.1 3.9-10.5 4.4-8.7 6.1-9.9 8.4-11.3 9.7-11.4 11.8-12.3 11.5-10.9 12.4-10.4 10.4-7.4 10.3-6.2 10.3-4.8 10.4-3.4 10.3-1.9 8.3-0.5 10.3 0.8 10.3 2.2 10.4 3.6 10.3 5.1 10.3 6.5 10.4 7.7 12.4 10.6 11.5 11 11.2 11.9 9.1 10.8 7.6 10.3 6.3 10.3 5 10.4 3.5 10.3 2.1 10.3 0.6 10.3 -76.2 0 -0.2-6.2 -0.6-4.1 -1.5-6.2 -1.5-4.1 -3-6.2 -2.5-4.1 -6.8-8.3 -8-6.8 -4.2-2.7 -6.2-3.1 -4.1-1.5 -6.2-1.7 -10.3-1 -10.4 1 -6.2 1.7 -4.1 1.5 -6.2 3.1 -4.1 2.7 -8.1 6.8 -6.7 8.3 -2.6 4.1 -2.9 6.2 -1.5 4.1 -1.5 6.2 -0.6 4.1 -0.3 6.2 -76.2 0z"/>
<path fill="#ff8000" d="M252.2 620.2l70.2 0 0.2 6.2 1 6.2 1.7 6.2 1.6 4.1 3.1 6.2 2.6 4.1 6.9 8.3 4.5 4.1 5.2 3.8 6.2 3.6 4.1 1.9 6.2 2.1 4.1 0.9 10.4 1 10.3-1 4.1-0.9 6.2-2.1 4.2-1.9 6.2-3.6 5.2-3.8 4.5-4.1 6.9-8.3 2.6-4.1 3.1-6.2 1.6-4.1 1.7-6.2 1-6.2 0.2-6.2 70.1 0 -0.9 12.4 -1.7 8.2 -3.6 10.3 -5 10.4 -6.4 10.3 -7.6 10.3 -9.7 11.4 -10.8 11.3 -11 10.3 -11.3 9.5 -10.3 7.5 -10.4 6.2 -10.3 4.8 -8.5 2.9 -10.1 2.2 -10.3 0.7 -10.4-0.7 -10.3-2.2 -10.3-3.7 -9.2-4.5 -10.1-6.2 -11.2-8.3 -10.9-9.2 -11.9-11.4 -10.8-11.5 -9.3-11.2 -7.4-10.3 -6.1-10.3 -4.7-10.3 -3.2-10.3 -1.8-10.3zM132.1 740l8.2 0.4 10.4 1.8 10.3 3.2 10.3 4.7 10.4 6.1 10.3 7.4 11.2 9.3 11.5 10.7 11.5 11.9 9.2 10.9 8.3 11.2 6.2 10.1 4.5 9.1 3.7 10.3 2.2 10.3 0.7 10.4 -0.7 10.3 -2.2 10 -2.9 8.5 -4.8 10.3 -6.3 10.4 -7.5 10.3 -9.5 11.3 -10.3 10.9 -11.3 10.8 -11.4 9.7 -10.4 7.6 -10.3 6.3 -10.3 5 -10.4 3.6 -8.2 1.8 -12.4 0.9 0-70 6.2-0.3 6.2-0.9 6.2-1.7 4.1-1.6 6.2-3.1 4.1-2.7 8.3-6.8 4.1-4.5 3.9-5.2 3.5-6.2 1.9-4.1 2.1-6.2 1-4.1 1-10.3 -1-10.4 -1-4.1 -2.1-6.2 -1.9-4.1 -3.5-6.2 -3.9-5.2 -4.1-4.5 -8.3-6.8 -4.1-2.7 -6.2-3.1 -4.1-1.6 -6.2-1.7 -6.2-0.9 -6.2-0.3zM628.2 740l0 70 -6.2 0.3 -6.2 0.9 -6.2 1.7 -4.1 1.6 -6.2 3.1 -4.2 2.7 -8.2 6.8 -4.2 4.5 -3.8 5.2 -3.6 6.2 -1.9 4.1 -2.1 6.2 -0.9 4.1 -1 10.4 1 10.3 0.9 4.1 2.1 6.2 1.9 4.1 3.6 6.2 3.8 5.2 4.2 4.5 8.2 6.8 4.2 2.7 6.2 3.1 4.1 1.6 6.2 1.7 6.2 0.9 6.2 0.3 0 70 -8.3-0.4 -10.3-1.8 -10.3-3.2 -10.4-4.7 -10.3-6.1 -10.3-7.4 -11.2-9.3 -11.6-10.7 -11.4-11.9 -9.2-10.9 -8.3-11.2 -6.2-10.1 -4.5-9.1 -3.7-10.3 -2.2-10.3 -0.8-10.3 0.8-10.4 2.1-10 2.9-8.5 4.9-10.3 6.2-10.4 7.5-10.3 9.5-11.3 10.4-10.9 11.3-10.8 11.4-9.7 10.3-7.6 10.4-6.3 10.3-5 10.3-3.6 8.3-1.8zM253.1 1102.9l1.8-8.2 3.5-10.3 5.1-10.4 6.3-10.3 7.6-10.3 9.8-11.4 10.8-11.3 10.9-10.3 11.3-9.5 10.4-7.5 10.3-6.2 10.3-4.8 8.6-2.9 10-2.2 10.4-0.7 10.3 0.7 10.3 2.2 10.4 3.7 9.2 4.5 10.1 6.2 11.2 8.3 10.8 9.2 12 11.4 10.8 11.5 9.2 11.2 7.4 10.3 6.1 10.3 4.7 10.3 3.3 10.3 1.8 10.3 0.3 8.3 -70.1 0 -0.2-6.2 -1-6.2 -1.7-6.2 -1.6-4.1 -3.1-6.2 -2.6-4.1 -6.9-8.3 -4.5-4.1 -5.2-3.8 -6.2-3.6 -4.2-1.9 -6.2-2.1 -4.1-0.9 -10.3-1 -10.4 1 -4.1 0.9 -6.2 2.1 -4.1 1.9 -6.2 3.6 -5.2 3.8 -4.5 4.1 -6.9 8.3 -2.6 4.1 -3.1 6.2 -1.6 4.1 -1.7 6.2 -1 6.2 -0.2 6.2 -70.2 0z"/>
<path fill="#ff6600" d="M255.8 620.2l63.6 0 0.3 6.2 0.9 6.2 3.1 10.3 1.9 4.1 3.5 6.2 4.6 6.2 3.8 4.1 4.5 4.1 5.1 3.9 6.2 3.7 4.1 1.9 10.4 3.4 6.2 1 6.2 0.3 6.2-0.3 6.2-1 10.3-3.4 4.1-1.9 6.2-3.7 5.1-3.9 4.6-4.1 3.7-4.1 4.6-6.2 3.6-6.2 1.8-4.1 3.2-10.3 0.9-6.2 0.2-6.2 63.6 0 -0.5 10.3 -2.1 10.3 -3.6 10.3 -4.4 9.2 -6.2 10.2 -8.3 11.3 -9.1 10.6 -9.9 10.3 -11 10.3 -11.4 9.4 -10.3 7.3 -10.3 6 -9.1 4.1 -9.5 3.1 -8.3 1.7 -10.3 0.7 -10.4-0.7 -10.3-2.2 -8.3-2.9 -10.3-4.9 -10.3-6.2 -10.4-7.6 -11.6-9.8 -10.7-10.3 -10.7-11.5 -8.3-10.1 -6.8-9.4 -6.1-10.3 -4.8-10.3 -3-9.3 -1.8-9.3zM132.1 743.6l10.3 0.6 9.3 1.8 9.3 3 10.3 4.8 10.4 6.1 9.4 6.8 10.1 8.2 11.5 10.7 10.3 10.7 9.9 11.6 7.5 10.3 6.3 10.4 4.9 10.3 2.8 8.2 2.3 10.3 0.7 10.4 -0.7 10.3 -1.7 8.2 -3.1 9.5 -4.1 9.1 -6 10.3 -7.3 10.3 -9.4 11.4 -10.4 11 -10.3 9.8 -10.7 9.1 -11.2 8.2 -10.2 6.2 -9.2 4.4 -10.4 3.6 -10.3 2.1 -10.3 0.6 0-63.5 6.2-0.3 6.2-0.9 10.3-3.1 4.1-1.9 6.2-3.5 6.2-4.6 4.2-3.7 4.1-4.6 3.8-5 3.7-6.2 2-4.2 3.3-10.3 1.1-6.2 0.3-6.1 -0.3-6.2 -1.1-6.2 -3.3-10.3 -2-4.2 -3.7-6.2 -3.8-5 -4.1-4.6 -4.2-3.7 -6.2-4.6 -6.2-3.5 -4.1-1.9 -10.3-3.1 -6.2-0.9 -6.2-0.3zM628.2 743.6l0 63.5 -6.2 0.3 -6.2 0.9 -10.3 3.1 -4.2 1.9 -6.2 3.5 -6.2 4.6 -4.1 3.7 -4.1 4.6 -3.9 5 -3.7 6.2 -1.9 4.2 -3.4 10.3 -1 6.2 -0.3 6.2 0.3 6.1 1 6.2 3.4 10.3 1.9 4.2 3.7 6.2 3.9 5 4.1 4.6 4.1 3.7 6.2 4.6 6.2 3.5 4.2 1.9 10.3 3.1 6.2 0.9 6.2 0.3 0 63.5 -10.3-0.6 -9.4-1.8 -9.2-3 -10.4-4.8 -10.3-6.1 -9.4-6.8 -10.1-8.2 -11.5-10.7 -10.3-10.7 -9.9-11.6 -7.6-10.3 -6.2-10.4 -4.9-10.3 -2.9-8.2 -2.2-10.3 -0.8-10.3 0.8-10.4 1.6-8.2 3.1-9.5 4.2-9.1 6-10.3 7.3-10.3 9.4-11.4 10.3-11 10.4-9.8 10.6-9.1 11.3-8.2 10.2-6.2 9.2-4.4 10.3-3.6 10.4-2.1zM256.4 1105l2.1-10.3 3.6-10.3 4.4-9.2 6.2-10.2 8.3-11.3 9-10.6 9.9-10.3 11-10.3 11.4-9.4 10.3-7.3 10.4-6 9.1-4.1 9.5-3.1 8.2-1.7 10.4-0.7 10.3 0.7 10.3 2.2 8.3 2.9 10.3 4.9 10.4 6.2 10.3 7.6 11.6 9.8 10.8 10.3 10.7 11.5 8.3 10.1 6.7 9.4 6.2 10.3 4.7 10.3 3 9.3 1.9 9.3 0.5 10.3 -63.6 0 -0.2-6.2 -0.9-6.2 -3.2-10.3 -1.8-4.1 -3.6-6.2 -4.6-6.2 -3.7-4.1 -4.6-4.1 -5.1-3.9 -6.2-3.7 -4.1-1.9 -10.3-3.4 -6.2-1 -6.2-0.3 -6.2 0.3 -6.2 1 -10.4 3.4 -4.1 1.9 -6.2 3.7 -5.1 3.9 -4.5 4.1 -3.8 4.1 -4.6 6.2 -3.5 6.2 -1.9 4.1 -3.1 10.3 -0.9 6.2 -0.3 6.2 -63.6 0z"/>
<path fill="#ff4c00" d="M259.7 620.2l56.5 0 0.2 6.2 0.9 6.2 1.6 6.2 2.2 6.2 2 4.1 3.6 6.2 3.9 5.2 4.5 5.1 4.5 4.1 5.4 4.2 4.2 2.6 6.2 3.2 6.2 2.4 6.2 1.6 6.2 1 6.2 0.4 6.2-0.4 6.2-1 6.2-1.6 6.2-2.4 6.2-3.2 4.1-2.6 5.5-4.2 4.5-4.1 4.5-5.1 3.8-5.2 3.7-6.2 1.9-4.1 2.3-6.2 1.5-6.2 0.9-6.2 0.2-6.2 56.6 0 -0.6 10.5 -2.1 10.1 -3.7 10.3 -4.6 9.5 -6.2 10.1 -6.9 9.3 -8.7 10.3 -9.9 10.4 -11.1 10.3 -10.1 8.2 -9.1 6.5 -10.3 6.1 -8.6 3.9 -10 3.3 -8.3 1.7 -10.3 0.8 -10.4-0.8 -8.2-1.7 -10-3.3 -8.9-4.1 -10.1-5.9 -10.3-7.4 -11.2-9.4 -10.8-10.3 -11.1-11.9 -8.2-10.3 -6.2-8.8 -5.9-10.3 -4.5-10.1 -2.6-8.4 -1.5-8.3zM132.1 747.5l10.3 0.6 8.3 1.6 8.4 2.5 10.2 4.5 10.2 5.8 8.9 6.2 10.3 8.3 11.9 11 10.3 10.8 9.4 11.2 7.4 10.3 6 10 4.1 8.9 3.3 10 1.7 8.2 0.8 10.4 -0.8 10.3 -1.7 8.2 -3.3 10 -4 8.6 -6.1 10.3 -6.4 9.1 -8.3 10.1 -10.3 11.1 -10.4 9.8 -10.3 8.7 -9.4 6.9 -10.1 6.2 -9.4 4.6 -10.4 3.6 -10.1 2.1 -10.5 0.6 0-56.4 6.2-0.2 6.2-0.9 6.2-1.6 6.2-2.2 4.1-2 6.2-3.6 5.3-3.8 5-4.6 4.2-4.4 4.1-5.5 2.7-4.1 3.1-6.2 2.4-6.2 1.7-6.2 1-6.2 0.3-6.1 -0.3-6.2 -1-6.2 -1.7-6.2 -2.4-6.2 -3.1-6.2 -2.7-4.1 -4.1-5.5 -4.2-4.4 -5-4.6 -5.3-3.8 -6.2-3.6 -4.1-2 -6.2-2.2 -6.2-1.6 -6.2-0.9 -6.2-0.2zM628.2 747.5l0 56.4 -6.2 0.2 -6.2 0.9 -6.2 1.6 -6.2 2.2 -4.1 2 -6.2 3.6 -5.3 3.8 -5.1 4.6 -4.1 4.4 -4.2 5.5 -2.6 4.1 -3.2 6.2 -2.4 6.2 -1.7 6.2 -0.9 6.2 -0.4 6.2 0.4 6.1 0.9 6.2 1.7 6.2 2.4 6.2 3.2 6.2 2.6 4.1 4.2 5.5 4.1 4.4 5.1 4.6 5.3 3.8 6.2 3.6 4.1 2 6.2 2.2 6.2 1.6 6.2 0.9 6.2 0.2 0 56.4 -10.3-0.6 -8.3-1.6 -8.4-2.5 -10.2-4.5 -10.2-5.8 -8.9-6.2 -10.3-8.3 -11.9-11 -10.4-10.8 -9.4-11.2 -7.4-10.3 -5.9-10 -4.1-8.9 -3.4-10 -1.7-8.2 -0.7-10.3 0.7-10.4 1.7-8.2 3.4-10 3.9-8.6 6.1-10.3 6.5-9.1 8.3-10.1 10.3-11.1 10.3-9.8 10.4-8.7 9.3-6.9 10.1-6.2 9.5-4.6 10.3-3.6 10.2-2.1zM260.3 1104.8l2.1-10.1 3.6-10.3 4.6-9.5 6.2-10.1 6.9-9.3 8.8-10.3 9.8-10.4 11.1-10.3 10.1-8.2 9.1-6.5 10.4-6.1 8.6-3.9 10-3.3 8.2-1.7 10.4-0.8 10.3 0.8 8.3 1.7 10 3.3 8.9 4.1 10 5.9 10.3 7.4 11.3 9.4 10.8 10.3 11 11.9 8.3 10.3 6.2 8.8 5.9 10.3 4.4 10.1 2.6 8.4 1.6 8.3 0.6 10.3 -56.6 0 -0.2-6.2 -0.9-6.2 -1.5-6.2 -2.3-6.2 -1.9-4.1 -3.7-6.2 -3.8-5.2 -4.5-5.1 -4.5-4.1 -5.5-4.2 -4.1-2.6 -6.2-3.2 -6.2-2.4 -6.2-1.6 -6.2-1 -6.2-0.4 -6.2 0.4 -6.2 1 -6.2 1.6 -6.2 2.4 -6.2 3.2 -4.2 2.6 -5.4 4.2 -4.5 4.1 -4.5 5.1 -3.9 5.2 -3.6 6.2 -2 4.1 -2.2 6.2 -1.6 6.2 -0.9 6.2 -0.2 6.2 -56.5 0z"/>
<path fill="#ff3300" d="M264 620.2l48.5 0 0.2 6.2 0.9 6.2 1.5 6.2 2.1 6.2 2.9 6.1 3.6 6.2 4.7 6.2 4.2 4.7 4.2 3.9 6.2 4.8 6.2 3.8 6.2 2.9 6.2 2.3 6.2 1.6 6.2 0.9 6.2 0.3 6.2-0.3 6.2-0.9 6.2-1.6 6.2-2.3 6.2-2.9 6.2-3.8 6.2-4.8 4.1-3.9 4.3-4.7 4.6-6.2 3.7-6.2 2.9-6.1 2.1-6.2 1.5-6.2 0.8-6.2 0.2-6.2 48.6 0 -0.6 10.3 -2.2 10.3 -3.6 10.3 -4.1 8.3 -6.3 10.3 -6.4 8.7 -8.3 9.9 -9.9 10.3 -8.9 8.2 -10.1 8.4 -8.5 6.1 -10.4 6.2 -8.9 4.1 -9.4 3.1 -8.3 1.7 -10.3 0.8 -10.4-0.8 -8.2-1.7 -9.4-3.1 -9.2-4.3 -10.2-6 -8.6-6.2 -10.2-8.4 -10.7-10.2 -9.7-10.3 -8.4-10.3 -6.3-9 -5.6-9.6 -4.6-10.3 -2.5-8.2 -1.8-9.4zM132.1 751.8l9.1 0.4 9.5 1.8 8.2 2.5 10.4 4.6 9.5 5.6 9.1 6.3 10.3 8.4 10.3 9.6 10.2 10.7 8.4 10.2 6.2 8.6 6.1 10.1 4.3 9.2 3.1 9.4 1.7 8.2 0.8 10.4 -0.8 10.3 -1.7 8.2 -3.1 9.4 -4.2 8.9 -6.2 10.4 -6 8.4 -8.4 10.2 -8.3 8.8 -10.3 9.9 -9.9 8.3 -8.7 6.4 -10.4 6.3 -8.2 4 -10.4 3.7 -10.3 2.1 -10.3 0.6 0-48.4 6.2-0.3 6.2-0.8 6.2-1.5 6.2-2.1 6.2-2.9 6.2-3.6 6.2-4.6 4.7-4.3 3.8-4.1 4.8-6.2 3.8-6.2 3-6.2 2.3-6.2 1.5-6.2 1-6.2 0.3-6.1 -0.3-6.2 -1-6.2 -1.5-6.2 -2.3-6.2 -3-6.2 -3.8-6.2 -4.8-6.2 -3.8-4.1 -4.7-4.3 -6.2-4.6 -6.2-3.6 -6.2-2.9 -6.2-2.1 -6.2-1.5 -6.2-0.8 -6.2-0.3zM628.2 751.8l0 48.4 -6.2 0.3 -6.2 0.8 -6.2 1.5 -6.2 2.1 -6.2 2.9 -6.2 3.6 -6.2 4.6 -4.7 4.3 -3.9 4.1 -4.8 6.2 -3.8 6.2 -3 6.2 -2.2 6.2 -1.6 6.2 -0.9 6.2 -0.3 6.2 0.3 6.1 0.9 6.2 1.6 6.2 2.2 6.2 3 6.2 3.8 6.2 4.8 6.2 3.9 4.1 4.7 4.3 6.2 4.6 6.2 3.6 6.2 2.9 6.2 2.1 6.2 1.5 6.2 0.8 6.2 0.3 0 48.4 -9.2-0.4 -9.4-1.8 -8.3-2.5 -10.3-4.6 -9.6-5.6 -9-6.3 -10.3-8.4 -10.4-9.6 -10.2-10.7 -8.4-10.2 -6.2-8.6 -6-10.1 -4.3-9.2 -3.1-9.4 -1.8-8.2 -0.7-10.3 0.7-10.4 1.8-8.2 3.1-9.4 4.1-8.9 6.2-10.4 6.1-8.4 8.4-10.2 8.3-8.8 10.3-9.9 9.9-8.3 8.7-6.4 10.3-6.3 8.3-4 10.3-3.7 10.4-2.1zM264.6 1105l2.1-10.3 3.7-10.3 4-8.3 6.3-10.3 6.5-8.7 8.3-9.9 9.9-10.3 8.8-8.2 10.2-8.4 8.4-6.1 10.5-6.2 8.9-4.1 9.4-3.1 8.2-1.7 10.4-0.8 10.3 0.8 8.3 1.7 9.4 3.1 9.2 4.3 10.1 6 8.7 6.2 10.1 8.4 10.8 10.2 9.6 10.3 8.4 10.3 6.4 9 5.5 9.6 4.6 10.3 2.6 8.2 1.7 9.4 0.5 9.2 -48.6 0 -0.2-6.2 -0.8-6.2 -1.5-6.2 -2.1-6.2 -2.9-6.1 -3.7-6.2 -4.6-6.2 -4.3-4.7 -4.1-3.9 -6.2-4.8 -6.2-3.8 -6.2-2.9 -6.2-2.3 -6.2-1.6 -6.2-0.9 -6.2-0.3 -6.2 0.3 -6.2 0.9 -6.2 1.6 -6.2 2.3 -6.2 2.9 -6.2 3.8 -6.2 4.8 -4.2 3.9 -4.2 4.7 -4.7 6.2 -3.6 6.2 -2.9 6.1 -2.1 6.2 -1.5 6.2 -0.9 6.2 -0.2 6.2 -48.5 0z"/>
<path fill="#ff1a00" d="M268.9 620.2l39.3 0 0.2 6.2 0.7 6.2 2 8.2 2.2 6.2 2.9 6.2 3.7 6.2 4.5 6.2 5.6 6.2 4.7 4.2 6.2 4.7 6.2 3.8 6.2 3 6.2 2.3 6.2 1.7 8.3 1.3 6.2 0.3 6.2-0.3 8.2-1.3 6.2-1.7 6.2-2.3 6.2-3 6.2-3.8 6.2-4.7 4.7-4.2 5.6-6.2 4.6-6.2 3.6-6.2 2.9-6.2 2.2-6.2 2-8.2 0.8-6.2 0.2-6.2 39.2 0 -0.9 12.4 -1.9 8.2 -3 8.5 -4.1 8.7 -5.9 9.6 -6.5 8.9 -8.2 9.7 -8.4 8.7 -8.3 7.8 -10.3 8.5 -8.3 6 -10.3 6 -8.3 3.7 -8.2 2.8 -9.3 1.9 -9.3 0.6 -9.4-0.6 -9.2-1.9 -8.3-2.8 -8.3-3.7 -10.2-6 -8.7-6.2 -10-8.3 -10.3-9.9 -8.3-8.8 -8.3-10.2 -6.2-8.8 -5.5-9.7 -4.4-10.3 -2.4-8.3 -1.4-8.2zM132.1 756.7l8.2 0.4 8.3 1.4 8.3 2.4 10.3 4.4 9.7 5.5 8.9 6.2 10.2 8.2 8.8 8.3 9.9 10.3 8.3 10 6.2 8.6 6 10.3 3.8 8.2 2.8 8.3 1.9 9.2 0.6 9.4 -0.6 9.3 -1.9 9.2 -2.8 8.3 -3.8 8.2 -6 10.3 -5.9 8.3 -8.6 10.3 -7.8 8.3 -8.7 8.3 -9.7 8.2 -8.9 6.5 -9.7 5.8 -8.7 4.2 -8.5 2.9 -8.2 1.9 -12.4 1 0-39.2 6.2-0.2 6.2-0.8 8.2-1.9 6.2-2.2 6.2-2.9 6.2-3.7 6.2-4.5 6.2-5.6 4.3-4.7 4.7-6.2 3.8-6.1 3-6.2 2.3-6.2 1.7-6.2 1.3-8.3 0.3-6.1 -0.3-6.2 -1.3-8.3 -1.7-6.2 -2.3-6.2 -3-6.2 -3.8-6.1 -4.7-6.2 -4.3-4.7 -6.2-5.6 -6.2-4.5 -6.2-3.7 -6.2-2.9 -6.2-2.2 -8.2-1.9 -6.2-0.8 -6.2-0.2zM628.2 756.7l0 39.2 -6.2 0.2 -6.2 0.8 -8.3 1.9 -6.2 2.2 -6.2 2.9 -6.2 3.7 -6.2 4.5 -6.2 5.6 -4.2 4.7 -4.7 6.2 -3.8 6.1 -3 6.2 -2.3 6.2 -1.7 6.2 -1.3 8.3 -0.3 6.2 0.3 6.1 1.3 8.3 1.7 6.2 2.3 6.2 3 6.2 3.8 6.1 4.7 6.2 4.2 4.7 6.2 5.6 6.2 4.5 6.2 3.7 6.2 2.9 6.2 2.2 8.3 1.9 6.2 0.8 6.2 0.2 0 39.2 -8.3-0.4 -8.2-1.4 -8.3-2.4 -10.3-4.4 -9.8-5.5 -8.8-6.2 -10.2-8.2 -8.9-8.3 -9.8-10.3 -8.3-10 -6.2-8.6 -6.1-10.3 -3.7-8.2 -2.8-8.3 -1.9-9.2 -0.6-9.3 0.6-9.4 1.9-9.2 2.8-8.3 3.7-8.2 6.1-10.3 5.9-8.3 8.5-10.3 7.8-8.3 8.8-8.3 9.7-8.2 8.9-6.5 9.7-5.8 8.6-4.2 8.5-2.9 8.3-1.9zM269.9 1102.9l1.9-8.2 3-8.5 4.1-8.7 5.9-9.6 6.5-8.9 8.2-9.7 8.3-8.7 8.3-7.8 10.3-8.5 8.4-6 10.2-6 8.3-3.7 8.3-2.8 9.2-1.9 9.4-0.6 9.3 0.6 9.3 1.9 8.2 2.8 8.3 3.7 10.3 6 8.7 6.2 9.9 8.3 10.4 9.9 8.2 8.8 8.3 10.2 6.2 8.8 5.5 9.7 4.5 10.3 2.4 8.3 1.3 8.2 0.4 8.3 -39.2 0 -0.2-6.2 -0.8-6.2 -2-8.2 -2.2-6.2 -2.9-6.2 -3.6-6.2 -4.6-6.2 -5.6-6.2 -4.7-4.2 -6.2-4.7 -6.2-3.8 -6.2-3 -6.2-2.3 -6.2-1.7 -8.2-1.3 -6.2-0.3 -6.2 0.3 -8.3 1.3 -6.2 1.7 -6.2 2.3 -6.2 3 -6.2 3.8 -6.2 4.7 -4.7 4.2 -5.6 6.2 -4.5 6.2 -3.7 6.2 -2.9 6.2 -2.2 6.2 -2 8.2 -0.7 6.2 -0.2 6.2 -39.3 0z"/>
<path fill="#ff0000" d="M275.3 620.2l27.1 0 0.3 8.3 1.3 8.2 2.3 8.3 2.4 6.1 3 6.2 3.7 6.2 4.6 6.2 5.6 6.2 5 4.5 6.2 4.8 6.2 3.8 8.2 4 6.2 2.3 8.3 2.1 6.2 1 8.3 0.4 8.2-0.4 6.2-1 8.3-2.1 6.2-2.3 8.3-4 6.2-3.8 6.2-4.8 5-4.5 5.5-6.2 4.6-6.2 3.7-6.2 3.1-6.2 2.3-6.1 2.3-8.3 1.3-8.2 0.4-8.3 27 0 -0.6 10.3 -1.8 8.3 -3.2 9.3 -4.1 8.5 -4.2 6.8 -6.2 8.7 -8.3 9.8 -8.2 8.6 -8.6 8.1 -10 8.2 -9 6.2 -7.1 4.2 -8.7 3.9 -6.7 2.2 -9.9 2.1 -8.2 0.5 -8.3-0.5 -9.8-2.1 -6.7-2.2 -8.7-3.9 -7.2-4.2 -8.9-6.2 -10-8.2 -10.7-10.2 -8.3-8.9 -8.2-10.2 -6.2-9.2 -4.2-7.5 -4-9.7 -2.2-7.6 -1.1-6.8zM132.1 763.1l8.2 0.4 6.8 1.1 7.7 2.1 9.8 4.1 7.5 4.1 9.2 6.2 10.2 8.3 8.9 8.2 10.2 10.7 8.2 9.9 6.3 9 4.1 7.1 3.9 8.7 2.3 6.7 2 9.8 0.5 8.3 -0.5 8.2 -2 9.8 -2.3 6.7 -3.9 8.7 -4.1 7.1 -6.2 8.9 -8.3 10 -8.1 8.6 -8.7 8.3 -9.8 8.2 -8.6 6.2 -6.9 4.1 -8.5 4.2 -9.3 3.2 -8.3 1.7 -10.3 0.7 0-27 8.2-0.3 8.3-1.4 8.3-2.2 6.2-2.4 6.2-3 6.2-3.7 6.2-4.6 6.2-5.6 4.5-4.9 4.7-6.2 3.9-6.2 4-8.3 2.3-6.2 2.1-8.2 1-6.2 0.4-8.2 -0.4-8.3 -1-6.2 -2.1-8.2 -2.3-6.2 -4-8.3 -3.9-6.2 -4.7-6.2 -4.5-4.9 -6.2-5.6 -6.2-4.6 -6.2-3.7 -6.2-3 -6.2-2.4 -8.3-2.2 -8.3-1.4 -8.2-0.3zM628.2 763.1l0 27 -8.3 0.3 -8.2 1.4 -8.3 2.2 -6.2 2.4 -6.2 3 -6.2 3.7 -6.2 4.6 -6.2 5.6 -4.5 4.9 -4.8 6.2 -3.8 6.2 -4 8.3 -2.3 6.2 -2.2 8.2 -0.9 6.2 -0.5 8.3 0.5 8.2 0.9 6.2 2.2 8.2 2.3 6.2 4 8.3 3.8 6.2 4.8 6.2 4.5 4.9 6.2 5.6 6.2 4.6 6.2 3.7 6.2 3 6.2 2.4 8.3 2.2 8.2 1.4 8.3 0.3 0 27 -8.3-0.4 -6.8-1.1 -7.6-2.1 -9.8-4.1 -7.5-4.1 -9.2-6.2 -10.3-8.3 -8.9-8.2 -10.1-10.7 -8.3-9.9 -6.2-9 -4.1-7.1 -4-8.7 -2.2-6.7 -2.1-9.8 -0.5-8.2 0.5-8.3 2.1-9.8 2.2-6.7 4-8.7 4.1-7.1 6.2-8.9 8.3-10 8-8.6 8.7-8.3 9.8-8.2 8.7-6.2 6.8-4.1 8.5-4.2 9.4-3.2 8.3-1.7zM276 1105l1.7-8.3 3.3-9.3 4.1-8.5 4.1-6.8 6.2-8.7 8.3-9.8 8.3-8.6 8.6-8.1 10-8.2 8.9-6.2 7.2-4.2 8.7-3.9 6.7-2.2 9.8-2.1 8.3-0.5 8.2 0.5 9.9 2.1 6.7 2.2 8.7 3.9 7.1 4.2 9 6.2 10 8.2 10.6 10.2 8.3 8.9 8.3 10.2 6.2 9.2 4.1 7.5 4.1 9.7 2.1 7.6 1.1 6.8 0.4 8.3 -27 0 -0.4-8.3 -1.3-8.2 -2.3-8.3 -2.3-6.1 -3.1-6.2 -3.7-6.2 -4.6-6.2 -5.5-6.2 -5-4.5 -6.2-4.8 -6.2-3.8 -8.3-4 -6.2-2.3 -8.3-2.1 -6.2-1 -8.2-0.4 -8.3 0.4 -6.2 1 -8.3 2.1 -6.2 2.3 -8.2 4 -6.2 3.8 -6.2 4.8 -5 4.5 -5.6 6.2 -4.6 6.2 -3.7 6.2 -3 6.2 -2.4 6.1 -2.3 8.3 -1.3 8.2 -0.3 8.3 -27.1 0z"/>
</g>
<path d="M133.2 620.5V1114.3H628.0" fill="none" stroke="#000" stroke-width="1.5"/>
<path d="M133.2 1114.3v7.7M133.2 1114.3h-7.7M194.9 1114.3v4.0M133.2 1052.7h-4.0M256.7 1114.3v7.7M133.2 991.0h-7.7M318.4 1114.3v4.0M133.2 929.4h-4.0M380.2 1114.3v7.7M133.2 867.8h-7.7M441.9 1114.3v4.0M133.2 806.1h-4.0M503.7 1114.3v7.7M133.2 744.5h-7.7M565.4 1114.3v4.0M133.2 682.8h-4.0M627.2 1114.3v7.7M133.2 621.2h-7.7" stroke="#000" stroke-width="1.5" fill="none"/>
<text x="132.3" y="1155.9" text-anchor="middle" font-size="38">-0.4</text>
<text x="120.7" y="1124.3" text-anchor="end" font-size="38">-0.4</text>
<text x="255.9" y="1155.9" text-anchor="middle" font-size="38">-0.2</text>
<text x="120.7" y="1001.0" text-anchor="end" font-size="38">-0.2</text>
<text x="380.5" y="1155.9" text-anchor="middle" font-size="38">0.0</text>
<text x="120.7" y="877.8" text-anchor="end" font-size="38">0.0</text>
<text x="504.0" y="1155.9" text-anchor="middle" font-size="38">0.2</text>
<text x="120.7" y="754.5" text-anchor="end" font-size="38">0.2</text>
<text x="627.5" y="1155.9" text-anchor="middle" font-size="38">0.4</text>
<text x="120.7" y="631.2" text-anchor="end" font-size="38">0.4</text>
<text x="380.2" y="1189.3" text-anchor="middle" font-size="38">x (<tspan font-family="'Liberation Serif','DejaVu Serif',serif">μ</tspan>m)</text>
<text transform="translate(27.8 894.0) rotate(-90)" text-anchor="middle" font-size="38">y (<tspan font-family="'Liberation Serif','DejaVu Serif',serif">μ</tspan>m)</text>
<rect x="642.9" y="624.90" width="24.1" height="23.96" fill="#ff0000"/>
<rect x="642.9" y="648.36" width="24.1" height="12.23" fill="#ff1a00"/>
<rect x="642.9" y="660.09" width="24.1" height="12.23" fill="#ff3300"/>
<rect x="642.9" y="671.82" width="24.1" height="12.23" fill="#ff4c00"/>
<rect x="642.9" y="683.55" width="24.1" height="12.23" fill="#ff6600"/>
<rect x="642.9" y="695.29" width="24.1" height="12.23" fill="#ff8000"/>
<rect x="642.9" y="707.02" width="24.1" height="12.23" fill="#ff9900"/>
<rect x="642.9" y="718.75" width="24.1" height="12.23" fill="#ffb300"/>
<rect x="642.9" y="730.48" width="24.1" height="12.23" fill="#ffcc00"/>
<rect x="642.9" y="742.21" width="24.1" height="12.23" fill="#ffe500"/>
<rect x="642.9" y="753.94" width="24.1" height="12.23" fill="#ffff00"/>
<rect x="642.9" y="765.67" width="24.1" height="12.23" fill="#e4ff00"/>
<rect x="642.9" y="777.40" width="24.1" height="12.23" fill="#c9ff00"/>
<rect x="642.9" y="789.13" width="24.1" height="12.23" fill="#aeff00"/>
<rect x="642.9" y="800.86" width="24.1" height="12.23" fill="#94ff00"/>
<rect x="642.9" y="812.60" width="24.1" height="12.23" fill="#79ff00"/>
<rect x="642.9" y="824.33" width="24.1" height="12.23" fill="#5eff00"/>
<rect x="642.9" y="836.06" width="24.1" height="12.23" fill="#43ff00"/>
<rect x="642.9" y="847.79" width="24.1" height="12.23" fill="#28ff00"/>
<rect x="642.9" y="859.52" width="24.1" height="12.23" fill="#0dff00"/>
<rect x="642.9" y="871.25" width="24.1" height="12.23" fill="#00ff0d"/>
<rect x="642.9" y="882.98" width="24.1" height="12.23" fill="#00ff28"/>
<rect x="642.9" y="894.71" width="24.1" height="12.23" fill="#00ff43"/>
<rect x="642.9" y="906.44" width="24.1" height="12.23" fill="#00ff5e"/>
<rect x="642.9" y="918.17" width="24.1" height="12.23" fill="#00ff79"/>
<rect x="642.9" y="929.90" width="24.1" height="12.23" fill="#00ff94"/>
<rect x="642.9" y="941.64" width="24.1" height="12.23" fill="#00ffae"/>
<rect x="642.9" y="953.37" width="24.1" height="12.23" fill="#00ffc9"/>
<rect x="642.9" y="965.10" width="24.1" height="12.23" fill="#00ffe4"/>
<rect x="642.9" y="976.83" width="24.1" height="12.23" fill="#00ffff"/>
<rect x="642.9" y="988.56" width="24.1" height="12.23" fill="#00e6ff"/>
<rect x="642.9" y="1000.29" width="24.1" height="12.23" fill="#00ccff"/>
<rect x="642.9" y="1012.02" width="24.1" height="12.23" fill="#00b2ff"/>
<rect x="642.9" y="1023.75" width="24.1" height="12.23" fill="#0099ff"/>
<rect x="642.9" y="1035.48" width="24.1" height="12.23" fill="#0080ff"/>
<rect x="642.9" y="1047.21" width="24.1" height="12.23" fill="#0066ff"/>
<rect x="642.9" y="1058.95" width="24.1" height="12.23" fill="#004cff"/>
<rect x="642.9" y="1070.68" width="24.1" height="12.23" fill="#0033ff"/>
<rect x="642.9" y="1082.41" width="24.1" height="12.23" fill="#001aff"/>
<rect x="642.9" y="1094.14" width="24.1" height="23.46" fill="#0000ff"/>
<text x="678.5" y="1119.7" font-size="32.5">0.000</text>
<text x="678.5" y="1025.9" font-size="32.5">0.066</text>
<text x="678.5" y="932.0" font-size="32.5">0.132</text>
<text x="678.5" y="838.2" font-size="32.5">0.197</text>
<text x="678.5" y="744.3" font-size="32.5">0.263</text>
<text x="678.5" y="650.5" font-size="32.5">0.329</text>
<rect x="934.8" y="621.2" width="494.0" height="493.2" fill="#0000ff"/>
<path d="M1242 676l4.5 -2.1M1166 963l2.4 -2.3M1038 931l1.0 -2.4M1249 751l3.0 1.8M1361 935l1.9 2.0M1153 993l3.0 4.4M1362 790l5.0 -1.0M1215 1039l3.4 -1.6M1303 1097l5.4 -0.0M1361 943l2.0 2.2M1014 659l0.6 -2.0M1143 716l4.4 1.7M1188 759l0.7 -2.1M1108 652l2.1 -1.5M1299 829l4.5 -2.6M974 902l2.5 -0.4M1244 641l0.4 -1.7M995 818l3.0 2.8M1089 646l1.6 -1.6M1193 668l0.7 -1.4M1021 782l1.3 3.4M1033 832l4.4 -3.0M1094 1054l4.5 2.1M954 795l5.3 0.3M1258 1060l4.4 -1.9M1220 964l1.4 1.5M1378 979l2.2 0.5M1150 683l1.9 0.1M1191 744l3.1 -3.3M1288 894l1.0 -1.3M1348 847l2.5 -1.7M1311 1076l1.5 -2.3M1382 990l3.5 0.2M1174 1020l2.4 -2.7M1052 641l5.2 -0.0M960 957l1.3 -2.1M1100 657l4.5 -2.9M1218 722l1.9 -3.9M1251 651l3.7 -3.1M1207 738l-0.0 1.6M982 838l2.6 2.1M1227 1002l2.1 -0.8M1208 720l4.1 0.8M1132 750l1.3 -4.3M1124 702l1.2 -1.1M1129 694l2.8 3.0M1069 683l3.9 -3.1M1092 870l4.2 2.3M1340 880l3.6 -0.9M1335 894l1.6 1.9M1065 879l5.3 -0.4M1283 1014l2.5 -3.8M1177 1040l1.5 -1.4M953 1020l0.4 -1.5M1162 1030l3.5 1.8M1263 1085l4.6 0.1M996 957l5.3 -1.5M1103 862l4.3 0.4M1144 698l1.6 1.2M1269 698l2.4 4.0M1393 979l0.7 1.8M1309 816l2.4 2.3M1167 694l0.7 1.7M971 884l3.1 -4.2M1169 721l4.9 0.6M1307 1073l2.0 -2.8M961 920l3.5 -4.0M1328 843l3.1 1.5M1006 846l1.9 -2.3M990 988l2.0 4.8M962 949l0.8 1.6M1023 874l2.7 1.7M1091 732l1.5 3.0M1008 972l1.5 -1.3M1076 1092l2.9 1.0M1383 959l1.9 0.7M1011 766l4.3 -0.1M973 835l3.6 2.7M1268 628l4.1 -2.2M1121 656l3.3 -0.2M970 745l1.0 2.2M1307 928l2.1 0.8M1015 768l1.0 -2.3M1037 631l3.8 -3.9M1099 1107l2.3 0.5M1101 1075l2.2 -2.3M1040 767l3.2 -3.9M1247 1064l1.5 -1.8M1239 1060l3.9 -2.8M1250 859l0.8 -1.6M1320 891l5.4 0.7M1091 865l1.0 2.1M1373 956l1.8 -0.6M1343 808l2.1 -1.1M1259 1081l2.9 0.7M974 984l4.0 1.3M1191 969l2.0 4.8M1164 673l1.5 2.3M1372 919l1.2 -1.4M1007 631l4.7 -2.6M1328 838l2.2 -2.3M1357 921l1.2 -3.6M1419 762l2.1 0.6M1362 883l3.4 3.9M1420 817l3.6 -0.7M1030 931l3.3 3.5M1392 950l4.0 3.5M1302 892l1.8 2.0M1162 738l2.6 -4.3M1115 715l4.3 -1.5M1164 685l1.1 -2.8M1368 769l3.0 1.7M1405 973l4.1 -2.6M1363 963l3.2 1.2M1001 869l4.8 -1.9M1187 668l1.8 3.2M1095 662l1.9 3.9M1392 985l3.7 -3.8M989 758l3.2 1.9M1055 676l0.6 1.6M1282 640l1.9 2.7M1179 973l3.0 1.2M1254 646l3.7 2.8M1247 689l2.6 -0.2M1186 780l4.3 1.9M981 790l1.5 2.9M1300 933l2.1 4.7M1127 1073l1.6 -2.4M992 810l1.3 -2.7M1179 1052l4.2 -1.0M1009 829l2.6 -3.6M1415 752l2.3 -1.9M1241 662l2.8 -3.2M1155 724l1.8 3.8M1165 1018l1.8 0.4M1016 872l4.3 2.3M1046 864l1.7 0.6M1325 896l1.2 2.0M1137 664l1.3 -1.6M1208 1032l2.8 -0.6M1418 724l1.4 1.3M977 975l2.5 3.2M1290 1058l3.5 -2.8M1419 780l3.0 -3.7M1386 822l4.6 -1.8M1105 1017l2.6 4.2M1242 631l1.8 -3.7M973 915l2.3 2.4M1286 851l1.9 -1.3M1037 909l4.1 -2.4M1338 954l2.6 3.2M1177 703l3.2 -1.2M1407 757l0.9 -1.2M1342 976l1.4 -2.4M1290 1106l3.3 2.3M1307 862l3.0 0.2M1100 1079l3.0 -0.6M1180 1013l1.4 3.0M1017 772l0.3 -3.1M951 792l1.3 -1.5M1250 705l3.2 1.0M1024 849l2.3 -2.8M1397 831l1.7 3.1M1317 898l1.5 1.7M1266 1100l1.4 2.7M1157 704l1.3 -2.3M1419 999l1.4 -1.6M986 826l1.6 4.3M1392 911l1.3 -1.4M956 891l1.5 0.5M1098 1011l5.0 -1.1M1389 810l3.3 4.1M1089 666l2.1 2.0M1418 1003l1.5 -0.5M1083 713l1.7 -1.2M1368 935l2.0 -1.6M1109 644l1.5 -2.2M1283 638l1.3 -1.9M1372 754l2.4 1.7M1373 923l1.5 2.4M1362 938l2.3 0.9M1101 1056l2.6 2.8M1209 676l1.5 -1.0M1296 664l1.9 -2.8M1176 698l2.7 -0.1M1180 997l1.7 0.6M1091 708l2.5 -0.5M1125 663l3.8 -2.9M1005 878l0.3 1.5M1421 958l2.3 0.2M1135 728l3.7 -0.7M1114 996l4.8 -1.0M1042 903l1.6 -1.6M1310 868l0.8 -3.8M1036 772l1.2 -1.6M992 794l2.9 -1.0M1041 857l3.9 -3.3M1418 942l4.0 -0.7M992 877l1.1 -1.3M1183 1077l3.6 -2.7M1343 830l1.5 -2.4M1045 1097l1.9 -4.5M1013 807l3.0 -3.1M1388 763l1.3 4.7M1258 708l1.2 1.7M1420 746l1.6 1.0M983 805l3.2 -4.2M1217 974l2.1 -1.9M1314 1098l1.1 -2.4M1363 920l2.5 -4.9M1187 1000l2.2 1.9M1064 650l3.7 2.8M1080 635l1.5 1.7M1309 1077l2.8 -4.0M981 947l5.4 -0.7M952 788l3.5 2.6M1236 982l3.6 2.7M1105 720l1.3 -1.4M1317 839l0.9 -2.7M1084 634l2.7 -0.3M1047 869l3.4 0.8M1068 1071l1.2 -1.0M1384 807l1.9 3.1M1238 1077l2.5 1.5M1238 701l1.5 -0.7M1070 921l4.5 -2.2M1308 893l1.9 -4.3M975 768l2.2 -1.5M1228 657l5.2 1.2M1351 920l4.4 -2.3M1066 860l1.9 2.7M1250 1042l3.2 1.8M1371 731l4.2 0.5M1018 881l4.6 1.1M1263 698l4.4 -1.6M1307 679l4.5 -2.5M1172 979l0.9 -3.4M1035 816l4.1 0.8M1385 768l3.4 -0.3M1048 903l1.4 2.7M1397 1021l3.6 -1.5M1201 983l4.7 -1.1M1043 1073l4.1 2.9M1051 809l0.4 -2.3M1295 628l2.6 0.4M1207 675l1.2 -2.3M1135 1016l2.6 1.1M1165 652l2.6 4.4M1047 642l2.7 -2.4M1166 682l1.7 -1.2M1233 732l1.0 -1.2M1060 628l2.2 -2.7M1048 1107l1.4 -3.0M1070 645l2.2 -2.6M1190 670l2.8 4.2M1092 1051l2.1 3.3M1014 913l1.1 3.1M1223 1049l1.2 1.5M1000 963l1.4 1.3M1298 1069l1.8 1.4M1197 983l2.0 2.6M1153 690l4.1 0.5M1286 658l3.1 -0.6M1343 906l1.4 1.9M1149 1031l0.8 -1.5M1060 776l3.1 -2.1M1164 670l2.4 2.9M1362 918l3.1 -2.2M1081 693l2.2 -1.0M1235 716l3.0 2.6M1249 650l2.9 3.0M1329 918l1.8 -0.6M1197 1063l3.5 4.2M1083 816l2.1 -2.2M975 904l2.6 -1.5M1327 839l3.9 -0.7M1246 1090l1.2 1.2M1344 845l2.2 -2.0M1420 781l0.9 1.7M1334 785l1.0 2.9M1010 908l4.2 -2.4M972 931l1.4 1.6M1338 1105l1.8 -2.6M1267 1061l1.6 -3.9M1296 631l1.0 2.1M1181 716l4.2 -2.8M960 986l1.2 -1.5M1177 961l2.3 -3.3M1153 647l4.5 -2.4M1228 993l5.1 1.9M1087 686l2.4 -1.9M1021 899l2.9 -1.9M1287 1089l3.8 1.7M1418 783l3.2 0.3M946 977l2.6 0.2M1419 916l2.8 -0.7M1152 674l2.1 -2.0M1090 1099l0.9 1.2M1202 961l1.8 1.9M1364 934l1.9 -3.1M969 941l4.7 0.4M1184 668l4.4 -2.6M1186 1027l1.1 1.3M959 913l4.0 0.6M1118 683l3.8 1.8M1096 628l1.5 -1.9M1007 906l2.2 0.6M997 979l0.7 -2.9M1324 796l2.5 -4.0M1329 899l2.4 3.4M1239 682l3.1 -2.0M1028 863l1.9 -1.9M1171 1074l3.2 -0.7M1098 1023l2.5 -4.4M1165 718l1.5 0.7M1134 763l3.3 -3.0M1004 909l2.4 -2.2M988 919l3.4 -1.4M1090 1028l1.1 1.5M958 832l1.9 1.5M1293 834l4.4 -2.6M1244 1096l4.6 -0.6M1368 928l1.5 -0.2M1201 768l3.2 -4.3M1264 685l2.1 -1.4M1390 738l2.2 2.7M1348 763l4.9 -2.0M1072 805l3.0 3.1M1007 777l2.8 1.9M1372 740l4.6 -3.0M1341 840l1.7 -1.6M1007 821l1.8 -2.0M1013 818l1.6 -3.3M992 853l4.3 3.3M984 943l2.1 -4.5M1299 700l0.6 1.8M1043 633l3.0 4.4M1019 913l3.7 -1.1M1001 951l2.8 -2.3M1345 938l1.7 4.5M1259 648l0.6 -1.9M1420 817l3.0 -0.4M1323 1078l3.2 -2.3M1139 692l3.5 -2.9M1207 973l3.6 1.3M1306 874l4.5 1.8M1247 710l5.0 -2.2M1115 1069l2.0 -2.5M1004 949l2.4 1.3M1262 675l3.6 -4.0M1105 657l3.0 0.9M1419 994l2.8 0.8M1397 947l1.7 -0.5M1154 1047l1.0 -2.6M1175 780l3.3 -4.0M1276 1066l2.9 -1.7M1171 1018l2.9 -1.3M1314 669l1.3 -0.8M1237 982l1.9 2.6M1285 651l3.1 2.4M1038 830l3.4 -3.7M1306 870l2.6 0.3M1206 1063l2.0 2.8M1129 1039l2.7 -1.2M1203 645l3.0 4.3M963 799l1.5 1.2M1065 1073l1.8 1.4M1352 827l1.2 -1.1M1232 1077l0.9 -1.6M1066 1101l1.4 1.8M1171 681l3.1 -4.3M965 1097l0.7 1.9M1211 789l1.9 3.2M1113 1030l4.6 -2.9M1281 677l2.3 0.1M1247 655l2.0 -2.1M1252 1015l4.5 -1.5M983 853l2.8 2.6M1396 758l3.5 3.8M1120 1018l1.6 1.4M1197 1012l1.6 1.8M1389 949l2.1 -2.8M1290 1035l4.7 -1.5M1115 1056l2.4 0.9M1209 707l2.6 -0.9M1363 843l2.6 1.0M1154 1041l3.3 -0.6M1037 1037l1.5 -0.1M1375 1006l2.1 -1.6M1261 1099l3.3 4.1M1216 635l3.0 1.9M1336 893l2.0 -1.3M1007 963l2.4 -3.0M1295 1056l0.8 -1.3M947 797l1.8 1.8M1280 676l0.2 4.2M1071 1038l3.9 -1.7M949 954l3.9 -3.0M1076 825l1.0 2.5M1215 984l1.7 0.9M1062 1086l1.5 -1.9M1209 1024l1.3 -2.4M1035 876l2.0 2.2M1049 896l2.8 0.9M1391 921l1.1 -1.6M1153 1077l0.6 -1.4M1170 678l1.2 2.0M1122 684l2.6 -0.5M1231 682l1.2 -3.3M1371 929l2.7 -3.4M1050 891l3.2 -3.7M1020 883l2.3 -2.6M1041 668l4.4 1.5M1135 703l1.6 1.1M1295 630l0.9 -4.8M982 901l2.3 -2.2M1117 1068l3.8 3.9M1379 739l3.9 2.7M1097 1047l0.8 -1.6M1015 793l2.8 3.9M1074 1050l1.5 -0.7M1410 924l1.6 2.1M1313 1099l1.1 3.6M972 940l2.1 -2.3M1103 1095l2.1 -3.5M997 839l2.2 1.5M983 797l2.3 -1.8M1093 659l0.6 2.3M1274 647l1.4 2.3M1098 1020l2.8 -4.1M1156 714l1.4 1.0M974 859l3.3 -2.1M1234 1018l1.1 -1.4M1053 836l2.0 5.0M1398 1007l1.3 1.0M1413 805l2.3 2.2M1368 765l2.5 1.1M1065 849l2.5 -3.2M1103 661l2.6 -1.6M1397 968l3.4 -2.6M1125 707l2.7 2.8M1408 741l3.3 1.7M1285 682l2.9 0.9M1354 1099l2.7 -1.0M1361 920l3.6 3.6M1356 932l2.0 -2.1M1115 700l5.2 -0.2M1413 992l3.9 0.1M953 996l4.5 -1.9M1365 976l3.6 1.3M1074 1081l1.3 1.9M1258 695l1.3 -1.0M968 885l4.9 -1.9M1136 1041l2.5 -2.0M1021 903l0.1 -5.5M1054 949l4.7 1.1M1415 915l1.1 -1.5M1009 844l2.8 4.0M1290 1041l2.3 3.8M1142 768l1.9 1.0M1358 798l1.8 -1.7M1309 640l2.1 -1.6M1350 815l4.3 2.2M1255 1064l3.5 -2.7M1112 671l3.1 0.7M1387 963l2.7 -2.5M945 760l4.0 3.4M1084 669l3.0 -4.3M1077 651l0.9 2.8M1085 1098l2.8 -3.1M1105 1032l2.7 -0.3M1275 721l1.3 -1.3M1393 945l2.2 4.6M949 943l1.2 1.6M1089 1032l4.4 -2.1M1381 970l1.3 -3.4M1397 744l4.6 2.1M1222 667l1.0 1.4M1133 731l1.3 4.1M1104 681l2.8 -2.9M1251 694l1.1 2.0M1054 904l5.2 1.2M1237 694l4.0 2.9M1228 1043l1.6 -3.1M1355 1052l3.6 -2.8M1392 800l1.6 -2.2M1421 1024l1.8 2.2M1188 1055l1.6 1.0M1321 911l1.8 -0.4M1100 1027l2.0 -0.8M1341 882l2.4 -4.0M1226 712l2.8 0.7M961 949l0.5 1.6M1056 950l4.1 3.4M1111 726l2.2 0.3M1340 769l1.8 1.6M1041 907l1.4 -4.0M1373 809l4.8 -2.0M1247 1074l2.5 4.9M1022 828l1.3 0.8M1272 702l1.0 -1.4M1152 726l1.5 1.7M1113 1077l1.6 2.2M1177 707l1.2 1.3M1379 766l3.3 -2.5M1238 703l1.4 1.3M1338 803l3.5 -3.6M1265 644l4.2 1.6M1327 856l1.3 -1.3M1186 703l1.0 1.1M1404 786l2.2 1.1M1280 1044l1.5 -3.3M1008 813l3.0 -3.5M1264 1103l2.5 -2.5M1125 700l2.7 3.0M1210 674l4.5 -2.8M1301 1053l3.8 -2.5M1011 892l1.2 1.5M1323 814l1.7 -3.2M1209 978l4.4 2.2M1322 647l2.1 3.6M971 787l2.3 -4.4M1089 642l1.3 -1.7M1209 1006l1.8 -2.1M1094 1011l2.0 -3.2M1172 734l3.7 1.1M1100 874l3.6 -3.2M1294 1073l2.8 0.6M948 1037l2.6 2.1M1031 1085l3.3 3.4M1077 1029l3.7 -0.9M1093 634l4.2 1.9M1080 889l2.7 0.7M1077 911l2.2 2.3M1251 1034l1.2 0.9M1224 1017l4.5 3.1M1378 989l4.4 1.9M1213 938l0.3 1.9M1199 672l1.9 0.6M1064 665l1.1 1.1M1394 939l1.8 -0.9M1155 1037l2.6 2.6M1421 772l2.3 -2.4M1117 915l3.8 -2.7M1176 696l2.2 2.7M1182 698l1.5 -5.2M1264 645l1.1 1.4M1401 811l3.4 -0.3M1259 1067l1.5 0.6M1383 638l3.6 1.8M1042 900l1.4 2.5M1303 679l2.6 2.5M1054 688l1.4 -2.2M1259 1069l3.7 1.4M1306 867l1.5 1.6M1254 1067l3.0 -0.1M979 939l1.2 3.8M1189 1025l2.7 -3.2M1223 1023l2.9 -1.7M1018 948l2.2 -2.8M1266 755l1.4 1.0M1263 630l2.2 -2.5M1060 869l3.3 -2.7M1313 922l2.3 2.9M1133 729l3.4 -0.5M1401 715l1.7 -0.7M1241 700l1.8 -1.4M1212 763l1.2 0.9M1281 1103l3.0 3.1M1110 694l1.9 0.6M974 937l1.8 -1.3M1265 784l1.6 2.4M1402 812l3.5 -1.8M1256 1057l0.8 1.9M1293 841l1.3 -2.6M1227 702l3.3 1.2M1102 1038l1.8 1.6M1147 655l1.2 3.1M993 877l1.3 -2.1M1213 676l3.5 -3.3M1131 747l1.3 5.2M1367 815l2.1 4.0M1002 793l2.7 -3.7M1112 674l4.1 0.9M1214 963l1.4 -3.0M1387 725l3.1 -1.4M1059 1100l2.4 -1.7M1338 897l5.2 0.5M1249 1058l2.7 -4.6M967 777l3.4 3.3M1233 1063l3.5 -1.4M1091 637l3.2 2.7M1047 927l2.6 1.5M1131 722l0.8 4.4M1004 814l1.3 -1.9M1234 1104l1.0 -2.1M1336 875l1.2 -1.3M1125 665l2.3 -3.4M1160 668l2.2 0.4M1399 936l2.0 1.2" stroke="#0c30ff" stroke-width="1.8" stroke-linecap="round" fill="none" opacity=".5"/>
<path d="M934.8 620.5V1114.4H1429.5" fill="none" stroke="#000" stroke-width="1.5"/>
<path d="M934.8 1114.4v7.7M934.8 1114.4h-7.7M996.5 1114.4v4.0M934.8 1052.8h-4.0M1058.3 1114.4v7.7M934.8 991.1h-7.7M1120.0 1114.4v4.0M934.8 929.5h-4.0M1181.8 1114.4v7.7M934.8 867.8h-7.7M1243.5 1114.4v4.0M934.8 806.2h-4.0M1305.3 1114.4v7.7M934.8 744.5h-7.7M1367.0 1114.4v4.0M934.8 682.9h-4.0M1428.8 1114.4v7.7M934.8 621.2h-7.7" stroke="#000" stroke-width="1.5" fill="none"/>
<text x="934.0" y="1156.0" text-anchor="middle" font-size="38">-0.4</text>
<text x="921.2" y="1124.4" text-anchor="end" font-size="38">-0.4</text>
<text x="1057.5" y="1156.0" text-anchor="middle" font-size="38">-0.2</text>
<text x="921.2" y="1001.1" text-anchor="end" font-size="38">-0.2</text>
<text x="1182.1" y="1156.0" text-anchor="middle" font-size="38">0.0</text>
<text x="921.2" y="877.8" text-anchor="end" font-size="38">0.0</text>
<text x="1305.6" y="1156.0" text-anchor="middle" font-size="38">0.2</text>
<text x="921.2" y="754.5" text-anchor="end" font-size="38">0.2</text>
<text x="1429.1" y="1156.0" text-anchor="middle" font-size="38">0.4</text>
<text x="921.2" y="631.2" text-anchor="end" font-size="38">0.4</text>
<text x="1181.8" y="1189.4" text-anchor="middle" font-size="38">x (<tspan font-family="'Liberation Serif','DejaVu Serif',serif">μ</tspan>m)</text>
<text transform="translate(855.4 894.1) rotate(-90)" text-anchor="middle" font-size="38">y (<tspan font-family="'Liberation Serif','DejaVu Serif',serif">μ</tspan>m)</text>
<rect x="1442.5" y="621.90" width="24.3" height="23.90" fill="#ff0000"/>
<rect x="1442.5" y="645.30" width="24.3" height="12.20" fill="#ff1a00"/>
<rect x="1442.5" y="657.01" width="24.3" height="12.20" fill="#ff3300"/>
<rect x="1442.5" y="668.71" width="24.3" height="12.20" fill="#ff4c00"/>
<rect x="1442.5" y="680.41" width="24.3" height="12.20" fill="#ff6600"/>
<rect x="1442.5" y="692.11" width="24.3" height="12.20" fill="#ff8000"/>
<rect x="1442.5" y="703.82" width="24.3" height="12.20" fill="#ff9900"/>
<rect x="1442.5" y="715.52" width="24.3" height="12.20" fill="#ffb300"/>
<rect x="1442.5" y="727.22" width="24.3" height="12.20" fill="#ffcc00"/>
<rect x="1442.5" y="738.92" width="24.3" height="12.20" fill="#ffe500"/>
<rect x="1442.5" y="750.63" width="24.3" height="12.20" fill="#ffff00"/>
<rect x="1442.5" y="762.33" width="24.3" height="12.20" fill="#e4ff00"/>
<rect x="1442.5" y="774.03" width="24.3" height="12.20" fill="#c9ff00"/>
<rect x="1442.5" y="785.73" width="24.3" height="12.20" fill="#aeff00"/>
<rect x="1442.5" y="797.44" width="24.3" height="12.20" fill="#94ff00"/>
<rect x="1442.5" y="809.14" width="24.3" height="12.20" fill="#79ff00"/>
<rect x="1442.5" y="820.84" width="24.3" height="12.20" fill="#5eff00"/>
<rect x="1442.5" y="832.54" width="24.3" height="12.20" fill="#43ff00"/>
<rect x="1442.5" y="844.25" width="24.3" height="12.20" fill="#28ff00"/>
<rect x="1442.5" y="855.95" width="24.3" height="12.20" fill="#0dff00"/>
<rect x="1442.5" y="867.65" width="24.3" height="12.20" fill="#00ff0d"/>
<rect x="1442.5" y="879.35" width="24.3" height="12.20" fill="#00ff28"/>
<rect x="1442.5" y="891.05" width="24.3" height="12.20" fill="#00ff43"/>
<rect x="1442.5" y="902.76" width="24.3" height="12.20" fill="#00ff5e"/>
<rect x="1442.5" y="914.46" width="24.3" height="12.20" fill="#00ff79"/>
<rect x="1442.5" y="926.16" width="24.3" height="12.20" fill="#00ff94"/>
<rect x="1442.5" y="937.86" width="24.3" height="12.20" fill="#00ffae"/>
<rect x="1442.5" y="949.57" width="24.3" height="12.20" fill="#00ffc9"/>
<rect x="1442.5" y="961.27" width="24.3" height="12.20" fill="#00ffe4"/>
<rect x="1442.5" y="972.97" width="24.3" height="12.20" fill="#00ffff"/>
<rect x="1442.5" y="984.67" width="24.3" height="12.20" fill="#00e6ff"/>
<rect x="1442.5" y="996.38" width="24.3" height="12.20" fill="#00ccff"/>
<rect x="1442.5" y="1008.08" width="24.3" height="12.20" fill="#00b2ff"/>
<rect x="1442.5" y="1019.78" width="24.3" height="12.20" fill="#0099ff"/>
<rect x="1442.5" y="1031.48" width="24.3" height="12.20" fill="#0080ff"/>
<rect x="1442.5" y="1043.19" width="24.3" height="12.20" fill="#0066ff"/>
<rect x="1442.5" y="1054.89" width="24.3" height="12.20" fill="#004cff"/>
<rect x="1442.5" y="1066.59" width="24.3" height="12.20" fill="#0033ff"/>
<rect x="1442.5" y="1078.29" width="24.3" height="12.20" fill="#001aff"/>
<rect x="1442.5" y="1090.00" width="24.3" height="23.40" fill="#0000ff"/>
<text x="1478.3" y="1114.9" font-size="32.5">0.0</text>
<text x="1478.3" y="1021.3" font-size="32.5">2.0E-15</text>
<text x="1478.3" y="927.7" font-size="32.5">4.0E-15</text>
<text x="1478.3" y="834.0" font-size="32.5">6.0E-15</text>
<text x="1478.3" y="740.4" font-size="32.5">8.0E-15</text>
<text x="1478.3" y="646.8" font-size="32.5">1.0E-14</text>
<rect x="544.2" y="70.5" width="54.6" height="49.5" fill="#fff"/><text x="544.4" y="110.3" font-size="45">(a)</text>
<rect x="529.9" y="670.0" width="54.0" height="48.8" fill="#fff"/><text x="529.8" y="709.1" font-size="45">(b)</text>
<rect x="1328.0" y="660.0" width="52.0" height="49.7" fill="#fff"/><text x="1328.3" y="699.8" font-size="45">(c)</text>
<text x="1409.4" y="108.3" font-size="45">(d)</text>
<g transform="translate(771 0) rotate(90)" font-size="45"><text x="247.2" y="0">(</text><text transform="translate(265.2 0.0) skewX(-3)" font-style="italic" letter-spacing="0.5">U/kT</text><text x="368.0" y="0">)</text></g>
<g transform="translate(777.5 0) rotate(90)" font-size="45"><text x="801.7" y="0">(</text><text x="816.8" y="0">|</text><text transform="translate(830.6 0.0) skewX(-3)" font-style="italic">F</text><text transform="translate(857.3 17.3) skewX(-3)" font-style="italic" font-size="25">g</text><text x="869.6" y="0">|</text><text transform="translate(882.6 0.0) skewX(-3)" font-style="italic" letter-spacing="0.5">/pN</text><text x="964.2" y="0">)</text></g>
<g transform="translate(1618.4 0) rotate(90)" font-size="45"><text x="789.7" y="0">(</text><text x="804.8" y="0">|</text><text transform="translate(818.6 0.0) skewX(-3)" font-style="italic">F</text><text transform="translate(845.3 17.3) skewX(-3)" font-style="italic" font-size="25">k</text><text x="857.6" y="0">|</text><text transform="translate(870.6 0.0) skewX(-3)" font-style="italic" letter-spacing="0.5">/pN</text><text x="952.2" y="0">)</text></g>
<g stroke="#000" fill="none" stroke-linecap="round">
<ellipse cx="1206.9" cy="70.8" rx="15.7" ry="15.7" stroke-width="3.4"/><path d="M1193.5 61.5L1222.3 82.4M1220.3 63.6L1193.5 75.0" stroke-width="2.9"/>
<ellipse cx="1206.9" cy="499.7" rx="15.7" ry="15.9" stroke-width="3.4"/><path d="M1191.8 488.5L1215.6 510.1M1218.5 490.1L1193.5 505.4" stroke-width="2.9"/>
</g>
<path d="M1205.5 33.6V230.5M1205.6 341.1V534.8M949.9 285.3H1154.7M1258.5 285.3H1463.7" stroke="#fb0207" stroke-width="5" stroke-linecap="round" fill="none"/>
<g stroke="#000" fill="none" stroke-linecap="round">
<ellipse cx="1000.8" cy="284.9" rx="15.0" ry="16.0" stroke-width="3.4"/><path d="M991.7 273.5L1006.2 298.0M1006.2 273.0L992.6 301.9" stroke-width="2.9"/>
<ellipse cx="1412.8" cy="284.9" rx="15.2" ry="16.0" stroke-width="3.4"/><path d="M1405.5 273.0L1415.7 296.5M1420.6 272.4L1403.6 301.6" stroke-width="2.9"/>
</g>
<path fill="#fb0207" transform="translate(1205.5 135.1) rotate(0)" d="M-8.3 0.9Q-8.4-0.4-7.2 0.1L0 2.9L7.2 0.1Q8.4-0.4 8.3 0.9L8.2 5.5C7.6 12 5.2 19.5 2.4 26.8L-2.4 26.8C-5.2 19.5-7.6 12-8.2 5.5Z"/>
<path fill="#fb0207" transform="translate(1205.6 430.4) rotate(180)" d="M-8.3 0.9Q-8.4-0.4-7.2 0.1L0 2.9L7.2 0.1Q8.4-0.4 8.3 0.9L8.2 5.5C7.6 12 5.2 19.5 2.4 26.8L-2.4 26.8C-5.2 19.5-7.6 12-8.2 5.5Z"/>
<path fill="#fb0207" transform="translate(1093.2 285.3) rotate(-90)" d="M-8.3 0.9Q-8.4-0.4-7.2 0.1L0 2.9L7.2 0.1Q8.4-0.4 8.3 0.9L8.2 5.5C7.6 12 5.2 19.5 2.4 26.8L-2.4 26.8C-5.2 19.5-7.6 12-8.2 5.5Z"/>
<path fill="#fb0207" transform="translate(1323.7 285.3) rotate(90)" d="M-8.3 0.9Q-8.4-0.4-7.2 0.1L0 2.9L7.2 0.1Q8.4-0.4 8.3 0.9L8.2 5.5C7.6 12 5.2 19.5 2.4 26.8L-2.4 26.8C-5.2 19.5-7.6 12-8.2 5.5Z"/>
<text x="1147.6" y="154.7" font-size="48" fill="#fb0207">k</text><text x="1171.2" y="174.8" font-size="31" fill="#fb0207">2</text>
<text x="1302.5" y="245.0" font-size="48" fill="#fb0207">k</text><text x="1326.7" y="264.2" font-size="31" fill="#fb0207">1</text>
<text x="1094.3" y="347.0" font-size="48" fill="#fb0207">k</text><text x="1119.5" y="366.7" font-size="31" fill="#fb0207">3</text>
<text x="1233.1" y="418.9" font-size="48" fill="#fb0207">k</text><text x="1257.3" y="438.5" font-size="31" fill="#fb0207">4</text>
<text transform="translate(1251.9 82.7) scale(0.892 1)" x="-4.1" y="0" font-size="52.5">E</text>
<text transform="translate(988.7 247.6) scale(0.892 1)" x="-4.1" y="0" font-size="52.5">E</text>
<text transform="translate(1411.6 250.4) scale(0.892 1)" x="-4.1" y="0" font-size="52.5">E</text>
<text transform="translate(1239.3 518.2) scale(0.892 1)" x="-4.1" y="0" font-size="52.5">E</text>
</svg>
</body></html>
